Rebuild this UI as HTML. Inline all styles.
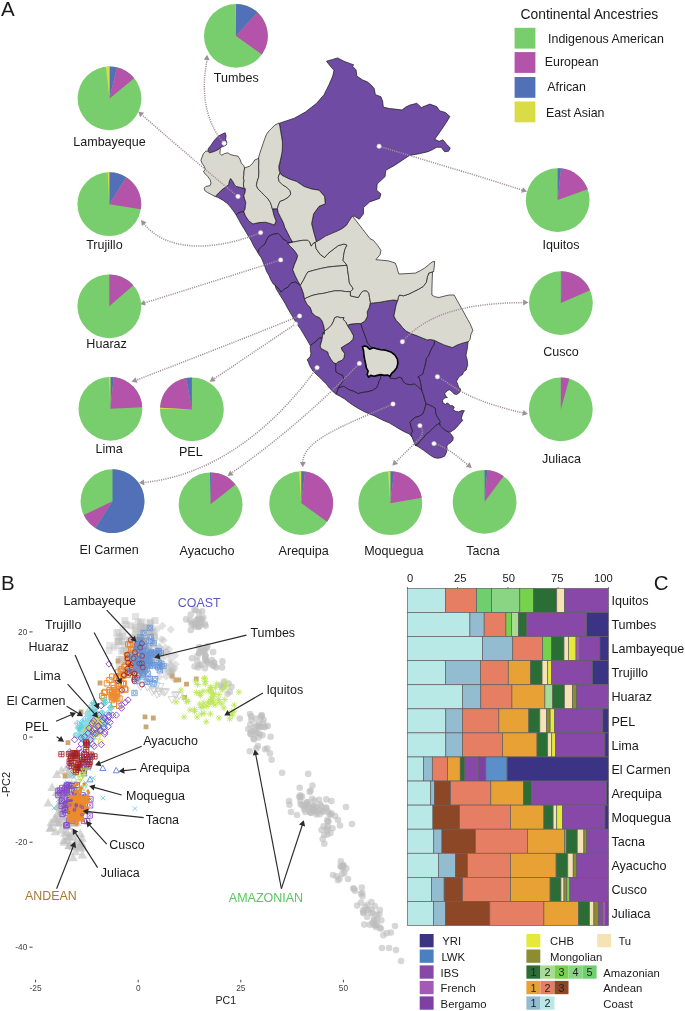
<!DOCTYPE html>
<html lang="en"><head><meta charset="utf-8"><title>Figure</title>
<style>html,body{margin:0;padding:0;background:#fff}body{width:685px;height:1011px;overflow:hidden;font-family:"Liberation Sans",Arial,sans-serif}svg{display:block}</style>
</head><body>
<svg width="685" height="1011" viewBox="0 0 685 1011" font-family="'Liberation Sans', Arial, sans-serif"><g id="panelA">
<g stroke="#1a1a1a" stroke-width="0.7" stroke-linejoin="round">
<polygon points="326.5,61.2 332.7,59.4 337.7,57.9 343.9,61.2 353.8,64.9 352.3,66.1 356.1,69.9 356.8,76.1 362.3,79.8 367.2,81.8 370.9,84.7 374.2,88.5 375.4,94.7 380.9,96.7 382.6,100.9 383.3,107.1 389.6,108.6 395.0,109.1 402.0,110.0 405.7,107.1 409.9,105.1 416.8,103.3 421.3,107.6 425.5,105.8 429.8,104.1 436.7,106.6 439.7,110.8 445.4,112.5 449.9,116.5 446.6,122.0 441.7,129.4 434.7,139.3 439.2,141.3 442.9,139.8 446.6,144.3 450.3,148.0 448.6,151.2 444.6,151.7 441.2,147.3 436.7,147.3 432.2,149.8 428.0,151.7 419.3,153.7 409.4,155.5 402.0,160.4 394.5,165.4 385.8,170.3 385.1,176.6 377.1,184.0 376.7,190.2 380.9,193.9 379.6,198.4 369.7,201.9 363.5,207.6 363.5,213.8 359.3,219.2 353.6,215.8 348.6,223.7 339.9,229.9 330.2,236.1 321.6,241.1 316.6,242.3 314.1,233.6 311.6,223.7 313.6,213.8 319.1,206.3 325.3,203.8 324.5,196.4 319.1,190.2 311.6,189.0 304.2,186.5 296.7,181.5 289.3,179.0 281.8,175.3 278.9,169.1 280.6,159.2 282.3,149.3 281.8,136.8 279.4,123.2 286.8,120.7 294.3,118.2 305.4,112.0 316.6,103.3 324.0,94.7 329.0,84.7 332.7,76.1 334.0,70.3 330.2,66.1" fill="#704ba3"/>
<polygon points="208.1,148.9 211.0,145.2 214.3,140.2 218.5,136.0 222.7,133.8 225.3,132.8 226.1,136.0 225.6,139.3 226.9,142.7 226.1,145.2 222.7,146.6 220.2,147.7 218.5,149.4 215.2,151.1 211.8,152.3 209.3,152.8 208.1,151.1" fill="#704ba3"/>
<polygon points="215.2,196.5 218.5,193.1 221.9,189.8 225.3,187.2 228.6,184.7 229.5,180.5 230.6,178.5 232.8,181.4 234.5,184.7 236.2,186.4 239.6,187.2 242.9,188.1 245.4,188.9 245.1,192.3 243.8,195.7 244.6,199.0 245.8,202.4 245.4,205.7 245.1,209.1 243.8,211.6 240.4,212.1 237.9,213.3 236.2,215.0 234.5,212.5 232.0,209.1 229.5,205.7 226.9,203.2 223.6,200.7 220.2,198.7 217.7,197.3" fill="#704ba3"/>
<polygon points="236.2,215.0 237.9,213.3 240.4,212.1 243.8,211.6 245.4,215.8 248.8,220.9 253.0,223.9 258.9,222.6 265.6,222.2 271.5,223.9 274.4,225.1 276.0,220.9 274.0,215.8 272.7,209.1 277.4,208.8 278.2,212.5 280.7,217.5 283.3,222.6 284.9,227.6 287.5,232.6 290.0,237.7 292.5,241.9 289.1,243.6 286.6,241.0 283.3,239.4 280.7,236.0 278.2,233.5 273.2,234.3 269.0,236.0 266.5,240.2 264.8,244.4 262.2,246.1 258.9,249.5 258.0,252.8 256.4,250.3 253.8,246.1 251.3,241.0 248.8,236.8 246.3,232.6 243.8,228.4 241.2,224.2 239.0,220.0 237.0,216.7" fill="#704ba3"/>
<polygon points="258.0,252.8 258.9,249.5 262.2,246.1 264.8,244.4 266.5,240.2 269.0,236.0 273.2,234.3 278.2,233.5 280.7,236.0 283.3,239.4 286.6,241.0 289.1,243.6 292.5,241.9 287.7,243.4 290.2,246.2 294.4,250.4 297.7,255.5 296.9,258.8 294.4,264.7 292.7,269.8 295.2,275.7 297.7,280.7 300.3,285.4 295.2,282.0 291.0,283.2 287.7,287.4 284.3,289.1 280.9,292.1 279.2,289.1 276.7,287.4 275.0,284.9 273.2,283.9 270.7,279.7 269.0,275.5 266.5,271.3 264.8,266.3 263.1,262.1 261.4,257.9 258.9,254.5" fill="#704ba3"/>
<polygon points="275.0,284.9 276.7,287.4 279.2,289.1 280.9,292.1 284.3,289.1 287.7,287.4 291.0,283.2 295.2,282.0 300.3,285.4 301.9,289.1 303.6,294.1 304.5,298.9 305.3,300.9 307.0,304.2 310.3,307.6 312.0,312.6 315.4,316.0 319.6,317.7 322.1,321.0 323.8,326.1 324.6,331.1 324.1,334.5 323.5,332.0 322.7,335.0 322.4,337.6 318.5,338.4 316.8,340.9 310.3,345.5 307.8,341.2 305.3,337.0 302.8,332.8 300.3,328.6 297.7,325.3 295.2,321.0 292.7,316.8 290.2,312.6 287.7,308.4 285.5,304.2 283.1,300.0 280.4,295.8 278.1,292.1 275.9,288.3" fill="#704ba3"/>
<polygon points="310.3,345.5 316.8,340.9 318.5,338.4 322.4,337.6 321.9,340.1 320.2,346.0 321.0,348.5 324.4,350.2 327.7,351.9 328.6,355.2 331.1,359.4 333.6,362.8 336.1,363.6 335.6,367.8 336.1,372.0 339.5,374.0 342.9,375.4 344.0,379.6 341.2,383.8 338.3,388.0 337.0,392.2 336.1,394.2 332.8,391.4 329.4,388.0 326.1,383.8 322.7,380.4 319.3,377.1 316.0,374.0 313.1,371.2 310.9,367.8 309.2,364.5 308.4,361.9 307.1,359.9 308.1,358.6 310.1,356.9 310.9,353.5 310.4,350.2 310.3,346.8" fill="#704ba3"/>
<polygon points="347.3,325.3 350.7,324.1 355.7,323.6 360.8,323.6 363.3,331.1 365.8,337.9 367.5,342.9 370.9,347.1 373.1,347.7 369.8,349.3 367.2,346.8 364.7,346.0 362.5,346.8 363.6,351.0 363.9,355.2 364.7,359.4 365.6,363.6 366.4,367.8 368.1,371.2 367.2,374.6 368.6,377.1 370.6,375.4 374.0,376.2 377.3,375.4 380.7,374.6 380.7,378.8 379.0,381.3 378.2,384.6 376.5,388.0 372.3,390.5 367.2,391.9 362.2,392.5 358.0,393.6 353.8,391.4 348.8,389.7 343.7,386.3 338.3,388.0 341.2,383.8 344.0,379.6 342.9,375.4 339.5,374.0 336.1,372.0 335.6,367.8 336.1,363.6 337.8,361.9 342.0,360.3 344.0,357.7 344.6,353.5 342.0,350.2 341.2,347.7 345.4,345.1 349.6,342.6 353.0,339.2 353.5,335.9 351.3,331.7 350.4,330.0 349.9,329.5" fill="#704ba3"/>
<polygon points="338.3,388.0 343.7,386.3 348.8,389.7 353.8,391.4 358.0,393.6 362.2,392.5 367.2,391.9 372.3,390.5 376.5,388.0 378.2,384.6 379.0,381.3 380.7,378.8 380.7,374.6 384.1,375.4 387.4,375.1 389.9,376.2 391.6,373.4 390.0,378.0 395.0,378.8 399.2,377.2 401.8,378.0 403.1,381.4 406.0,383.9 410.2,384.7 414.4,383.9 417.7,386.4 421.6,389.8 421.9,390.6 423.6,394.8 424.5,399.0 426.1,403.7 425.3,406.6 424.5,409.9 422.8,414.1 419.4,416.2 415.2,417.5 411.9,420.0 410.2,422.6 411.0,426.8 412.7,431.0 411.0,434.3 412.6,437.6 409.3,433.9 404.2,431.7 399.2,428.9 394.1,425.8 389.1,422.8 384.1,420.8 379.0,418.3 374.0,415.7 368.9,413.7 363.9,411.5 358.8,408.7 353.8,405.7 348.8,402.3 344.6,398.9 340.3,396.4 336.1,394.2 337.0,392.2" fill="#704ba3"/>
<polygon points="426.1,403.7 429.5,404.9 432.9,406.6 435.4,408.3 435.7,412.5 436.7,415.8 438.8,419.2 440.4,421.7 439.6,423.4 436.2,425.1 432.9,428.4 429.5,431.8 426.1,434.3 423.6,437.7 420.3,441.0 417.7,444.4 415.2,445.3 413.5,441.0 411.9,436.8 411.0,434.3 412.7,431.0 411.0,426.8 410.2,422.6 411.9,420.0 415.2,417.5 419.4,416.2 422.8,414.1 424.5,409.9 425.3,406.6" fill="#704ba3"/>
<polygon points="415.2,445.3 417.7,444.4 420.3,441.0 423.6,437.7 426.1,434.3 429.5,431.8 432.9,428.4 436.2,425.1 439.6,423.4 440.4,425.9 443.0,428.4 446.3,431.0 449.2,432.3 451.5,434.7 453.2,437.2 452.9,440.2 450.9,442.4 448.3,444.1 446.8,446.1 447.2,449.5 446.3,452.8 444.6,456.2 440.4,457.9 437.1,458.2 434.0,457.5 430.3,455.3 427.0,452.8 423.6,450.3 420.3,448.1 417.7,446.4" fill="#704ba3"/>
<polygon points="434.6,340.2 438.8,341.9 443.8,343.9 448.8,346.1 453.0,347.2 457.2,344.9 463.1,342.7 468.2,341.0 467.7,345.2 467.0,350.3 466.0,355.3 467.3,360.3 467.7,365.4 466.7,367.9 466.2,370.0 463.5,371.8 462.7,374.4 460.0,376.1 457.8,378.8 456.5,381.4 457.8,384.4 458.7,387.5 460.5,388.8 460.7,391.0 458.7,393.2 456.5,394.5 454.3,394.1 452.6,392.3 450.8,390.6 449.1,389.7 446.9,391.0 444.7,393.6 445.6,395.8 447.3,397.6 446.0,397.6 443.8,398.5 442.5,400.6 443.2,403.3 445.6,404.3 447.3,402.8 448.2,403.7 450.4,405.5 453.0,405.9 454.3,407.2 453.0,409.8 455.6,411.2 458.7,411.9 461.8,410.5 464.4,410.7 463.1,412.9 462.2,415.5 461.3,418.2 462.7,420.4 460.9,422.5 458.7,424.7 456.5,427.4 454.3,429.5 452.1,430.9 450.4,432.2 446.3,431.0 443.0,428.4 440.4,425.9 439.6,423.4 440.4,421.7 438.8,419.2 436.7,415.8 435.7,412.5 435.4,408.3 432.9,406.6 429.5,404.9 426.1,403.7 424.5,399.0 423.6,394.8 421.9,390.6 421.1,386.4 420.3,382.2 419.4,378.0 417.7,377.2 420.3,375.5 422.8,373.8 423.6,370.4 424.5,367.1 425.6,362.9 426.1,358.7 428.7,355.3 430.3,351.1 432.0,347.7 434.0,344.4" fill="#704ba3"/>
<polygon points="370.5,302.6 369.2,307.6 367.2,311.8 367.5,316.0 365.0,321.0 360.8,323.6 363.3,331.1 365.8,337.9 367.5,342.9 370.9,347.1 373.1,347.7 376.5,348.8 380.7,349.8 385.7,350.2 390.8,351.9 395.0,355.2 397.5,359.4 397.8,363.6 396.7,367.8 394.1,371.2 391.6,373.4 390.0,378.0 395.0,378.8 399.2,377.2 401.8,378.0 403.1,381.4 406.0,383.9 410.2,384.7 414.4,383.9 417.7,386.4 421.6,389.8 421.1,386.4 420.3,382.2 419.4,378.0 417.7,377.2 420.3,375.5 422.8,373.8 423.6,370.4 424.5,367.1 425.6,362.9 426.1,358.7 428.7,355.3 430.3,351.1 432.0,347.7 434.0,344.4 434.6,340.2 434.7,340.4 430.5,339.5 427.2,339.9 422.1,337.9 417.1,335.8 411.2,333.7 406.1,331.1 402.8,327.8 399.4,323.6 396.1,320.2 393.9,316.0 394.9,311.0 396.1,305.1 397.7,300.5 393.5,300.0 386.8,300.9 380.1,302.2 373.4,302.9 370.0,303.4" fill="#704ba3"/>
<polygon points="208.1,151.1 209.3,152.8 211.8,152.3 215.2,151.1 218.5,149.4 220.2,147.7 220.2,150.3 219.9,153.3 221.6,155.3 224.4,153.6 227.8,152.8 230.3,154.5 234.5,155.6 237.9,156.1 240.1,159.5 241.2,162.9 243.8,165.7 244.6,167.9 244.1,171.3 243.8,175.5 243.3,178.0 244.1,180.5 243.4,183.9 243.8,187.2 245.4,188.9 242.9,188.1 239.6,187.2 236.2,186.4 234.5,184.7 232.8,181.4 230.6,178.5 229.5,180.5 228.6,184.7 225.3,187.2 221.9,189.8 218.5,193.1 215.2,196.5 211.8,194.8 207.6,192.6 204.8,190.6 204.2,188.1 205.9,186.4 210.1,185.6 211.0,183.0 210.1,179.7 207.6,176.3 205.1,173.8 203.4,171.3 205.4,169.6 204.2,166.2 202.1,163.4 200.9,160.3 202.1,157.0 203.4,153.6 205.9,151.1" fill="#d9d9cf"/>
<polygon points="244.6,167.9 247.1,167.1 249.6,166.2 253.0,162.9 254.7,160.0 257.2,159.0 258.6,157.8 258.9,162.0 258.6,167.1 258.9,172.1 258.6,177.2 257.2,181.4 256.4,185.6 258.0,188.9 261.4,192.3 264.8,195.7 268.1,199.0 270.3,202.4 271.5,205.7 272.3,208.8 274.0,215.8 276.0,220.9 274.4,225.1 271.5,223.9 265.6,222.2 258.9,222.6 253.0,223.9 248.8,220.9 245.4,215.8 243.8,211.6 245.1,209.1 245.4,205.7 245.8,202.4 244.6,199.0 243.8,195.7 245.1,192.3 245.4,188.9 243.8,187.2 243.4,183.9 244.1,180.5 243.3,178.0 243.8,175.5 244.1,171.3" fill="#d9d9cf"/>
<polygon points="258.6,157.8 259.7,153.6 261.4,148.6 263.1,143.5 264.8,138.5 266.5,134.3 269.0,130.9 271.5,128.4 274.9,125.0 279.1,123.0 279.9,126.7 280.7,131.8 281.6,136.8 282.4,141.9 282.4,146.9 282.1,151.9 281.1,157.0 279.9,162.0 278.7,166.2 279.1,170.4 279.9,173.0 278.2,177.2 279.1,181.4 282.4,184.7 286.6,187.2 290.0,190.6 290.8,194.0 288.3,197.3 284.1,199.9 279.9,201.5 278.2,205.7 277.4,208.8 272.3,208.8 271.5,205.7 270.3,202.4 268.1,199.0 264.8,195.7 261.4,192.3 258.0,188.9 256.4,185.6 257.2,181.4 258.6,177.2 258.9,172.1 258.6,167.1 258.9,162.0" fill="#d9d9cf"/>
<polygon points="279.9,173.0 278.2,177.2 279.1,181.4 282.4,184.7 286.6,187.2 290.0,190.6 290.8,194.0 288.3,197.3 284.1,199.9 279.9,201.5 278.2,205.7 277.4,208.8 278.2,212.5 280.7,217.5 283.3,222.6 284.9,227.6 287.5,232.6 290.0,237.7 292.5,241.9 287.7,243.4 293.5,242.0 297.7,241.2 302.8,240.3 307.8,240.3 309.5,242.0 311.2,246.2 312.9,243.7 315.1,242.4 316.6,242.3 314.1,233.6 311.6,223.7 313.6,213.8 319.1,206.3 325.3,203.8 324.5,196.4 319.1,190.2 311.6,189.0 304.2,186.5 296.7,181.5 289.3,179.0 281.8,175.3" fill="#d9d9cf"/>
<polygon points="287.7,243.4 293.5,242.0 297.7,241.2 302.8,240.3 307.8,240.3 309.5,242.0 311.2,246.2 312.9,243.7 315.1,242.4 316.2,248.8 320.4,254.6 324.6,257.5 328.0,253.5 333.0,249.6 338.1,245.7 344.0,244.0 347.0,245.1 344.8,249.6 343.6,255.5 343.1,260.5 347.0,265.2 340.6,265.9 333.9,266.4 327.2,267.2 320.4,268.6 313.7,270.3 307.8,272.0 306.1,274.8 303.6,279.9 300.3,285.4 297.7,280.7 295.2,275.7 292.7,269.8 294.4,264.7 296.9,258.8 297.7,255.5 294.4,250.4 290.2,246.2" fill="#d9d9cf"/>
<polygon points="307.8,272.0 313.7,270.3 320.4,268.6 327.2,267.2 333.9,266.4 340.6,265.9 347.0,265.2 347.7,270.6 348.7,277.3 349.4,283.2 352.4,287.4 353.2,289.1 350.4,291.6 345.7,291.6 340.6,290.8 334.7,290.8 328.8,292.1 323.8,293.3 317.9,294.1 312.0,295.5 307.3,297.5 304.5,298.9 303.6,294.1 301.9,289.1 300.3,285.4 303.6,279.9 306.1,274.8" fill="#d9d9cf"/>
<polygon points="304.5,298.9 307.3,297.5 312.0,295.5 317.9,294.1 323.8,293.3 328.8,292.1 334.7,290.8 340.6,290.8 345.7,291.6 350.4,291.6 350.4,295.8 354.1,296.7 358.3,297.5 360.8,293.3 363.3,290.8 366.7,290.8 368.9,293.3 369.5,297.5 370.5,302.6 369.2,307.6 367.2,311.8 367.5,316.0 365.0,321.0 360.8,323.6 355.7,323.6 350.7,324.1 347.3,325.3 345.7,321.9 343.1,319.4 344.0,317.7 340.6,317.7 337.2,316.8 334.7,317.7 333.6,321.0 331.4,325.3 328.0,328.6 324.6,331.1 323.8,326.1 322.1,321.0 319.6,317.7 315.4,316.0 312.0,312.6 310.3,307.6 307.0,304.2 305.3,300.9" fill="#d9d9cf"/>
<polygon points="324.6,331.1 328.0,328.6 331.4,325.3 333.6,321.0 334.7,317.7 337.2,316.8 340.6,317.7 344.0,317.7 343.1,319.4 345.7,321.9 347.3,325.3 349.9,329.5 350.4,330.0 351.3,331.7 353.5,335.9 353.0,339.2 349.6,342.6 345.4,345.1 341.2,347.7 342.0,350.2 344.6,353.5 344.0,357.7 342.0,360.3 337.8,361.9 336.1,363.6 333.6,362.8 331.1,359.4 328.6,355.2 327.7,351.9 324.4,350.2 321.0,348.5 320.2,346.0 321.9,340.1 322.7,335.0 323.5,332.0 324.1,334.5" fill="#d9d9cf"/>
<polygon points="397.7,300.5 398.2,297.5 399.4,295.0 403.6,295.8 408.7,294.1 413.7,291.6 418.8,289.1 423.0,286.6 426.3,282.4 427.2,277.3 428.8,273.1 433.6,271.5 432.5,272.3 432.2,280.7 431.9,289.1 431.9,295.0 434.7,296.7 438.9,297.5 444.0,296.2 449.0,295.0 454.1,295.0 457.4,300.9 461.6,308.4 465.8,316.0 470.0,323.6 472.9,330.3 470.9,334.5 470.0,339.5 468.4,341.6 463.3,342.9 457.4,344.9 452.4,347.6 449.0,346.6 444.0,344.9 438.9,342.6 434.7,340.4 430.5,339.5 427.2,339.9 422.1,337.9 417.1,335.8 411.2,333.7 406.1,331.1 402.8,327.8 399.4,323.6 396.1,320.2 393.9,316.0 394.9,311.0 396.1,305.1" fill="#d9d9cf"/>
<polygon points="315.1,242.4 320.4,239.5 325.5,236.1 331.4,233.6 337.2,231.1 342.3,228.6 346.5,225.2 349.0,221.0 352.4,216.0 370.0,238.7 373.4,240.3 377.6,245.4 380.9,250.4 380.1,254.6 375.9,259.7 381.8,260.2 388.5,260.9 395.2,263.0 396.9,267.2 397.7,270.6 398.9,274.0 407.0,273.6 415.4,273.1 420.4,270.6 424.6,268.1 428.8,264.7 432.2,261.9 434.7,261.4 434.2,267.2 433.6,271.5 428.8,273.1 427.2,277.3 426.3,282.4 423.0,286.6 418.8,289.1 413.7,291.6 408.7,294.1 403.6,295.8 399.4,295.0 398.2,297.5 397.7,300.5 393.5,300.0 386.8,300.9 380.1,302.2 373.4,302.9 370.0,303.4 370.5,302.6 369.5,297.5 368.9,293.3 366.7,290.8 363.3,290.8 360.8,293.3 358.3,297.5 354.1,296.7 350.4,295.8 350.4,291.6 353.2,289.1 352.4,287.4 349.4,283.2 348.7,277.3 347.7,270.6 347.0,265.2 343.1,260.5 343.6,255.5 344.8,249.6 347.0,245.1 344.0,244.0 338.1,245.7 333.0,249.6 328.0,253.5 324.6,257.5 320.4,254.6 316.2,248.8" fill="#d9d9cf"/>
<polygon points="362.5,346.8 364.7,346.0 367.2,346.8 369.8,349.3 373.1,347.7 376.5,348.8 380.7,349.8 385.7,350.2 390.8,351.9 395.0,355.2 397.5,359.4 397.8,363.6 396.7,367.8 394.1,371.2 391.6,373.4 389.9,376.2 387.4,375.1 384.1,375.4 380.7,374.6 377.3,375.4 374.0,376.2 370.6,375.4 368.6,377.1 367.2,374.6 368.1,371.2 366.4,367.8 365.6,363.6 364.7,359.4 363.9,355.2 363.6,351.0" fill="#d9d9cf" stroke="#000" stroke-width="1.6"/>
</g>
<g fill="none" stroke="#a09199" stroke-width="1.5" stroke-dasharray="1.15 1.1">
<path d="M224.1,143.2 C210,128 199,100 207.1,60"/>
<path d="M238,196.5 Q205,170 141.5,114.5"/>
<path d="M260.6,232.6 C225,247.5 170,256.5 143.8,223.5"/>
<path d="M280.7,259.9 Q215,281 144.5,302.9"/>
<path d="M299.6,316 Q215,350 136,380.2"/>
<path d="M295.6,323.9 L213.5,379.2"/>
<path d="M317.1,367.6 C280,420 220,475 143.5,482.5"/>
<path d="M359.4,363.4 Q300,425 231.2,473.3"/>
<path d="M393,404 C345,425 303,440 302.8,462.5"/>
<path d="M419.9,425.6 Q426,432 418,440 L395.6,462.3"/>
<path d="M434,443.6 Q446,446 468,465.2"/>
<path d="M437.4,376.7 C452,384 462,399 523.5,413"/>
<path d="M402.4,341.7 C428,312 470,303 524,302.6"/>
<path d="M379.1,146.3 L480,176.7 L522.6,190.2"/>
</g>
<polygon points="0,0 -5.3,-3 -5.3,3" fill="#a09199" transform="translate(207.1,54.7) rotate(-86)"/>
<polygon points="0,0 -5.3,-3 -5.3,3" fill="#a09199" transform="translate(138.2,111.5) rotate(-138)"/>
<polygon points="0,0 -5.3,-3 -5.3,3" fill="#a09199" transform="translate(141,219.9) rotate(-128)"/>
<polygon points="0,0 -5.3,-3 -5.3,3" fill="#a09199" transform="translate(139.9,304.3) rotate(163)"/>
<polygon points="0,0 -5.3,-3 -5.3,3" fill="#a09199" transform="translate(131.5,381.8) rotate(160)"/>
<polygon points="0,0 -5.3,-3 -5.3,3" fill="#a09199" transform="translate(209.6,381.8) rotate(146)"/>
<polygon points="0,0 -5.3,-3 -5.3,3" fill="#a09199" transform="translate(138.9,482.8) rotate(176)"/>
<polygon points="0,0 -5.3,-3 -5.3,3" fill="#a09199" transform="translate(227.6,476) rotate(144)"/>
<polygon points="0,0 -5.3,-3 -5.3,3" fill="#a09199" transform="translate(302.8,467.3) rotate(90)"/>
<polygon points="0,0 -5.3,-3 -5.3,3" fill="#a09199" transform="translate(392.3,465.6) rotate(135)"/>
<polygon points="0,0 -5.3,-3 -5.3,3" fill="#a09199" transform="translate(471.8,468) rotate(40)"/>
<polygon points="0,0 -5.3,-3 -5.3,3" fill="#a09199" transform="translate(528,414) rotate(13)"/>
<polygon points="0,0 -5.3,-3 -5.3,3" fill="#a09199" transform="translate(528.5,302.6) rotate(0)"/>
<polygon points="0,0 -5.3,-3 -5.3,3" fill="#a09199" transform="translate(527.1,191.6) rotate(17.5)"/>
<circle cx="224.1" cy="143.2" r="2.2" fill="#fff" stroke="#c8bec4" stroke-width="0.5"/>
<circle cx="238" cy="196.5" r="2.2" fill="#fff" stroke="#c8bec4" stroke-width="0.5"/>
<circle cx="260.6" cy="232.6" r="2.2" fill="#fff" stroke="#c8bec4" stroke-width="0.5"/>
<circle cx="280.7" cy="259.9" r="2.2" fill="#fff" stroke="#c8bec4" stroke-width="0.5"/>
<circle cx="299.6" cy="316" r="2.2" fill="#fff" stroke="#c8bec4" stroke-width="0.5"/>
<circle cx="295.6" cy="323.9" r="2.2" fill="#fff" stroke="#c8bec4" stroke-width="0.5"/>
<circle cx="317.1" cy="367.6" r="2.2" fill="#fff" stroke="#c8bec4" stroke-width="0.5"/>
<circle cx="359.4" cy="363.4" r="2.2" fill="#fff" stroke="#c8bec4" stroke-width="0.5"/>
<circle cx="393" cy="404" r="2.2" fill="#fff" stroke="#c8bec4" stroke-width="0.5"/>
<circle cx="402.4" cy="341.7" r="2.2" fill="#fff" stroke="#c8bec4" stroke-width="0.5"/>
<circle cx="437.4" cy="376.7" r="2.2" fill="#fff" stroke="#c8bec4" stroke-width="0.5"/>
<circle cx="419.9" cy="425.6" r="2.2" fill="#fff" stroke="#c8bec4" stroke-width="0.5"/>
<circle cx="434" cy="443.6" r="2.2" fill="#fff" stroke="#c8bec4" stroke-width="0.5"/>
<circle cx="379.1" cy="146.3" r="2.2" fill="#fff" stroke="#c8bec4" stroke-width="0.5"/>
<circle cx="235.9" cy="35.9" r="31.9" fill="#78ce6c"/><path d="M235.9,35.9 L235.90,4.00 A31.9,31.9 0 0 1 257.41,12.34 Z" fill="#5170b8"/><path d="M235.9,35.9 L257.41,12.34 A31.9,31.9 0 0 1 261.90,54.38 Z" fill="#b353aa"/><path d="M235.9,35.9 L235.34,4.00 A31.9,31.9 0 0 1 235.90,4.00 Z" fill="#d9dc45"/>
<circle cx="109.5" cy="98.4" r="31.9" fill="#78ce6c"/><path d="M109.5,98.4 L109.50,66.50 A31.9,31.9 0 0 1 116.84,67.36 Z" fill="#5170b8"/><path d="M109.5,98.4 L116.84,67.36 A31.9,31.9 0 0 1 134.22,78.24 Z" fill="#b353aa"/><path d="M109.5,98.4 L105.89,66.71 A31.9,31.9 0 0 1 109.50,66.50 Z" fill="#d9dc45"/>
<circle cx="109.3" cy="204.2" r="31.9" fill="#78ce6c"/><path d="M109.3,204.2 L109.30,172.30 A31.9,31.9 0 0 1 126.20,177.15 Z" fill="#5170b8"/><path d="M109.3,204.2 L126.20,177.15 A31.9,31.9 0 0 1 140.81,209.19 Z" fill="#b353aa"/><path d="M109.3,204.2 L107.63,172.34 A31.9,31.9 0 0 1 109.30,172.30 Z" fill="#d9dc45"/>
<circle cx="109.3" cy="306.3" r="31.9" fill="#78ce6c"/><path d="M109.3,306.3 L109.30,274.40 A31.9,31.9 0 0 1 133.38,285.37 Z" fill="#b353aa"/>
<circle cx="110.4" cy="408.8" r="31.9" fill="#78ce6c"/><path d="M110.4,408.8 L110.40,376.90 A31.9,31.9 0 0 1 113.73,377.07 Z" fill="#5170b8"/><path d="M110.4,408.8 L113.73,377.07 A31.9,31.9 0 0 1 142.26,407.13 Z" fill="#b353aa"/><path d="M110.4,408.8 L109.01,376.93 A31.9,31.9 0 0 1 110.40,376.90 Z" fill="#d9dc45"/>
<circle cx="191.9" cy="409.4" r="31.9" fill="#78ce6c"/><path d="M191.9,409.4 L186.09,378.03 A31.9,31.9 0 0 1 191.90,377.50 Z" fill="#5170b8"/><path d="M191.9,409.4 L160.04,407.73 A31.9,31.9 0 0 1 186.09,378.03 Z" fill="#b353aa"/><path d="M191.9,409.4 L160.00,409.12 A31.9,31.9 0 0 1 160.04,407.73 Z" fill="#d9dc45"/>
<circle cx="112.5" cy="501.2" r="31.9" fill="#78ce6c"/><path d="M112.5,501.2 L112.50,469.30 A31.9,31.9 0 1 1 95.27,528.04 Z" fill="#5170b8"/><path d="M112.5,501.2 L95.27,528.04 A31.9,31.9 0 0 1 83.78,515.08 Z" fill="#b353aa"/>
<circle cx="210.6" cy="504.3" r="31.9" fill="#78ce6c"/><path d="M210.6,504.3 L210.04,472.40 A31.9,31.9 0 0 1 211.16,472.40 Z" fill="#5170b8"/><path d="M210.6,504.3 L211.16,472.40 A31.9,31.9 0 0 1 235.53,484.40 Z" fill="#b353aa"/>
<circle cx="301.2" cy="503.1" r="31.9" fill="#78ce6c"/><path d="M301.2,503.1 L301.20,471.20 A31.9,31.9 0 0 1 305.09,471.44 Z" fill="#5170b8"/><path d="M301.2,503.1 L305.09,471.44 A31.9,31.9 0 0 1 327.14,521.67 Z" fill="#b353aa"/><path d="M301.2,503.1 L298.97,471.28 A31.9,31.9 0 0 1 301.20,471.20 Z" fill="#d9dc45"/>
<circle cx="390.3" cy="503.2" r="31.9" fill="#78ce6c"/><path d="M390.3,503.2 L390.30,471.30 A31.9,31.9 0 0 1 394.19,471.54 Z" fill="#5170b8"/><path d="M390.3,503.2 L394.19,471.54 A31.9,31.9 0 0 1 421.72,497.66 Z" fill="#b353aa"/><path d="M390.3,503.2 L388.07,471.38 A31.9,31.9 0 0 1 390.30,471.30 Z" fill="#d9dc45"/>
<circle cx="484.6" cy="501.8" r="31.9" fill="#78ce6c"/><path d="M484.6,501.8 L484.60,469.90 A31.9,31.9 0 0 1 487.38,470.02 Z" fill="#5170b8"/><path d="M484.6,501.8 L487.38,470.02 A31.9,31.9 0 0 1 503.62,476.19 Z" fill="#b353aa"/>
<circle cx="560.8" cy="409.4" r="31.9" fill="#78ce6c"/><path d="M560.8,409.4 L560.80,377.50 A31.9,31.9 0 0 1 569.27,378.65 Z" fill="#b353aa"/>
<circle cx="560.9" cy="303.1" r="31.9" fill="#78ce6c"/><path d="M560.9,303.1 L560.90,271.20 A31.9,31.9 0 0 1 561.74,271.21 Z" fill="#5170b8"/><path d="M560.9,303.1 L561.74,271.21 A31.9,31.9 0 0 1 590.11,290.28 Z" fill="#b353aa"/>
<circle cx="557.7" cy="200.1" r="31.9" fill="#78ce6c"/><path d="M557.7,200.1 L557.70,168.20 A31.9,31.9 0 0 1 561.03,168.37 Z" fill="#5170b8"/><path d="M557.7,200.1 L561.03,168.37 A31.9,31.9 0 0 1 587.66,189.14 Z" fill="#b353aa"/>
<g font-size="12.55" text-anchor="middle" fill="#1a1a1a">
<text x="236.3" y="82.3">Tumbes</text>
<text x="109.5" y="145.7">Lambayeque</text>
<text x="104.4" y="248.8">Trujillo</text>
<text x="106.6" y="347.5">Huaraz</text>
<text x="109.1" y="453">Lima</text>
<text x="190.8" y="456">PEL</text>
<text x="109.2" y="553.5">El Carmen</text>
<text x="207" y="554.6">Ayacucho</text>
<text x="303.7" y="554.6">Arequipa</text>
<text x="393.8" y="554.6">Moquegua</text>
<text x="483" y="554.6">Tacna</text>
<text x="561.5" y="462.5">Juliaca</text>
<text x="561" y="355.5">Cusco</text>
<text x="561" y="248.8">Iquitos</text>
</g>
<text x="589.4" y="18.9" font-size="13.85" text-anchor="middle" fill="#1a1a1a">Continental Ancestries</text>
<rect x="514.6" y="27.8" width="20.8" height="20.8" fill="#78ce6c"/>
<text x="548.1" y="42.7" font-size="12.4" fill="#1a1a1a">Indigenous American</text>
<rect x="514.6" y="52.1" width="20.8" height="20.8" fill="#b353aa"/>
<text x="544.8" y="66.2" font-size="12.4" fill="#1a1a1a">European</text>
<rect x="514.6" y="77" width="20.8" height="20.8" fill="#5170b8"/>
<text x="547.3" y="90.7" font-size="12.4" fill="#1a1a1a">African</text>
<rect x="514.6" y="101.5" width="20.8" height="20.8" fill="#d9dc45"/>
<text x="545.9" y="116.7" font-size="12.4" fill="#1a1a1a">East Asian</text>
<text x="0.9" y="15.9" font-size="20.5" fill="#1a1a1a">A</text>
</g>
<g id="panelC">
<g stroke="#5f5f5f" stroke-width="0.7">
<rect x="407.40" y="588.40" width="37.99" height="24.08" fill="#b9e9e6"/>
<rect x="445.39" y="588.40" width="31.16" height="24.08" fill="#e67e64"/>
<rect x="476.54" y="588.40" width="15.07" height="24.08" fill="#6fcf6f"/>
<rect x="491.62" y="588.40" width="28.14" height="24.08" fill="#8ad583"/>
<rect x="519.76" y="588.40" width="13.87" height="24.08" fill="#76d14c"/>
<rect x="533.63" y="588.40" width="23.12" height="24.08" fill="#2a6e35"/>
<rect x="556.74" y="588.40" width="7.84" height="24.08" fill="#f5e3b5"/>
<rect x="564.58" y="588.40" width="43.82" height="24.08" fill="#8848a8"/>
<rect x="407.40" y="612.48" width="62.51" height="24.08" fill="#b9e9e6"/>
<rect x="469.91" y="612.48" width="14.27" height="24.08" fill="#93bcd0"/>
<rect x="484.18" y="612.48" width="21.71" height="24.08" fill="#e67e64"/>
<rect x="505.89" y="612.48" width="5.63" height="24.08" fill="#76d14c"/>
<rect x="511.52" y="612.48" width="6.83" height="24.08" fill="#a7dc95"/>
<rect x="518.35" y="612.48" width="8.24" height="24.08" fill="#2a6e35"/>
<rect x="526.59" y="612.48" width="60.10" height="24.08" fill="#8848a8"/>
<rect x="586.69" y="612.48" width="21.71" height="24.08" fill="#3b3484"/>
<rect x="407.40" y="636.56" width="75.17" height="24.08" fill="#b9e9e6"/>
<rect x="482.57" y="636.56" width="30.15" height="24.08" fill="#93bcd0"/>
<rect x="512.72" y="636.56" width="29.95" height="24.08" fill="#e67e64"/>
<rect x="542.67" y="636.56" width="8.84" height="24.08" fill="#76d14c"/>
<rect x="551.52" y="636.56" width="12.46" height="24.08" fill="#2a6e35"/>
<rect x="563.98" y="636.56" width="4.42" height="24.08" fill="#f5e3b5"/>
<rect x="568.40" y="636.56" width="7.64" height="24.08" fill="#e6e83a"/>
<rect x="576.04" y="636.56" width="3.82" height="24.08" fill="#a35ab5"/>
<rect x="579.86" y="636.56" width="20.10" height="24.08" fill="#8848a8"/>
<rect x="599.96" y="636.56" width="8.44" height="24.08" fill="#3b3484"/>
<rect x="407.40" y="660.64" width="37.99" height="24.08" fill="#b9e9e6"/>
<rect x="445.39" y="660.64" width="34.97" height="24.08" fill="#93bcd0"/>
<rect x="480.36" y="660.64" width="27.94" height="24.08" fill="#e67e64"/>
<rect x="508.30" y="660.64" width="22.11" height="24.08" fill="#e8a135"/>
<rect x="530.41" y="660.64" width="11.66" height="24.08" fill="#2a6e35"/>
<rect x="542.07" y="660.64" width="5.63" height="24.08" fill="#f5e3b5"/>
<rect x="547.70" y="660.64" width="3.82" height="24.08" fill="#e6e83a"/>
<rect x="551.52" y="660.64" width="40.80" height="24.08" fill="#8848a8"/>
<rect x="592.32" y="660.64" width="16.08" height="24.08" fill="#3b3484"/>
<rect x="407.40" y="684.72" width="55.07" height="24.08" fill="#b9e9e6"/>
<rect x="462.47" y="684.72" width="18.29" height="24.08" fill="#93bcd0"/>
<rect x="480.76" y="684.72" width="31.15" height="24.08" fill="#e67e64"/>
<rect x="511.92" y="684.72" width="32.96" height="24.08" fill="#e8a135"/>
<rect x="544.88" y="684.72" width="7.84" height="24.08" fill="#a7dc95"/>
<rect x="552.72" y="684.72" width="11.66" height="24.08" fill="#2a6e35"/>
<rect x="564.38" y="684.72" width="8.24" height="24.08" fill="#f5e3b5"/>
<rect x="572.62" y="684.72" width="4.02" height="24.08" fill="#8c8c30"/>
<rect x="576.64" y="684.72" width="31.76" height="24.08" fill="#8848a8"/>
<rect x="407.40" y="708.80" width="38.39" height="24.08" fill="#b9e9e6"/>
<rect x="445.79" y="708.80" width="16.68" height="24.08" fill="#93bcd0"/>
<rect x="462.47" y="708.80" width="36.38" height="24.08" fill="#e67e64"/>
<rect x="498.85" y="708.80" width="29.95" height="24.08" fill="#e8a135"/>
<rect x="528.80" y="708.80" width="11.05" height="24.08" fill="#2a6e35"/>
<rect x="539.86" y="708.80" width="6.83" height="24.08" fill="#f5e3b5"/>
<rect x="546.69" y="708.80" width="3.42" height="24.08" fill="#8c8c30"/>
<rect x="550.11" y="708.80" width="4.42" height="24.08" fill="#e6e83a"/>
<rect x="554.53" y="708.80" width="48.24" height="24.08" fill="#8848a8"/>
<rect x="602.77" y="708.80" width="5.63" height="24.08" fill="#3b3484"/>
<rect x="407.40" y="732.88" width="38.39" height="24.08" fill="#b9e9e6"/>
<rect x="445.79" y="732.88" width="16.68" height="24.08" fill="#93bcd0"/>
<rect x="462.47" y="732.88" width="40.20" height="24.08" fill="#e67e64"/>
<rect x="502.67" y="732.88" width="34.37" height="24.08" fill="#e8a135"/>
<rect x="537.04" y="732.88" width="10.65" height="24.08" fill="#2a6e35"/>
<rect x="547.70" y="732.88" width="4.02" height="24.08" fill="#f5e3b5"/>
<rect x="551.72" y="732.88" width="3.62" height="24.08" fill="#e6e83a"/>
<rect x="555.34" y="732.88" width="49.65" height="24.08" fill="#8848a8"/>
<rect x="604.98" y="732.88" width="3.42" height="24.08" fill="#3b3484"/>
<rect x="407.40" y="756.96" width="16.08" height="24.08" fill="#b9e9e6"/>
<rect x="423.48" y="756.96" width="8.84" height="24.08" fill="#93bcd0"/>
<rect x="432.32" y="756.96" width="15.28" height="24.08" fill="#e67e64"/>
<rect x="447.60" y="756.96" width="12.66" height="24.08" fill="#e8a135"/>
<rect x="460.26" y="756.96" width="4.62" height="24.08" fill="#2a6e35"/>
<rect x="464.89" y="756.96" width="13.67" height="24.08" fill="#8848a8"/>
<rect x="478.55" y="756.96" width="7.24" height="24.08" fill="#7f3fa5"/>
<rect x="485.79" y="756.96" width="21.31" height="24.08" fill="#5b8fc9"/>
<rect x="507.10" y="756.96" width="101.30" height="24.08" fill="#3b3484"/>
<rect x="407.40" y="781.04" width="23.32" height="24.08" fill="#b9e9e6"/>
<rect x="430.72" y="781.04" width="3.82" height="24.08" fill="#93bcd0"/>
<rect x="434.53" y="781.04" width="15.88" height="24.08" fill="#8b4726"/>
<rect x="450.41" y="781.04" width="40.40" height="24.08" fill="#e67e64"/>
<rect x="490.81" y="781.04" width="32.56" height="24.08" fill="#e8a135"/>
<rect x="523.38" y="781.04" width="8.04" height="24.08" fill="#2a6e35"/>
<rect x="531.42" y="781.04" width="74.97" height="24.08" fill="#8848a8"/>
<rect x="606.39" y="781.04" width="2.01" height="24.08" fill="#3b3484"/>
<rect x="407.40" y="805.12" width="25.53" height="24.08" fill="#b9e9e6"/>
<rect x="432.93" y="805.12" width="26.73" height="24.08" fill="#8b4726"/>
<rect x="459.66" y="805.12" width="50.85" height="24.08" fill="#e67e64"/>
<rect x="510.51" y="805.12" width="33.37" height="24.08" fill="#e8a135"/>
<rect x="543.88" y="805.12" width="9.25" height="24.08" fill="#2a6e35"/>
<rect x="553.12" y="805.12" width="3.62" height="24.08" fill="#f5e3b5"/>
<rect x="556.74" y="805.12" width="5.83" height="24.08" fill="#e6e83a"/>
<rect x="562.57" y="805.12" width="42.41" height="24.08" fill="#8848a8"/>
<rect x="604.98" y="805.12" width="3.42" height="24.08" fill="#3b3484"/>
<rect x="407.40" y="829.20" width="26.33" height="24.08" fill="#b9e9e6"/>
<rect x="433.73" y="829.20" width="8.24" height="24.08" fill="#93bcd0"/>
<rect x="441.97" y="829.20" width="33.37" height="24.08" fill="#8b4726"/>
<rect x="475.34" y="829.20" width="52.26" height="24.08" fill="#e67e64"/>
<rect x="527.60" y="829.20" width="36.78" height="24.08" fill="#e8a135"/>
<rect x="564.38" y="829.20" width="1.81" height="24.08" fill="#76d14c"/>
<rect x="566.19" y="829.20" width="11.06" height="24.08" fill="#2a6e35"/>
<rect x="577.25" y="829.20" width="6.63" height="24.08" fill="#f5e3b5"/>
<rect x="583.88" y="829.20" width="2.81" height="24.08" fill="#8c8c30"/>
<rect x="586.69" y="829.20" width="21.71" height="24.08" fill="#8848a8"/>
<rect x="407.40" y="853.28" width="31.15" height="24.08" fill="#b9e9e6"/>
<rect x="438.55" y="853.28" width="16.88" height="24.08" fill="#93bcd0"/>
<rect x="455.44" y="853.28" width="12.06" height="24.08" fill="#8b4726"/>
<rect x="467.50" y="853.28" width="43.01" height="24.08" fill="#e67e64"/>
<rect x="510.51" y="853.28" width="45.63" height="24.08" fill="#e8a135"/>
<rect x="556.14" y="853.28" width="11.66" height="24.08" fill="#2a6e35"/>
<rect x="567.80" y="853.28" width="5.43" height="24.08" fill="#f5e3b5"/>
<rect x="573.22" y="853.28" width="3.42" height="24.08" fill="#8c8c30"/>
<rect x="576.64" y="853.28" width="31.76" height="24.08" fill="#8848a8"/>
<rect x="407.40" y="877.36" width="24.12" height="24.08" fill="#b9e9e6"/>
<rect x="431.52" y="877.36" width="12.66" height="24.08" fill="#93bcd0"/>
<rect x="444.18" y="877.36" width="18.49" height="24.08" fill="#8b4726"/>
<rect x="462.67" y="877.36" width="47.84" height="24.08" fill="#e67e64"/>
<rect x="510.51" y="877.36" width="39.60" height="24.08" fill="#e8a135"/>
<rect x="550.11" y="877.36" width="10.85" height="24.08" fill="#2a6e35"/>
<rect x="560.96" y="877.36" width="3.02" height="24.08" fill="#f5e3b5"/>
<rect x="563.98" y="877.36" width="2.81" height="24.08" fill="#8c8c30"/>
<rect x="566.79" y="877.36" width="3.01" height="24.08" fill="#76d14c"/>
<rect x="569.81" y="877.36" width="38.59" height="24.08" fill="#8848a8"/>
<rect x="407.40" y="901.44" width="26.13" height="24.08" fill="#b9e9e6"/>
<rect x="433.53" y="901.44" width="11.86" height="24.08" fill="#93bcd0"/>
<rect x="445.39" y="901.44" width="44.42" height="24.08" fill="#8b4726"/>
<rect x="489.81" y="901.44" width="54.07" height="24.08" fill="#e67e64"/>
<rect x="543.88" y="901.44" width="34.57" height="24.08" fill="#e8a135"/>
<rect x="578.45" y="901.44" width="11.05" height="24.08" fill="#2a6e35"/>
<rect x="589.51" y="901.44" width="4.42" height="24.08" fill="#f5e3b5"/>
<rect x="593.93" y="901.44" width="4.42" height="24.08" fill="#8c8c30"/>
<rect x="598.35" y="901.44" width="4.42" height="24.08" fill="#8848a8"/>
<rect x="602.77" y="901.44" width="2.81" height="24.08" fill="#a35ab5"/>
<rect x="605.59" y="901.44" width="2.81" height="24.08" fill="#7f3fa5"/>
</g>
<g font-size="12.6" fill="#1a1a1a">
<text x="611.4" y="605.1">Iquitos</text>
<text x="611.4" y="629.2">Tumbes</text>
<text x="611.4" y="653.3">Lambayeque</text>
<text x="611.4" y="677.3">Trujillo</text>
<text x="611.4" y="701.4">Huaraz</text>
<text x="611.4" y="725.5">PEL</text>
<text x="611.4" y="749.6">Lima</text>
<text x="611.4" y="773.7">El Carmen</text>
<text x="611.4" y="797.7">Arequipa</text>
<text x="611.4" y="821.8">Moquegua</text>
<text x="611.4" y="845.9">Tacna</text>
<text x="611.4" y="870.0">Ayacucho</text>
<text x="611.4" y="894.1">Cusco</text>
<text x="611.4" y="918.1">Juliaca</text>
</g>
<g font-size="11.2" fill="#1a1a1a" text-anchor="middle">
<text x="410.2" y="582.2">0</text>
<line x1="407.4" y1="587" x2="407.4" y2="588.4" stroke="#444" stroke-width="0.7"/>
<text x="460.3" y="582.2">25</text>
<line x1="457.6" y1="587" x2="457.6" y2="588.4" stroke="#444" stroke-width="0.7"/>
<text x="508.8" y="582.2">50</text>
<line x1="507.9" y1="587" x2="507.9" y2="588.4" stroke="#444" stroke-width="0.7"/>
<text x="557.2" y="582.2">75</text>
<line x1="558.1" y1="587" x2="558.1" y2="588.4" stroke="#444" stroke-width="0.7"/>
<text x="603.3" y="582.2">100</text>
<line x1="608.4" y1="587" x2="608.4" y2="588.4" stroke="#444" stroke-width="0.7"/>
</g>
<text x="653.8" y="590" font-size="20.5" fill="#1a1a1a">C</text>
<rect x="419.7" y="934.0" width="13.9" height="13.3" fill="#3b3484"/>
<text x="442.2" y="945.4" font-size="11.3" fill="#1a1a1a">YRI</text>
<rect x="419.7" y="949.5" width="13.9" height="13.3" fill="#4a7fc1"/>
<text x="441.4" y="960.9" font-size="11.3" fill="#1a1a1a">LWK</text>
<rect x="419.7" y="965.4" width="13.9" height="13.3" fill="#8848a8"/>
<text x="440.6" y="976.8" font-size="11.3" fill="#1a1a1a">IBS</text>
<rect x="419.7" y="980.9" width="13.9" height="13.3" fill="#a35ab5"/>
<text x="440.6" y="992.3" font-size="11.3" fill="#1a1a1a">French</text>
<rect x="419.7" y="996.4" width="13.9" height="13.3" fill="#7f3fa5"/>
<text x="440.6" y="1007.8" font-size="11.3" fill="#1a1a1a">Bergamo</text>
<rect x="526.4" y="934.0" width="13.9" height="13.3" fill="#e6e83a"/>
<text x="550.1" y="945.4" font-size="11.3" fill="#1a1a1a">CHB</text>
<rect x="526.4" y="949.5" width="13.9" height="13.3" fill="#8c8c30"/>
<text x="550.1" y="960.9" font-size="11.3" fill="#1a1a1a">Mongolian</text>
<rect x="597.2" y="934.0" width="13.9" height="13.3" fill="#f5e3b5"/>
<text x="618.4" y="945.4" font-size="11.3" fill="#1a1a1a">Tu</text>
<rect x="526.4" y="965.4" width="14.0" height="13.3" fill="#2a6e35"/>
<rect x="540.4" y="965.4" width="14.100000000000023" height="13.3" fill="#a7dc95"/>
<rect x="554.5" y="965.4" width="14.0" height="13.3" fill="#76d14c"/>
<rect x="568.5" y="965.4" width="14.0" height="13.3" fill="#8ad583"/>
<rect x="582.5" y="965.4" width="14.100000000000023" height="13.3" fill="#6fcf6f"/>
<rect x="526.4" y="980.9" width="14.0" height="13.3" fill="#e8a135"/>
<rect x="540.4" y="980.9" width="14.100000000000023" height="13.3" fill="#e67e64"/>
<rect x="554.5" y="980.9" width="14.0" height="13.3" fill="#8b4726"/>
<rect x="526.4" y="996.4" width="14.0" height="13.3" fill="#93bcd0"/>
<rect x="540.4" y="996.4" width="14.100000000000023" height="13.3" fill="#b9e9e6"/>
<g font-size="10.8" fill="#222" text-anchor="middle">
<text x="533.4" y="976.2">1</text>
<text x="547.5" y="976.2">2</text>
<text x="561.5" y="976.2">3</text>
<text x="575.5" y="976.2">4</text>
<text x="589.5" y="976.2">5</text>
<text x="533.4" y="991.7">1</text>
<text x="547.5" y="991.7">2</text>
<text x="561.5" y="991.7">3</text>
<text x="533.4" y="1007.2">1</text>
<text x="547.5" y="1007.2">2</text>
</g>
<text x="603.3" y="976.8" font-size="11.3" fill="#1a1a1a">Amazonian</text>
<text x="603.3" y="992.3" font-size="11.3" fill="#1a1a1a">Andean</text>
<text x="603.3" y="1007.8" font-size="11.3" fill="#1a1a1a">Coast</text>
</g>
<g id="panelB">
<rect x="130.9" y="652.7" width="7.0" height="7.0" fill="#b9b9b9" fill-opacity="0.47"/>
<rect x="132.9" y="640.5" width="7.0" height="7.0" fill="#b9b9b9" fill-opacity="0.47"/>
<rect x="125.7" y="641.0" width="7.0" height="7.0" fill="#b9b9b9" fill-opacity="0.47"/>
<rect x="144.6" y="653.3" width="7.0" height="7.0" fill="#b9b9b9" fill-opacity="0.47"/>
<rect x="144.2" y="650.6" width="7.0" height="7.0" fill="#b9b9b9" fill-opacity="0.47"/>
<rect x="138.0" y="648.8" width="7.0" height="7.0" fill="#b9b9b9" fill-opacity="0.47"/>
<rect x="116.2" y="655.9" width="7.0" height="7.0" fill="#b9b9b9" fill-opacity="0.47"/>
<rect x="138.5" y="653.6" width="7.0" height="7.0" fill="#b9b9b9" fill-opacity="0.47"/>
<rect x="121.4" y="617.2" width="7.0" height="7.0" fill="#b9b9b9" fill-opacity="0.47"/>
<rect x="126.7" y="637.3" width="7.0" height="7.0" fill="#b9b9b9" fill-opacity="0.47"/>
<rect x="137.6" y="645.2" width="7.0" height="7.0" fill="#b9b9b9" fill-opacity="0.47"/>
<rect x="141.0" y="636.7" width="7.0" height="7.0" fill="#b9b9b9" fill-opacity="0.47"/>
<rect x="136.7" y="651.8" width="7.0" height="7.0" fill="#b9b9b9" fill-opacity="0.47"/>
<rect x="124.4" y="670.1" width="7.0" height="7.0" fill="#b9b9b9" fill-opacity="0.47"/>
<rect x="137.5" y="664.1" width="7.0" height="7.0" fill="#b9b9b9" fill-opacity="0.47"/>
<rect x="129.9" y="633.7" width="7.0" height="7.0" fill="#b9b9b9" fill-opacity="0.47"/>
<rect x="131.3" y="643.4" width="7.0" height="7.0" fill="#b9b9b9" fill-opacity="0.47"/>
<rect x="140.2" y="650.1" width="7.0" height="7.0" fill="#b9b9b9" fill-opacity="0.47"/>
<rect x="132.1" y="630.7" width="7.0" height="7.0" fill="#b9b9b9" fill-opacity="0.47"/>
<rect x="126.8" y="662.9" width="7.0" height="7.0" fill="#b9b9b9" fill-opacity="0.47"/>
<rect x="126.0" y="648.0" width="7.0" height="7.0" fill="#b9b9b9" fill-opacity="0.47"/>
<rect x="141.8" y="624.0" width="7.0" height="7.0" fill="#b9b9b9" fill-opacity="0.47"/>
<rect x="132.3" y="665.0" width="7.0" height="7.0" fill="#b9b9b9" fill-opacity="0.47"/>
<rect x="115.2" y="637.9" width="7.0" height="7.0" fill="#b9b9b9" fill-opacity="0.47"/>
<rect x="135.2" y="633.2" width="7.0" height="7.0" fill="#b9b9b9" fill-opacity="0.47"/>
<rect x="139.6" y="645.3" width="7.0" height="7.0" fill="#b9b9b9" fill-opacity="0.47"/>
<rect x="118.3" y="655.8" width="7.0" height="7.0" fill="#b9b9b9" fill-opacity="0.47"/>
<rect x="139.2" y="660.5" width="7.0" height="7.0" fill="#b9b9b9" fill-opacity="0.47"/>
<rect x="148.0" y="652.9" width="7.0" height="7.0" fill="#b9b9b9" fill-opacity="0.47"/>
<rect x="138.4" y="626.4" width="7.0" height="7.0" fill="#b9b9b9" fill-opacity="0.47"/>
<rect x="141.9" y="637.3" width="7.0" height="7.0" fill="#b9b9b9" fill-opacity="0.47"/>
<rect x="132.7" y="626.1" width="7.0" height="7.0" fill="#b9b9b9" fill-opacity="0.47"/>
<rect x="126.0" y="636.3" width="7.0" height="7.0" fill="#b9b9b9" fill-opacity="0.47"/>
<rect x="151.5" y="617.1" width="7.0" height="7.0" fill="#b9b9b9" fill-opacity="0.47"/>
<rect x="119.6" y="647.0" width="7.0" height="7.0" fill="#b9b9b9" fill-opacity="0.47"/>
<rect x="147.6" y="656.1" width="7.0" height="7.0" fill="#b9b9b9" fill-opacity="0.47"/>
<rect x="139.6" y="635.1" width="7.0" height="7.0" fill="#b9b9b9" fill-opacity="0.47"/>
<rect x="121.4" y="658.5" width="7.0" height="7.0" fill="#b9b9b9" fill-opacity="0.47"/>
<rect x="145.1" y="649.4" width="7.0" height="7.0" fill="#b9b9b9" fill-opacity="0.47"/>
<rect x="136.0" y="652.3" width="7.0" height="7.0" fill="#b9b9b9" fill-opacity="0.47"/>
<rect x="149.0" y="656.9" width="7.0" height="7.0" fill="#b9b9b9" fill-opacity="0.47"/>
<rect x="138.5" y="654.4" width="7.0" height="7.0" fill="#b9b9b9" fill-opacity="0.47"/>
<rect x="116.3" y="662.4" width="7.0" height="7.0" fill="#b9b9b9" fill-opacity="0.47"/>
<rect x="142.9" y="654.7" width="7.0" height="7.0" fill="#b9b9b9" fill-opacity="0.47"/>
<rect x="116.3" y="633.3" width="7.0" height="7.0" fill="#b9b9b9" fill-opacity="0.47"/>
<rect x="146.6" y="619.8" width="7.0" height="7.0" fill="#b9b9b9" fill-opacity="0.47"/>
<rect x="130.5" y="660.4" width="7.0" height="7.0" fill="#b9b9b9" fill-opacity="0.47"/>
<rect x="118.2" y="667.6" width="7.0" height="7.0" fill="#b9b9b9" fill-opacity="0.47"/>
<rect x="140.3" y="644.0" width="7.0" height="7.0" fill="#b9b9b9" fill-opacity="0.47"/>
<rect x="136.4" y="655.6" width="7.0" height="7.0" fill="#b9b9b9" fill-opacity="0.47"/>
<rect x="133.3" y="662.7" width="7.0" height="7.0" fill="#b9b9b9" fill-opacity="0.47"/>
<rect x="128.8" y="638.4" width="7.0" height="7.0" fill="#b9b9b9" fill-opacity="0.47"/>
<rect x="144.8" y="647.3" width="7.0" height="7.0" fill="#b9b9b9" fill-opacity="0.47"/>
<rect x="123.8" y="658.3" width="7.0" height="7.0" fill="#b9b9b9" fill-opacity="0.47"/>
<rect x="149.9" y="640.9" width="7.0" height="7.0" fill="#b9b9b9" fill-opacity="0.47"/>
<rect x="121.1" y="641.6" width="7.0" height="7.0" fill="#b9b9b9" fill-opacity="0.47"/>
<rect x="133.6" y="640.9" width="7.0" height="7.0" fill="#b9b9b9" fill-opacity="0.47"/>
<rect x="150.6" y="632.2" width="7.0" height="7.0" fill="#b9b9b9" fill-opacity="0.47"/>
<rect x="149.6" y="628.4" width="7.0" height="7.0" fill="#b9b9b9" fill-opacity="0.47"/>
<rect x="125.4" y="653.8" width="7.0" height="7.0" fill="#b9b9b9" fill-opacity="0.47"/>
<rect x="143.9" y="659.8" width="7.0" height="7.0" fill="#b9b9b9" fill-opacity="0.47"/>
<rect x="137.6" y="648.1" width="7.0" height="7.0" fill="#b9b9b9" fill-opacity="0.47"/>
<rect x="134.8" y="654.3" width="7.0" height="7.0" fill="#b9b9b9" fill-opacity="0.47"/>
<rect x="132.2" y="649.4" width="7.0" height="7.0" fill="#b9b9b9" fill-opacity="0.47"/>
<rect x="140.2" y="646.3" width="7.0" height="7.0" fill="#b9b9b9" fill-opacity="0.47"/>
<rect x="140.9" y="655.0" width="7.0" height="7.0" fill="#b9b9b9" fill-opacity="0.47"/>
<rect x="153.7" y="653.1" width="7.0" height="7.0" fill="#b9b9b9" fill-opacity="0.47"/>
<rect x="131.0" y="639.4" width="7.0" height="7.0" fill="#b9b9b9" fill-opacity="0.47"/>
<rect x="132.4" y="659.2" width="7.0" height="7.0" fill="#b9b9b9" fill-opacity="0.47"/>
<rect x="130.4" y="650.8" width="7.0" height="7.0" fill="#b9b9b9" fill-opacity="0.47"/>
<rect x="122.9" y="647.6" width="7.0" height="7.0" fill="#b9b9b9" fill-opacity="0.47"/>
<rect x="137.9" y="649.6" width="7.0" height="7.0" fill="#b9b9b9" fill-opacity="0.47"/>
<rect x="128.9" y="654.6" width="7.0" height="7.0" fill="#b9b9b9" fill-opacity="0.47"/>
<rect x="138.4" y="638.1" width="7.0" height="7.0" fill="#b9b9b9" fill-opacity="0.47"/>
<rect x="129.2" y="643.3" width="7.0" height="7.0" fill="#b9b9b9" fill-opacity="0.47"/>
<rect x="132.4" y="644.3" width="7.0" height="7.0" fill="#b9b9b9" fill-opacity="0.47"/>
<rect x="146.9" y="629.5" width="7.0" height="7.0" fill="#b9b9b9" fill-opacity="0.47"/>
<rect x="131.8" y="659.6" width="7.0" height="7.0" fill="#b9b9b9" fill-opacity="0.47"/>
<rect x="139.9" y="668.8" width="7.0" height="7.0" fill="#b9b9b9" fill-opacity="0.47"/>
<rect x="118.4" y="637.9" width="7.0" height="7.0" fill="#b9b9b9" fill-opacity="0.47"/>
<rect x="129.8" y="654.3" width="7.0" height="7.0" fill="#b9b9b9" fill-opacity="0.47"/>
<rect x="148.3" y="625.5" width="7.0" height="7.0" fill="#b9b9b9" fill-opacity="0.47"/>
<rect x="144.4" y="624.3" width="7.0" height="7.0" fill="#b9b9b9" fill-opacity="0.47"/>
<rect x="133.7" y="663.5" width="7.0" height="7.0" fill="#b9b9b9" fill-opacity="0.47"/>
<rect x="132.6" y="648.1" width="7.0" height="7.0" fill="#b9b9b9" fill-opacity="0.47"/>
<rect x="142.1" y="648.7" width="7.0" height="7.0" fill="#b9b9b9" fill-opacity="0.47"/>
<rect x="130.4" y="668.2" width="7.0" height="7.0" fill="#b9b9b9" fill-opacity="0.47"/>
<rect x="145.5" y="642.6" width="7.0" height="7.0" fill="#b9b9b9" fill-opacity="0.47"/>
<rect x="144.1" y="642.8" width="7.0" height="7.0" fill="#b9b9b9" fill-opacity="0.47"/>
<rect x="134.3" y="656.2" width="7.0" height="7.0" fill="#b9b9b9" fill-opacity="0.47"/>
<rect x="135.4" y="655.3" width="7.0" height="7.0" fill="#b9b9b9" fill-opacity="0.47"/>
<rect x="122.5" y="621.0" width="7.0" height="7.0" fill="#b9b9b9" fill-opacity="0.47"/>
<rect x="142.6" y="632.0" width="7.0" height="7.0" fill="#b9b9b9" fill-opacity="0.47"/>
<rect x="127.4" y="622.2" width="7.0" height="7.0" fill="#b9b9b9" fill-opacity="0.47"/>
<rect x="145.5" y="658.4" width="7.0" height="7.0" fill="#b9b9b9" fill-opacity="0.47"/>
<rect x="151.0" y="633.6" width="7.0" height="7.0" fill="#b9b9b9" fill-opacity="0.47"/>
<rect x="136.9" y="628.6" width="7.0" height="7.0" fill="#b9b9b9" fill-opacity="0.47"/>
<rect x="138.8" y="670.2" width="7.0" height="7.0" fill="#b9b9b9" fill-opacity="0.47"/>
<rect x="122.4" y="667.4" width="7.0" height="7.0" fill="#b9b9b9" fill-opacity="0.47"/>
<rect x="144.7" y="644.2" width="7.0" height="7.0" fill="#b9b9b9" fill-opacity="0.47"/>
<rect x="105.6" y="647.2" width="7.0" height="7.0" fill="#b9b9b9" fill-opacity="0.35"/>
<rect x="113.1" y="629.1" width="7.0" height="7.0" fill="#b9b9b9" fill-opacity="0.35"/>
<rect x="115.1" y="638.2" width="7.0" height="7.0" fill="#b9b9b9" fill-opacity="0.35"/>
<rect x="119.5" y="625.3" width="7.0" height="7.0" fill="#b9b9b9" fill-opacity="0.35"/>
<rect x="118.0" y="647.9" width="7.0" height="7.0" fill="#b9b9b9" fill-opacity="0.35"/>
<rect x="119.3" y="632.9" width="7.0" height="7.0" fill="#b9b9b9" fill-opacity="0.35"/>
<rect x="110.5" y="643.7" width="7.0" height="7.0" fill="#b9b9b9" fill-opacity="0.35"/>
<rect x="114.0" y="635.6" width="7.0" height="7.0" fill="#b9b9b9" fill-opacity="0.35"/>
<rect x="119.2" y="632.1" width="7.0" height="7.0" fill="#b9b9b9" fill-opacity="0.35"/>
<rect x="106.1" y="641.9" width="7.0" height="7.0" fill="#b9b9b9" fill-opacity="0.35"/>
<rect x="114.8" y="629.0" width="7.0" height="7.0" fill="#b9b9b9" fill-opacity="0.35"/>
<rect x="113.5" y="642.0" width="7.0" height="7.0" fill="#b9b9b9" fill-opacity="0.35"/>
<rect x="139.8" y="625.1" width="7.0" height="7.0" fill="#b9b9b9" fill-opacity="0.4"/>
<rect x="139.3" y="623.7" width="7.0" height="7.0" fill="#b9b9b9" fill-opacity="0.4"/>
<rect x="145.5" y="626.5" width="7.0" height="7.0" fill="#b9b9b9" fill-opacity="0.4"/>
<rect x="136.8" y="622.9" width="7.0" height="7.0" fill="#b9b9b9" fill-opacity="0.4"/>
<rect x="132.0" y="613.1" width="7.0" height="7.0" fill="#b9b9b9" fill-opacity="0.4"/>
<rect x="131.6" y="623.8" width="7.0" height="7.0" fill="#b9b9b9" fill-opacity="0.4"/>
<rect x="134.6" y="618.4" width="7.0" height="7.0" fill="#b9b9b9" fill-opacity="0.4"/>
<rect x="138.7" y="618.4" width="7.0" height="7.0" fill="#b9b9b9" fill-opacity="0.4"/>
<rect x="137.1" y="619.7" width="7.0" height="7.0" fill="#b9b9b9" fill-opacity="0.4"/>
<rect x="146.7" y="618.7" width="7.0" height="7.0" fill="#b9b9b9" fill-opacity="0.4"/>
<path d="M171.4,670.2l4.1,4.1l-4.1,4.1l-4.1,-4.1z" fill="#b9b9b9" fill-opacity="0.42"/>
<path d="M161.5,635.2l4.1,4.1l-4.1,4.1l-4.1,-4.1z" fill="#b9b9b9" fill-opacity="0.42"/>
<path d="M166.2,672.3l4.1,4.1l-4.1,4.1l-4.1,-4.1z" fill="#b9b9b9" fill-opacity="0.42"/>
<path d="M156.2,646.9l4.1,4.1l-4.1,4.1l-4.1,-4.1z" fill="#b9b9b9" fill-opacity="0.42"/>
<path d="M173.2,666.5l4.1,4.1l-4.1,4.1l-4.1,-4.1z" fill="#b9b9b9" fill-opacity="0.42"/>
<path d="M168.3,667.6l4.1,4.1l-4.1,4.1l-4.1,-4.1z" fill="#b9b9b9" fill-opacity="0.42"/>
<path d="M163.5,636.2l4.1,4.1l-4.1,4.1l-4.1,-4.1z" fill="#b9b9b9" fill-opacity="0.42"/>
<path d="M156.5,646.2l4.1,4.1l-4.1,4.1l-4.1,-4.1z" fill="#b9b9b9" fill-opacity="0.42"/>
<path d="M169.0,645.2l4.1,4.1l-4.1,4.1l-4.1,-4.1z" fill="#b9b9b9" fill-opacity="0.42"/>
<path d="M159.4,643.5l4.1,4.1l-4.1,4.1l-4.1,-4.1z" fill="#b9b9b9" fill-opacity="0.42"/>
<path d="M158.1,654.4l4.1,4.1l-4.1,4.1l-4.1,-4.1z" fill="#b9b9b9" fill-opacity="0.42"/>
<path d="M161.2,661.7l4.1,4.1l-4.1,4.1l-4.1,-4.1z" fill="#b9b9b9" fill-opacity="0.42"/>
<path d="M157.4,624.9l4.1,4.1l-4.1,4.1l-4.1,-4.1z" fill="#b9b9b9" fill-opacity="0.42"/>
<path d="M168.8,649.9l4.1,4.1l-4.1,4.1l-4.1,-4.1z" fill="#b9b9b9" fill-opacity="0.42"/>
<path d="M166.2,647.4l4.1,4.1l-4.1,4.1l-4.1,-4.1z" fill="#b9b9b9" fill-opacity="0.42"/>
<path d="M171.9,666.0l4.1,4.1l-4.1,4.1l-4.1,-4.1z" fill="#b9b9b9" fill-opacity="0.42"/>
<path d="M170.2,659.5l4.1,4.1l-4.1,4.1l-4.1,-4.1z" fill="#b9b9b9" fill-opacity="0.42"/>
<path d="M174.4,664.1l4.1,4.1l-4.1,4.1l-4.1,-4.1z" fill="#b9b9b9" fill-opacity="0.42"/>
<path d="M162.4,621.7l4.1,4.1l-4.1,4.1l-4.1,-4.1z" fill="#b9b9b9" fill-opacity="0.42"/>
<path d="M174.1,674.8l4.1,4.1l-4.1,4.1l-4.1,-4.1z" fill="#b9b9b9" fill-opacity="0.42"/>
<path d="M163.2,647.8l4.1,4.1l-4.1,4.1l-4.1,-4.1z" fill="#b9b9b9" fill-opacity="0.42"/>
<path d="M170.7,625.5l4.1,4.1l-4.1,4.1l-4.1,-4.1z" fill="#b9b9b9" fill-opacity="0.42"/>
<path d="M163.3,666.6l4.1,4.1l-4.1,4.1l-4.1,-4.1z" fill="#b9b9b9" fill-opacity="0.42"/>
<path d="M175.0,651.4l4.1,4.1l-4.1,4.1l-4.1,-4.1z" fill="#b9b9b9" fill-opacity="0.42"/>
<path d="M171.3,668.6l4.1,4.1l-4.1,4.1l-4.1,-4.1z" fill="#b9b9b9" fill-opacity="0.42"/>
<path d="M161.3,654.3l4.1,4.1l-4.1,4.1l-4.1,-4.1z" fill="#b9b9b9" fill-opacity="0.42"/>
<path d="M169.7,667.7l4.1,4.1l-4.1,4.1l-4.1,-4.1z" fill="#b9b9b9" fill-opacity="0.42"/>
<path d="M165.3,651.9l4.1,4.1l-4.1,4.1l-4.1,-4.1z" fill="#b9b9b9" fill-opacity="0.42"/>
<path d="M160.0,650.1l4.1,4.1l-4.1,4.1l-4.1,-4.1z" fill="#b9b9b9" fill-opacity="0.42"/>
<path d="M170.7,655.7l4.1,4.1l-4.1,4.1l-4.1,-4.1z" fill="#b9b9b9" fill-opacity="0.42"/>
<path d="M159.5,642.4l4.1,4.1l-4.1,4.1l-4.1,-4.1z" fill="#b9b9b9" fill-opacity="0.42"/>
<path d="M170.4,661.9l4.1,4.1l-4.1,4.1l-4.1,-4.1z" fill="#b9b9b9" fill-opacity="0.42"/>
<path d="M175.5,660.2l4.1,4.1l-4.1,4.1l-4.1,-4.1z" fill="#b9b9b9" fill-opacity="0.42"/>
<path d="M167.1,663.2l4.1,4.1l-4.1,4.1l-4.1,-4.1z" fill="#b9b9b9" fill-opacity="0.42"/>
<path d="M159.3,672.9l4.1,4.1l-4.1,4.1l-4.1,-4.1z" fill="#b9b9b9" fill-opacity="0.42"/>
<path d="M165.6,643.6l4.1,4.1l-4.1,4.1l-4.1,-4.1z" fill="#b9b9b9" fill-opacity="0.42"/>
<path d="M171.9,703.4l3.8,-6.8h-7.5zM147.4,691.0l3.8,-6.8h-7.5zM162.6,695.2l3.8,-6.8h-7.5zM156.4,689.4l3.8,-6.8h-7.5zM179.1,699.5l3.8,-6.8h-7.5zM149.3,687.6l3.8,-6.8h-7.5zM175.3,699.3l3.8,-6.8h-7.5zM176.4,698.4l3.8,-6.8h-7.5zM152.2,695.6l3.8,-6.8h-7.5zM140.6,690.6l3.8,-6.8h-7.5zM159.5,696.9l3.8,-6.8h-7.5zM153.5,693.7l3.8,-6.8h-7.5zM164.1,696.2l3.8,-6.8h-7.5zM165.7,695.4l3.8,-6.8h-7.5zM157.1,698.3l3.8,-6.8h-7.5zM160.4,690.2l3.8,-6.8h-7.5zM154.4,694.3l3.8,-6.8h-7.5zM159.0,695.1l3.8,-6.8h-7.5z" fill="none" stroke="#cdcdcd" stroke-width="0.8"/>
<circle cx="196.5" cy="620.2" r="3.3" fill="#bcbcbc" fill-opacity="0.6"/>
<circle cx="195.8" cy="610.2" r="3.3" fill="#bcbcbc" fill-opacity="0.6"/>
<circle cx="198.8" cy="626.4" r="3.3" fill="#bcbcbc" fill-opacity="0.6"/>
<circle cx="198.9" cy="617.7" r="3.3" fill="#bcbcbc" fill-opacity="0.6"/>
<circle cx="199.0" cy="612.2" r="3.3" fill="#bcbcbc" fill-opacity="0.6"/>
<circle cx="186.1" cy="619.4" r="3.3" fill="#bcbcbc" fill-opacity="0.6"/>
<circle cx="191.4" cy="624.2" r="3.3" fill="#bcbcbc" fill-opacity="0.6"/>
<circle cx="190.8" cy="630.0" r="3.3" fill="#bcbcbc" fill-opacity="0.6"/>
<circle cx="194.4" cy="609.4" r="3.3" fill="#bcbcbc" fill-opacity="0.6"/>
<circle cx="192.3" cy="622.6" r="3.3" fill="#bcbcbc" fill-opacity="0.6"/>
<circle cx="199.2" cy="620.2" r="3.3" fill="#bcbcbc" fill-opacity="0.6"/>
<circle cx="204.7" cy="623.9" r="3.3" fill="#bcbcbc" fill-opacity="0.6"/>
<circle cx="196.4" cy="623.2" r="3.3" fill="#bcbcbc" fill-opacity="0.6"/>
<circle cx="205.6" cy="625.8" r="3.3" fill="#bcbcbc" fill-opacity="0.6"/>
<circle cx="202.1" cy="611.4" r="3.3" fill="#bcbcbc" fill-opacity="0.6"/>
<circle cx="195.7" cy="624.1" r="3.3" fill="#bcbcbc" fill-opacity="0.6"/>
<circle cx="194.9" cy="626.5" r="3.3" fill="#bcbcbc" fill-opacity="0.6"/>
<circle cx="199.8" cy="625.4" r="3.3" fill="#bcbcbc" fill-opacity="0.6"/>
<circle cx="203.3" cy="617.5" r="3.3" fill="#bcbcbc" fill-opacity="0.6"/>
<circle cx="194.6" cy="625.1" r="3.3" fill="#bcbcbc" fill-opacity="0.6"/>
<circle cx="201.9" cy="619.0" r="3.3" fill="#bcbcbc" fill-opacity="0.6"/>
<circle cx="190.1" cy="620.3" r="3.3" fill="#bcbcbc" fill-opacity="0.6"/>
<circle cx="198.5" cy="626.9" r="3.3" fill="#bcbcbc" fill-opacity="0.6"/>
<circle cx="200.8" cy="619.2" r="3.3" fill="#bcbcbc" fill-opacity="0.6"/>
<circle cx="201.2" cy="622.8" r="3.3" fill="#bcbcbc" fill-opacity="0.6"/>
<circle cx="197.6" cy="619.4" r="3.3" fill="#bcbcbc" fill-opacity="0.6"/>
<circle cx="195.2" cy="623.8" r="3.3" fill="#bcbcbc" fill-opacity="0.6"/>
<circle cx="190.7" cy="614.6" r="3.3" fill="#bcbcbc" fill-opacity="0.6"/>
<circle cx="203.8" cy="650.3" r="3.3" fill="#bcbcbc" fill-opacity="0.6"/>
<circle cx="199.1" cy="647.1" r="3.3" fill="#bcbcbc" fill-opacity="0.6"/>
<circle cx="204.8" cy="668.3" r="3.3" fill="#bcbcbc" fill-opacity="0.6"/>
<circle cx="211.8" cy="660.1" r="3.3" fill="#bcbcbc" fill-opacity="0.6"/>
<circle cx="202.2" cy="651.3" r="3.3" fill="#bcbcbc" fill-opacity="0.6"/>
<circle cx="222.4" cy="661.4" r="3.3" fill="#bcbcbc" fill-opacity="0.6"/>
<circle cx="213.1" cy="652.1" r="3.3" fill="#bcbcbc" fill-opacity="0.6"/>
<circle cx="201.4" cy="647.9" r="3.3" fill="#bcbcbc" fill-opacity="0.6"/>
<circle cx="216.2" cy="667.5" r="3.3" fill="#bcbcbc" fill-opacity="0.6"/>
<circle cx="194.5" cy="666.5" r="3.3" fill="#bcbcbc" fill-opacity="0.6"/>
<circle cx="207.3" cy="646.3" r="3.3" fill="#bcbcbc" fill-opacity="0.6"/>
<circle cx="192.0" cy="658.2" r="3.3" fill="#bcbcbc" fill-opacity="0.6"/>
<circle cx="199.5" cy="652.4" r="3.3" fill="#bcbcbc" fill-opacity="0.6"/>
<circle cx="208.9" cy="663.9" r="3.3" fill="#bcbcbc" fill-opacity="0.6"/>
<circle cx="214.5" cy="666.0" r="3.3" fill="#bcbcbc" fill-opacity="0.6"/>
<circle cx="222.0" cy="667.4" r="3.3" fill="#bcbcbc" fill-opacity="0.6"/>
<circle cx="197.3" cy="661.3" r="3.3" fill="#bcbcbc" fill-opacity="0.6"/>
<circle cx="197.4" cy="656.1" r="3.3" fill="#bcbcbc" fill-opacity="0.6"/>
<circle cx="207.4" cy="662.3" r="3.3" fill="#bcbcbc" fill-opacity="0.6"/>
<circle cx="206.8" cy="648.1" r="3.3" fill="#bcbcbc" fill-opacity="0.6"/>
<circle cx="199.2" cy="665.0" r="3.3" fill="#bcbcbc" fill-opacity="0.6"/>
<circle cx="205.7" cy="660.0" r="3.3" fill="#bcbcbc" fill-opacity="0.6"/>
<circle cx="205.3" cy="656.1" r="3.3" fill="#bcbcbc" fill-opacity="0.6"/>
<circle cx="214.0" cy="663.0" r="3.3" fill="#bcbcbc" fill-opacity="0.6"/>
<circle cx="205.4" cy="656.9" r="3.3" fill="#bcbcbc" fill-opacity="0.6"/>
<circle cx="201.2" cy="664.8" r="3.3" fill="#bcbcbc" fill-opacity="0.6"/>
<circle cx="198.0" cy="667.5" r="3.3" fill="#bcbcbc" fill-opacity="0.6"/>
<circle cx="205.0" cy="650.6" r="3.3" fill="#bcbcbc" fill-opacity="0.6"/>
<circle cx="205.3" cy="660.1" r="3.3" fill="#bcbcbc" fill-opacity="0.6"/>
<circle cx="213.0" cy="665.7" r="3.3" fill="#bcbcbc" fill-opacity="0.6"/>
<circle cx="205.3" cy="655.3" r="3.3" fill="#bcbcbc" fill-opacity="0.6"/>
<circle cx="206.8" cy="661.8" r="3.3" fill="#bcbcbc" fill-opacity="0.6"/>
<circle cx="214.0" cy="662.5" r="3.3" fill="#bcbcbc" fill-opacity="0.6"/>
<circle cx="199.0" cy="653.0" r="3.3" fill="#bcbcbc" fill-opacity="0.6"/>
<circle cx="224.1" cy="681.6" r="3.3" fill="#bcbcbc" fill-opacity="0.6"/>
<circle cx="220.4" cy="685.3" r="3.3" fill="#bcbcbc" fill-opacity="0.6"/>
<circle cx="223.5" cy="686.6" r="3.3" fill="#bcbcbc" fill-opacity="0.6"/>
<circle cx="228.6" cy="683.5" r="3.3" fill="#bcbcbc" fill-opacity="0.6"/>
<circle cx="231.5" cy="686.7" r="3.3" fill="#bcbcbc" fill-opacity="0.6"/>
<circle cx="222.2" cy="687.5" r="3.3" fill="#bcbcbc" fill-opacity="0.6"/>
<circle cx="227.6" cy="693.7" r="3.3" fill="#bcbcbc" fill-opacity="0.6"/>
<circle cx="229.8" cy="691.7" r="3.3" fill="#bcbcbc" fill-opacity="0.6"/>
<circle cx="259.1" cy="727.2" r="3.3" fill="#bcbcbc" fill-opacity="0.6"/>
<circle cx="255.9" cy="718.6" r="3.3" fill="#bcbcbc" fill-opacity="0.6"/>
<circle cx="260.8" cy="717.4" r="3.3" fill="#bcbcbc" fill-opacity="0.6"/>
<circle cx="265.0" cy="749.3" r="3.3" fill="#bcbcbc" fill-opacity="0.6"/>
<circle cx="254.5" cy="730.8" r="3.3" fill="#bcbcbc" fill-opacity="0.6"/>
<circle cx="264.3" cy="727.3" r="3.3" fill="#bcbcbc" fill-opacity="0.6"/>
<circle cx="251.2" cy="734.5" r="3.3" fill="#bcbcbc" fill-opacity="0.6"/>
<circle cx="262.5" cy="735.2" r="3.3" fill="#bcbcbc" fill-opacity="0.6"/>
<circle cx="256.5" cy="748.4" r="3.3" fill="#bcbcbc" fill-opacity="0.6"/>
<circle cx="267.8" cy="725.9" r="3.3" fill="#bcbcbc" fill-opacity="0.6"/>
<circle cx="256.4" cy="725.3" r="3.3" fill="#bcbcbc" fill-opacity="0.6"/>
<circle cx="263.6" cy="719.7" r="3.3" fill="#bcbcbc" fill-opacity="0.6"/>
<circle cx="259.1" cy="723.8" r="3.3" fill="#bcbcbc" fill-opacity="0.6"/>
<circle cx="253.6" cy="738.5" r="3.3" fill="#bcbcbc" fill-opacity="0.6"/>
<circle cx="265.4" cy="726.5" r="3.3" fill="#bcbcbc" fill-opacity="0.6"/>
<circle cx="254.0" cy="739.4" r="3.3" fill="#bcbcbc" fill-opacity="0.6"/>
<circle cx="256.7" cy="733.0" r="3.3" fill="#bcbcbc" fill-opacity="0.6"/>
<circle cx="270.6" cy="736.7" r="3.3" fill="#bcbcbc" fill-opacity="0.6"/>
<circle cx="258.7" cy="737.4" r="3.3" fill="#bcbcbc" fill-opacity="0.6"/>
<circle cx="251.3" cy="731.2" r="3.3" fill="#bcbcbc" fill-opacity="0.6"/>
<circle cx="249.8" cy="751.3" r="3.3" fill="#bcbcbc" fill-opacity="0.6"/>
<circle cx="261.5" cy="715.1" r="3.3" fill="#bcbcbc" fill-opacity="0.6"/>
<circle cx="239.8" cy="718.6" r="3.3" fill="#bcbcbc" fill-opacity="0.6"/>
<circle cx="262.7" cy="722.7" r="3.3" fill="#bcbcbc" fill-opacity="0.6"/>
<circle cx="254.5" cy="727.2" r="3.3" fill="#bcbcbc" fill-opacity="0.6"/>
<circle cx="251.4" cy="720.1" r="3.3" fill="#bcbcbc" fill-opacity="0.6"/>
<circle cx="251.3" cy="716.4" r="3.3" fill="#bcbcbc" fill-opacity="0.6"/>
<circle cx="256.6" cy="733.1" r="3.3" fill="#bcbcbc" fill-opacity="0.6"/>
<circle cx="258.5" cy="726.6" r="3.3" fill="#bcbcbc" fill-opacity="0.6"/>
<circle cx="250.2" cy="733.8" r="3.3" fill="#bcbcbc" fill-opacity="0.6"/>
<circle cx="257.9" cy="746.0" r="3.3" fill="#bcbcbc" fill-opacity="0.6"/>
<circle cx="261.0" cy="726.9" r="3.3" fill="#bcbcbc" fill-opacity="0.6"/>
<circle cx="250.3" cy="724.6" r="3.3" fill="#bcbcbc" fill-opacity="0.6"/>
<circle cx="248.2" cy="729.1" r="3.3" fill="#bcbcbc" fill-opacity="0.6"/>
<circle cx="259.8" cy="734.1" r="3.3" fill="#bcbcbc" fill-opacity="0.6"/>
<circle cx="267.2" cy="748.3" r="3.3" fill="#bcbcbc" fill-opacity="0.6"/>
<circle cx="269.9" cy="753.4" r="3.3" fill="#bcbcbc" fill-opacity="0.6"/>
<circle cx="271.6" cy="759.7" r="3.3" fill="#bcbcbc" fill-opacity="0.6"/>
<circle cx="282.1" cy="772.7" r="3.3" fill="#bcbcbc" fill-opacity="0.6"/>
<circle cx="308.2" cy="773.9" r="3.3" fill="#bcbcbc" fill-opacity="0.6"/>
<circle cx="250.0" cy="714.0" r="3.3" fill="#bcbcbc" fill-opacity="0.6"/>
<circle cx="262.0" cy="716.0" r="3.3" fill="#bcbcbc" fill-opacity="0.6"/>
<circle cx="307.0" cy="802.2" r="3.3" fill="#bcbcbc" fill-opacity="0.6"/>
<circle cx="308.0" cy="804.6" r="3.3" fill="#bcbcbc" fill-opacity="0.6"/>
<circle cx="313.5" cy="810.9" r="3.3" fill="#bcbcbc" fill-opacity="0.6"/>
<circle cx="309.9" cy="807.9" r="3.3" fill="#bcbcbc" fill-opacity="0.6"/>
<circle cx="310.8" cy="812.7" r="3.3" fill="#bcbcbc" fill-opacity="0.6"/>
<circle cx="299.7" cy="787.8" r="3.3" fill="#bcbcbc" fill-opacity="0.6"/>
<circle cx="319.0" cy="799.8" r="3.3" fill="#bcbcbc" fill-opacity="0.6"/>
<circle cx="300.7" cy="804.2" r="3.3" fill="#bcbcbc" fill-opacity="0.6"/>
<circle cx="304.5" cy="806.9" r="3.3" fill="#bcbcbc" fill-opacity="0.6"/>
<circle cx="319.8" cy="814.3" r="3.3" fill="#bcbcbc" fill-opacity="0.6"/>
<circle cx="319.5" cy="809.8" r="3.3" fill="#bcbcbc" fill-opacity="0.6"/>
<circle cx="300.3" cy="797.1" r="3.3" fill="#bcbcbc" fill-opacity="0.6"/>
<circle cx="321.0" cy="806.4" r="3.3" fill="#bcbcbc" fill-opacity="0.6"/>
<circle cx="309.4" cy="811.5" r="3.3" fill="#bcbcbc" fill-opacity="0.6"/>
<circle cx="302.2" cy="805.4" r="3.3" fill="#bcbcbc" fill-opacity="0.6"/>
<circle cx="335.0" cy="816.0" r="3.3" fill="#bcbcbc" fill-opacity="0.6"/>
<circle cx="316.2" cy="807.0" r="3.3" fill="#bcbcbc" fill-opacity="0.6"/>
<circle cx="327.6" cy="819.8" r="3.3" fill="#bcbcbc" fill-opacity="0.6"/>
<circle cx="326.2" cy="808.4" r="3.3" fill="#bcbcbc" fill-opacity="0.6"/>
<circle cx="313.9" cy="806.8" r="3.3" fill="#bcbcbc" fill-opacity="0.6"/>
<circle cx="289.5" cy="804.8" r="3.3" fill="#bcbcbc" fill-opacity="0.6"/>
<circle cx="331.4" cy="801.0" r="3.3" fill="#bcbcbc" fill-opacity="0.6"/>
<circle cx="322.0" cy="811.2" r="3.3" fill="#bcbcbc" fill-opacity="0.6"/>
<circle cx="316.6" cy="812.6" r="3.3" fill="#bcbcbc" fill-opacity="0.6"/>
<circle cx="300.3" cy="795.2" r="3.3" fill="#bcbcbc" fill-opacity="0.6"/>
<circle cx="331.5" cy="813.3" r="3.3" fill="#bcbcbc" fill-opacity="0.6"/>
<circle cx="310.6" cy="790.5" r="3.3" fill="#bcbcbc" fill-opacity="0.6"/>
<circle cx="300.4" cy="800.9" r="3.3" fill="#bcbcbc" fill-opacity="0.6"/>
<circle cx="328.5" cy="821.6" r="3.3" fill="#bcbcbc" fill-opacity="0.6"/>
<circle cx="312.2" cy="798.7" r="3.3" fill="#bcbcbc" fill-opacity="0.6"/>
<circle cx="316.5" cy="814.5" r="3.3" fill="#bcbcbc" fill-opacity="0.6"/>
<circle cx="309.7" cy="791.9" r="3.3" fill="#bcbcbc" fill-opacity="0.6"/>
<circle cx="315.7" cy="810.7" r="3.3" fill="#bcbcbc" fill-opacity="0.6"/>
<circle cx="302.1" cy="796.6" r="3.3" fill="#bcbcbc" fill-opacity="0.6"/>
<circle cx="306.4" cy="806.5" r="3.3" fill="#bcbcbc" fill-opacity="0.6"/>
<circle cx="313.3" cy="805.6" r="3.3" fill="#bcbcbc" fill-opacity="0.6"/>
<circle cx="305.4" cy="811.9" r="3.3" fill="#bcbcbc" fill-opacity="0.6"/>
<circle cx="329.5" cy="814.0" r="3.3" fill="#bcbcbc" fill-opacity="0.6"/>
<circle cx="326.0" cy="807.5" r="3.3" fill="#bcbcbc" fill-opacity="0.6"/>
<circle cx="311.1" cy="812.7" r="3.3" fill="#bcbcbc" fill-opacity="0.6"/>
<circle cx="330.7" cy="814.8" r="3.3" fill="#bcbcbc" fill-opacity="0.6"/>
<circle cx="312.3" cy="807.9" r="3.3" fill="#bcbcbc" fill-opacity="0.6"/>
<circle cx="299.2" cy="796.8" r="3.3" fill="#bcbcbc" fill-opacity="0.6"/>
<circle cx="305.5" cy="804.9" r="3.3" fill="#bcbcbc" fill-opacity="0.6"/>
<circle cx="312.5" cy="785.5" r="3.3" fill="#bcbcbc" fill-opacity="0.6"/>
<circle cx="313.1" cy="809.1" r="3.3" fill="#bcbcbc" fill-opacity="0.6"/>
<circle cx="304.3" cy="809.4" r="3.3" fill="#bcbcbc" fill-opacity="0.6"/>
<circle cx="314.3" cy="800.9" r="3.3" fill="#bcbcbc" fill-opacity="0.6"/>
<circle cx="326.3" cy="799.4" r="3.3" fill="#bcbcbc" fill-opacity="0.6"/>
<circle cx="307.4" cy="802.2" r="3.3" fill="#bcbcbc" fill-opacity="0.6"/>
<circle cx="323.1" cy="811.7" r="3.3" fill="#bcbcbc" fill-opacity="0.6"/>
<circle cx="320.2" cy="804.6" r="3.3" fill="#bcbcbc" fill-opacity="0.6"/>
<circle cx="289.0" cy="801.0" r="3.3" fill="#bcbcbc" fill-opacity="0.6"/>
<circle cx="291.0" cy="812.0" r="3.3" fill="#bcbcbc" fill-opacity="0.6"/>
<circle cx="346.0" cy="807.0" r="3.3" fill="#bcbcbc" fill-opacity="0.6"/>
<circle cx="352.0" cy="824.0" r="3.3" fill="#bcbcbc" fill-opacity="0.6"/>
<circle cx="338.0" cy="820.0" r="3.3" fill="#bcbcbc" fill-opacity="0.6"/>
<circle cx="297.0" cy="815.0" r="3.3" fill="#bcbcbc" fill-opacity="0.6"/>
<circle cx="322.7" cy="839.0" r="3.3" fill="#bcbcbc" fill-opacity="0.6"/>
<circle cx="323.6" cy="826.2" r="3.3" fill="#bcbcbc" fill-opacity="0.6"/>
<circle cx="324.3" cy="834.7" r="3.3" fill="#bcbcbc" fill-opacity="0.6"/>
<circle cx="327.9" cy="811.6" r="3.3" fill="#bcbcbc" fill-opacity="0.6"/>
<circle cx="327.4" cy="834.6" r="3.3" fill="#bcbcbc" fill-opacity="0.6"/>
<circle cx="327.2" cy="830.2" r="3.3" fill="#bcbcbc" fill-opacity="0.6"/>
<circle cx="330.5" cy="833.0" r="3.3" fill="#bcbcbc" fill-opacity="0.6"/>
<circle cx="340.0" cy="825.5" r="3.3" fill="#bcbcbc" fill-opacity="0.6"/>
<circle cx="332.5" cy="828.2" r="3.3" fill="#bcbcbc" fill-opacity="0.6"/>
<circle cx="324.3" cy="843.8" r="3.3" fill="#bcbcbc" fill-opacity="0.6"/>
<circle cx="327.9" cy="826.4" r="3.3" fill="#bcbcbc" fill-opacity="0.6"/>
<circle cx="327.3" cy="821.4" r="3.3" fill="#bcbcbc" fill-opacity="0.6"/>
<circle cx="321.5" cy="830.0" r="3.3" fill="#bcbcbc" fill-opacity="0.6"/>
<circle cx="327.0" cy="828.5" r="3.3" fill="#bcbcbc" fill-opacity="0.6"/>
<circle cx="342.3" cy="873.9" r="3.3" fill="#bcbcbc" fill-opacity="0.6"/>
<circle cx="342.8" cy="866.4" r="3.3" fill="#bcbcbc" fill-opacity="0.6"/>
<circle cx="343.5" cy="866.0" r="3.3" fill="#bcbcbc" fill-opacity="0.6"/>
<circle cx="339.4" cy="878.7" r="3.3" fill="#bcbcbc" fill-opacity="0.6"/>
<circle cx="340.8" cy="861.4" r="3.3" fill="#bcbcbc" fill-opacity="0.6"/>
<circle cx="346.3" cy="868.4" r="3.3" fill="#bcbcbc" fill-opacity="0.6"/>
<circle cx="338.0" cy="880.2" r="3.3" fill="#bcbcbc" fill-opacity="0.6"/>
<circle cx="344.4" cy="872.9" r="3.3" fill="#bcbcbc" fill-opacity="0.6"/>
<circle cx="341.5" cy="866.8" r="3.3" fill="#bcbcbc" fill-opacity="0.6"/>
<circle cx="336.6" cy="876.3" r="3.3" fill="#bcbcbc" fill-opacity="0.6"/>
<circle cx="340.5" cy="866.2" r="3.3" fill="#bcbcbc" fill-opacity="0.6"/>
<circle cx="342.7" cy="867.9" r="3.3" fill="#bcbcbc" fill-opacity="0.6"/>
<circle cx="343.0" cy="864.7" r="3.3" fill="#bcbcbc" fill-opacity="0.6"/>
<circle cx="348.0" cy="879.0" r="3.3" fill="#bcbcbc" fill-opacity="0.6"/>
<circle cx="354.0" cy="889.0" r="3.3" fill="#bcbcbc" fill-opacity="0.6"/>
<circle cx="333.0" cy="875.0" r="3.3" fill="#bcbcbc" fill-opacity="0.6"/>
<circle cx="353.3" cy="888.2" r="3.3" fill="#bcbcbc" fill-opacity="0.6"/>
<circle cx="374.4" cy="924.9" r="3.3" fill="#bcbcbc" fill-opacity="0.6"/>
<circle cx="374.8" cy="906.1" r="3.3" fill="#bcbcbc" fill-opacity="0.6"/>
<circle cx="383.3" cy="935.3" r="3.3" fill="#bcbcbc" fill-opacity="0.6"/>
<circle cx="375.4" cy="925.3" r="3.3" fill="#bcbcbc" fill-opacity="0.6"/>
<circle cx="379.8" cy="910.0" r="3.3" fill="#bcbcbc" fill-opacity="0.6"/>
<circle cx="371.4" cy="902.1" r="3.3" fill="#bcbcbc" fill-opacity="0.6"/>
<circle cx="371.4" cy="913.3" r="3.3" fill="#bcbcbc" fill-opacity="0.6"/>
<circle cx="380.8" cy="928.8" r="3.3" fill="#bcbcbc" fill-opacity="0.6"/>
<circle cx="372.2" cy="923.1" r="3.3" fill="#bcbcbc" fill-opacity="0.6"/>
<circle cx="369.8" cy="924.7" r="3.3" fill="#bcbcbc" fill-opacity="0.6"/>
<circle cx="371.6" cy="909.6" r="3.3" fill="#bcbcbc" fill-opacity="0.6"/>
<circle cx="361.0" cy="893.8" r="3.3" fill="#bcbcbc" fill-opacity="0.6"/>
<circle cx="362.2" cy="893.1" r="3.3" fill="#bcbcbc" fill-opacity="0.6"/>
<circle cx="363.0" cy="910.3" r="3.3" fill="#bcbcbc" fill-opacity="0.6"/>
<circle cx="376.0" cy="927.1" r="3.3" fill="#bcbcbc" fill-opacity="0.6"/>
<circle cx="368.2" cy="909.7" r="3.3" fill="#bcbcbc" fill-opacity="0.6"/>
<circle cx="386.7" cy="933.1" r="3.3" fill="#bcbcbc" fill-opacity="0.6"/>
<circle cx="374.0" cy="919.6" r="3.3" fill="#bcbcbc" fill-opacity="0.6"/>
<circle cx="379.4" cy="914.3" r="3.3" fill="#bcbcbc" fill-opacity="0.6"/>
<circle cx="374.2" cy="920.4" r="3.3" fill="#bcbcbc" fill-opacity="0.6"/>
<circle cx="381.3" cy="920.3" r="3.3" fill="#bcbcbc" fill-opacity="0.6"/>
<circle cx="361.0" cy="902.6" r="3.3" fill="#bcbcbc" fill-opacity="0.6"/>
<circle cx="380.0" cy="927.7" r="3.3" fill="#bcbcbc" fill-opacity="0.6"/>
<circle cx="357.1" cy="905.6" r="3.3" fill="#bcbcbc" fill-opacity="0.6"/>
<circle cx="355.0" cy="890.7" r="3.3" fill="#bcbcbc" fill-opacity="0.6"/>
<circle cx="366.1" cy="910.4" r="3.3" fill="#bcbcbc" fill-opacity="0.6"/>
<circle cx="367.5" cy="904.7" r="3.3" fill="#bcbcbc" fill-opacity="0.6"/>
<circle cx="363.3" cy="912.9" r="3.3" fill="#bcbcbc" fill-opacity="0.6"/>
<circle cx="365.3" cy="906.8" r="3.3" fill="#bcbcbc" fill-opacity="0.6"/>
<circle cx="377.2" cy="924.4" r="3.3" fill="#bcbcbc" fill-opacity="0.6"/>
<circle cx="390.9" cy="932.6" r="3.3" fill="#bcbcbc" fill-opacity="0.6"/>
<circle cx="363.6" cy="912.3" r="3.3" fill="#bcbcbc" fill-opacity="0.6"/>
<circle cx="367.1" cy="916.9" r="3.3" fill="#bcbcbc" fill-opacity="0.6"/>
<circle cx="362.5" cy="896.2" r="3.3" fill="#bcbcbc" fill-opacity="0.6"/>
<circle cx="373.1" cy="913.2" r="3.3" fill="#bcbcbc" fill-opacity="0.6"/>
<circle cx="364.2" cy="924.6" r="3.3" fill="#bcbcbc" fill-opacity="0.6"/>
<circle cx="361.8" cy="887.6" r="3.3" fill="#bcbcbc" fill-opacity="0.6"/>
<circle cx="376.8" cy="915.0" r="3.3" fill="#bcbcbc" fill-opacity="0.6"/>
<circle cx="377.0" cy="919.0" r="3.3" fill="#bcbcbc" fill-opacity="0.6"/>
<circle cx="382.0" cy="948.0" r="3.3" fill="#bcbcbc" fill-opacity="0.6"/>
<circle cx="389.0" cy="948.0" r="3.3" fill="#bcbcbc" fill-opacity="0.6"/>
<circle cx="396.0" cy="950.0" r="3.3" fill="#bcbcbc" fill-opacity="0.6"/>
<circle cx="401.0" cy="961.0" r="3.3" fill="#bcbcbc" fill-opacity="0.6"/>
<circle cx="395.0" cy="926.0" r="3.3" fill="#bcbcbc" fill-opacity="0.6"/>
<path d="M79.0,799.1l4.8,8.6h-9.5z" fill="#bcbcbc" fill-opacity="0.6"/>
<path d="M75.4,795.3l4.8,8.6h-9.5z" fill="#bcbcbc" fill-opacity="0.6"/>
<path d="M74.6,787.6l4.8,8.6h-9.5z" fill="#bcbcbc" fill-opacity="0.6"/>
<path d="M63.7,835.3l4.8,8.6h-9.5z" fill="#bcbcbc" fill-opacity="0.6"/>
<path d="M71.2,799.8l4.8,8.6h-9.5z" fill="#bcbcbc" fill-opacity="0.6"/>
<path d="M57.8,786.8l4.8,8.6h-9.5z" fill="#bcbcbc" fill-opacity="0.6"/>
<path d="M67.5,820.5l4.8,8.6h-9.5z" fill="#bcbcbc" fill-opacity="0.6"/>
<path d="M70.1,812.7l4.8,8.6h-9.5z" fill="#bcbcbc" fill-opacity="0.6"/>
<path d="M64.8,828.1l4.8,8.6h-9.5z" fill="#bcbcbc" fill-opacity="0.6"/>
<path d="M64.2,791.9l4.8,8.6h-9.5z" fill="#bcbcbc" fill-opacity="0.6"/>
<path d="M74.9,804.3l4.8,8.6h-9.5z" fill="#bcbcbc" fill-opacity="0.6"/>
<path d="M65.3,791.4l4.8,8.6h-9.5z" fill="#bcbcbc" fill-opacity="0.6"/>
<path d="M63.9,814.2l4.8,8.6h-9.5z" fill="#bcbcbc" fill-opacity="0.6"/>
<path d="M71.8,779.8l4.8,8.6h-9.5z" fill="#bcbcbc" fill-opacity="0.6"/>
<path d="M70.6,806.2l4.8,8.6h-9.5z" fill="#bcbcbc" fill-opacity="0.6"/>
<path d="M57.0,816.6l4.8,8.6h-9.5z" fill="#bcbcbc" fill-opacity="0.6"/>
<path d="M64.9,796.0l4.8,8.6h-9.5z" fill="#bcbcbc" fill-opacity="0.6"/>
<path d="M72.4,828.1l4.8,8.6h-9.5z" fill="#bcbcbc" fill-opacity="0.6"/>
<path d="M60.2,810.4l4.8,8.6h-9.5z" fill="#bcbcbc" fill-opacity="0.6"/>
<path d="M61.0,824.9l4.8,8.6h-9.5z" fill="#bcbcbc" fill-opacity="0.6"/>
<path d="M60.1,817.5l4.8,8.6h-9.5z" fill="#bcbcbc" fill-opacity="0.6"/>
<path d="M62.4,811.8l4.8,8.6h-9.5z" fill="#bcbcbc" fill-opacity="0.6"/>
<path d="M67.1,789.8l4.8,8.6h-9.5z" fill="#bcbcbc" fill-opacity="0.6"/>
<path d="M86.2,805.4l4.8,8.6h-9.5z" fill="#bcbcbc" fill-opacity="0.6"/>
<path d="M51.1,817.7l4.8,8.6h-9.5z" fill="#bcbcbc" fill-opacity="0.6"/>
<path d="M50.0,823.3l4.8,8.6h-9.5z" fill="#bcbcbc" fill-opacity="0.6"/>
<path d="M61.6,804.9l4.8,8.6h-9.5z" fill="#bcbcbc" fill-opacity="0.6"/>
<path d="M78.2,805.6l4.8,8.6h-9.5z" fill="#bcbcbc" fill-opacity="0.6"/>
<path d="M56.8,769.5l4.8,8.6h-9.5z" fill="#bcbcbc" fill-opacity="0.6"/>
<path d="M76.6,817.3l4.8,8.6h-9.5z" fill="#bcbcbc" fill-opacity="0.6"/>
<path d="M58.5,818.3l4.8,8.6h-9.5z" fill="#bcbcbc" fill-opacity="0.6"/>
<path d="M70.6,815.1l4.8,8.6h-9.5z" fill="#bcbcbc" fill-opacity="0.6"/>
<path d="M74.1,817.0l4.8,8.6h-9.5z" fill="#bcbcbc" fill-opacity="0.6"/>
<path d="M67.9,812.0l4.8,8.6h-9.5z" fill="#bcbcbc" fill-opacity="0.6"/>
<path d="M64.0,803.0l4.8,8.6h-9.5z" fill="#bcbcbc" fill-opacity="0.6"/>
<path d="M75.5,794.7l4.8,8.6h-9.5z" fill="#bcbcbc" fill-opacity="0.6"/>
<path d="M78.3,788.3l4.8,8.6h-9.5z" fill="#bcbcbc" fill-opacity="0.6"/>
<path d="M70.1,792.7l4.8,8.6h-9.5z" fill="#bcbcbc" fill-opacity="0.6"/>
<path d="M69.3,789.5l4.8,8.6h-9.5z" fill="#bcbcbc" fill-opacity="0.6"/>
<path d="M51.2,822.3l4.8,8.6h-9.5z" fill="#bcbcbc" fill-opacity="0.6"/>
<path d="M70.5,792.1l4.8,8.6h-9.5z" fill="#bcbcbc" fill-opacity="0.6"/>
<path d="M67.5,821.4l4.8,8.6h-9.5z" fill="#bcbcbc" fill-opacity="0.6"/>
<path d="M58.4,799.8l4.8,8.6h-9.5z" fill="#bcbcbc" fill-opacity="0.6"/>
<path d="M71.1,812.8l4.8,8.6h-9.5z" fill="#bcbcbc" fill-opacity="0.6"/>
<path d="M66.8,762.4l4.8,8.6h-9.5z" fill="#bcbcbc" fill-opacity="0.6"/>
<path d="M77.7,809.5l4.8,8.6h-9.5z" fill="#bcbcbc" fill-opacity="0.6"/>
<path d="M67.5,797.3l4.8,8.6h-9.5z" fill="#bcbcbc" fill-opacity="0.6"/>
<path d="M69.9,794.6l4.8,8.6h-9.5z" fill="#bcbcbc" fill-opacity="0.6"/>
<path d="M58.8,787.9l4.8,8.6h-9.5z" fill="#bcbcbc" fill-opacity="0.6"/>
<path d="M62.5,790.6l4.8,8.6h-9.5z" fill="#bcbcbc" fill-opacity="0.6"/>
<path d="M55.8,813.9l4.8,8.6h-9.5z" fill="#bcbcbc" fill-opacity="0.6"/>
<path d="M54.4,814.2l4.8,8.6h-9.5z" fill="#bcbcbc" fill-opacity="0.6"/>
<path d="M57.4,808.6l4.8,8.6h-9.5z" fill="#bcbcbc" fill-opacity="0.6"/>
<path d="M79.1,807.3l4.8,8.6h-9.5z" fill="#bcbcbc" fill-opacity="0.6"/>
<path d="M60.4,803.0l4.8,8.6h-9.5z" fill="#bcbcbc" fill-opacity="0.6"/>
<path d="M70.6,769.8l4.8,8.6h-9.5z" fill="#bcbcbc" fill-opacity="0.6"/>
<path d="M61.3,805.2l4.8,8.6h-9.5z" fill="#bcbcbc" fill-opacity="0.6"/>
<path d="M62.7,803.8l4.8,8.6h-9.5z" fill="#bcbcbc" fill-opacity="0.6"/>
<path d="M72.6,817.5l4.8,8.6h-9.5z" fill="#bcbcbc" fill-opacity="0.6"/>
<path d="M74.4,814.3l4.8,8.6h-9.5z" fill="#bcbcbc" fill-opacity="0.6"/>
<path d="M64.4,802.0l4.8,8.6h-9.5z" fill="#bcbcbc" fill-opacity="0.6"/>
<path d="M65.0,796.4l4.8,8.6h-9.5z" fill="#bcbcbc" fill-opacity="0.6"/>
<path d="M67.7,769.7l4.8,8.6h-9.5z" fill="#bcbcbc" fill-opacity="0.6"/>
<path d="M64.0,801.9l4.8,8.6h-9.5z" fill="#bcbcbc" fill-opacity="0.6"/>
<path d="M58.3,801.5l4.8,8.6h-9.5z" fill="#bcbcbc" fill-opacity="0.6"/>
<path d="M71.8,799.7l4.8,8.6h-9.5z" fill="#bcbcbc" fill-opacity="0.6"/>
<path d="M67.6,767.8l4.8,8.6h-9.5z" fill="#bcbcbc" fill-opacity="0.6"/>
<path d="M72.1,797.1l4.8,8.6h-9.5z" fill="#bcbcbc" fill-opacity="0.6"/>
<path d="M74.2,810.1l4.8,8.6h-9.5z" fill="#bcbcbc" fill-opacity="0.6"/>
<path d="M68.0,791.4l4.8,8.6h-9.5z" fill="#bcbcbc" fill-opacity="0.6"/>
<path d="M73.4,793.7l4.8,8.6h-9.5z" fill="#bcbcbc" fill-opacity="0.6"/>
<path d="M69.7,793.0l4.8,8.6h-9.5z" fill="#bcbcbc" fill-opacity="0.6"/>
<path d="M67.8,817.0l4.8,8.6h-9.5z" fill="#bcbcbc" fill-opacity="0.6"/>
<path d="M59.2,801.4l4.8,8.6h-9.5z" fill="#bcbcbc" fill-opacity="0.6"/>
<path d="M72.3,805.7l4.8,8.6h-9.5z" fill="#bcbcbc" fill-opacity="0.6"/>
<path d="M75.5,841.1l4.8,8.6h-9.5z" fill="#bcbcbc" fill-opacity="0.6"/>
<path d="M61.4,765.6l4.8,8.6h-9.5z" fill="#bcbcbc" fill-opacity="0.6"/>
<path d="M72.7,832.1l4.8,8.6h-9.5z" fill="#bcbcbc" fill-opacity="0.6"/>
<path d="M74.2,818.5l4.8,8.6h-9.5z" fill="#bcbcbc" fill-opacity="0.6"/>
<path d="M62.4,788.6l4.8,8.6h-9.5z" fill="#bcbcbc" fill-opacity="0.6"/>
<path d="M76.2,785.8l4.8,8.6h-9.5z" fill="#bcbcbc" fill-opacity="0.6"/>
<path d="M52.0,782.5l4.8,8.6h-9.5z" fill="#bcbcbc" fill-opacity="0.6"/>
<path d="M61.8,788.3l4.8,8.6h-9.5z" fill="#bcbcbc" fill-opacity="0.6"/>
<path d="M70.1,788.5l4.8,8.6h-9.5z" fill="#bcbcbc" fill-opacity="0.6"/>
<path d="M78.9,801.9l4.8,8.6h-9.5z" fill="#bcbcbc" fill-opacity="0.6"/>
<path d="M55.5,826.7l4.8,8.6h-9.5z" fill="#bcbcbc" fill-opacity="0.6"/>
<path d="M61.5,806.4l4.8,8.6h-9.5z" fill="#bcbcbc" fill-opacity="0.6"/>
<path d="M67.3,796.6l4.8,8.6h-9.5z" fill="#bcbcbc" fill-opacity="0.6"/>
<path d="M70.8,789.6l4.8,8.6h-9.5z" fill="#bcbcbc" fill-opacity="0.6"/>
<path d="M56.6,787.4l4.8,8.6h-9.5z" fill="#bcbcbc" fill-opacity="0.6"/>
<path d="M66.7,803.6l4.8,8.6h-9.5z" fill="#bcbcbc" fill-opacity="0.6"/>
<path d="M71.8,805.2l4.8,8.6h-9.5z" fill="#bcbcbc" fill-opacity="0.6"/>
<path d="M60.8,788.6l4.8,8.6h-9.5z" fill="#bcbcbc" fill-opacity="0.6"/>
<path d="M48.2,798.0l4.8,8.6h-9.5z" fill="#bcbcbc" fill-opacity="0.6"/>
<path d="M70.7,812.9l4.8,8.6h-9.5z" fill="#bcbcbc" fill-opacity="0.6"/>
<path d="M66.1,799.2l4.8,8.6h-9.5z" fill="#bcbcbc" fill-opacity="0.6"/>
<path d="M75.4,803.4l4.8,8.6h-9.5z" fill="#bcbcbc" fill-opacity="0.6"/>
<path d="M72.9,814.0l4.8,8.6h-9.5z" fill="#bcbcbc" fill-opacity="0.6"/>
<path d="M67.2,827.4l4.8,8.6h-9.5z" fill="#bcbcbc" fill-opacity="0.6"/>
<path d="M62.3,795.4l4.8,8.6h-9.5z" fill="#bcbcbc" fill-opacity="0.6"/>
<path d="M68.2,832.0l4.8,8.6h-9.5z" fill="#bcbcbc" fill-opacity="0.6"/>
<path d="M82.3,849.9l4.8,8.6h-9.5z" fill="#bcbcbc" fill-opacity="0.6"/>
<path d="M73.1,841.5l4.8,8.6h-9.5z" fill="#bcbcbc" fill-opacity="0.6"/>
<path d="M80.1,843.2l4.8,8.6h-9.5z" fill="#bcbcbc" fill-opacity="0.6"/>
<path d="M80.2,828.7l4.8,8.6h-9.5z" fill="#bcbcbc" fill-opacity="0.6"/>
<path d="M69.2,840.7l4.8,8.6h-9.5z" fill="#bcbcbc" fill-opacity="0.6"/>
<path d="M81.6,838.3l4.8,8.6h-9.5z" fill="#bcbcbc" fill-opacity="0.6"/>
<path d="M67.8,835.1l4.8,8.6h-9.5z" fill="#bcbcbc" fill-opacity="0.6"/>
<path d="M69.0,831.5l4.8,8.6h-9.5z" fill="#bcbcbc" fill-opacity="0.6"/>
<path d="M82.0,833.2l4.8,8.6h-9.5z" fill="#bcbcbc" fill-opacity="0.6"/>
<path d="M73.1,852.7l4.8,8.6h-9.5z" fill="#bcbcbc" fill-opacity="0.6"/>
<path d="M80.1,839.9l4.8,8.6h-9.5z" fill="#bcbcbc" fill-opacity="0.6"/>
<path d="M69.3,840.4l4.8,8.6h-9.5z" fill="#bcbcbc" fill-opacity="0.6"/>
<path d="M82.7,841.9l4.8,8.6h-9.5z" fill="#bcbcbc" fill-opacity="0.6"/>
<path d="M80.6,838.2l4.8,8.6h-9.5z" fill="#bcbcbc" fill-opacity="0.6"/>
<path d="M76.1,836.1l4.8,8.6h-9.5z" fill="#bcbcbc" fill-opacity="0.6"/>
<path d="M75.6,846.6l4.8,8.6h-9.5z" fill="#bcbcbc" fill-opacity="0.6"/>
<path d="M64.4,837.1l4.8,8.6h-9.5z" fill="#bcbcbc" fill-opacity="0.6"/>
<path d="M90.2,709.3h4.8v4.8h-4.8zM65.6,740.2h4.8v4.8h-4.8zM142.6,714.4h4.8v4.8h-4.8zM150.9,715.6h4.8v4.8h-4.8zM143.6,724.5h4.8v4.8h-4.8zM176.4,677.5h4.8v4.8h-4.8zM184.1,681.7h4.8v4.8h-4.8zM193.9,676.4h4.8v4.8h-4.8zM182.3,695.0h4.8v4.8h-4.8zM115.6,658.6h4.8v4.8h-4.8zM97.6,680.6h4.8v4.8h-4.8zM78.6,709.6h4.8v4.8h-4.8zM62.6,773.6h4.8v4.8h-4.8zM127.6,660.6h4.8v4.8h-4.8zM136.6,636.6h4.8v4.8h-4.8zM173.6,677.6h4.8v4.8h-4.8zM169.6,673.6h4.8v4.8h-4.8z" fill="#c9a877"/>
<path d="M210.2,693.8h6.5M213.4,690.6v6.5M211.1,691.5l4.7,4.7M211.1,696.1l4.7,-4.7M200.0,706.2h6.5M203.2,703.0v6.5M200.9,703.9l4.7,4.7M200.9,708.6l4.7,-4.7M230.8,711.1h6.5M234.1,707.8v6.5M231.7,708.7l4.7,4.7M231.7,713.4l4.7,-4.7M213.4,684.0h6.5M216.7,680.7v6.5M214.4,681.6l4.7,4.7M214.4,686.3l4.7,-4.7M231.0,705.2h6.5M234.3,702.0v6.5M231.9,702.9l4.7,4.7M231.9,707.5l4.7,-4.7M207.7,687.4h6.5M211.0,684.2v6.5M208.7,685.1l4.7,4.7M208.7,689.8l4.7,-4.7M207.4,687.6h6.5M210.6,684.3v6.5M208.3,685.2l4.7,4.7M208.3,689.9l4.7,-4.7M205.7,704.0h6.5M208.9,700.7v6.5M206.6,701.6l4.7,4.7M206.6,706.3l4.7,-4.7M205.6,702.0h6.5M208.8,698.7v6.5M206.5,699.6l4.7,4.7M206.5,704.3l4.7,-4.7M191.4,711.3h6.5M194.6,708.0v6.5M192.3,709.0l4.7,4.7M192.3,713.6l4.7,-4.7M201.1,678.5h6.5M204.3,675.2v6.5M202.0,676.2l4.7,4.7M202.0,680.8l4.7,-4.7M204.9,690.6h6.5M208.2,687.4v6.5M205.9,688.3l4.7,4.7M205.9,693.0l4.7,-4.7M193.2,692.5h6.5M196.4,689.3v6.5M194.1,690.2l4.7,4.7M194.1,694.9l4.7,-4.7M212.2,687.7h6.5M215.4,684.4v6.5M213.1,685.3l4.7,4.7M213.1,690.0l4.7,-4.7M200.8,713.3h6.5M204.1,710.0v6.5M201.7,710.9l4.7,4.7M201.7,715.6l4.7,-4.7M215.1,699.4h6.5M218.3,696.1v6.5M216.0,697.0l4.7,4.7M216.0,701.7l4.7,-4.7M207.7,698.1h6.5M210.9,694.9v6.5M208.6,695.8l4.7,4.7M208.6,700.5l4.7,-4.7M203.5,706.4h6.5M206.8,703.1v6.5M204.4,704.0l4.7,4.7M204.4,708.7l4.7,-4.7M207.4,689.8h6.5M210.7,686.6v6.5M208.3,687.5l4.7,4.7M208.3,692.1l4.7,-4.7M215.7,694.6h6.5M218.9,691.3v6.5M216.6,692.2l4.7,4.7M216.6,696.9l4.7,-4.7M203.0,721.8h6.5M206.2,718.5v6.5M203.9,719.4l4.7,4.7M203.9,724.1l4.7,-4.7M194.4,684.5h6.5M197.6,681.3v6.5M195.3,682.2l4.7,4.7M195.3,686.9l4.7,-4.7M180.1,697.5h6.5M183.4,694.2v6.5M181.1,695.1l4.7,4.7M181.1,699.8l4.7,-4.7M201.4,678.0h6.5M204.7,674.8v6.5M202.3,675.7l4.7,4.7M202.3,680.4l4.7,-4.7M184.8,701.2h6.5M188.1,697.9v6.5M185.7,698.8l4.7,4.7M185.7,703.5l4.7,-4.7M196.3,693.1h6.5M199.6,689.8v6.5M197.2,690.7l4.7,4.7M197.2,695.4l4.7,-4.7M207.2,713.9h6.5M210.4,710.6v6.5M208.1,711.5l4.7,4.7M208.1,716.2l4.7,-4.7M229.1,715.1h6.5M232.4,711.8v6.5M230.0,712.7l4.7,4.7M230.0,717.4l4.7,-4.7M207.2,701.3h6.5M210.5,698.0v6.5M208.2,699.0l4.7,4.7M208.2,703.6l4.7,-4.7M226.4,718.7h6.5M229.7,715.5v6.5M227.3,716.4l4.7,4.7M227.3,721.1l4.7,-4.7M200.7,702.8h6.5M203.9,699.6v6.5M201.6,700.5l4.7,4.7M201.6,705.2l4.7,-4.7M209.4,700.3h6.5M212.7,697.1v6.5M210.3,698.0l4.7,4.7M210.3,702.7l4.7,-4.7M202.0,684.0h6.5M205.3,680.7v6.5M203.0,681.6l4.7,4.7M203.0,686.3l4.7,-4.7M202.1,681.6h6.5M205.3,678.4v6.5M203.0,679.3l4.7,4.7M203.0,684.0l4.7,-4.7M220.7,707.9h6.5M224.0,704.7v6.5M221.6,705.6l4.7,4.7M221.6,710.3l4.7,-4.7M186.8,710.0h6.5M190.0,706.7v6.5M187.7,707.6l4.7,4.7M187.7,712.3l4.7,-4.7M221.7,681.9h6.5M224.9,678.7v6.5M222.6,679.6l4.7,4.7M222.6,684.2l4.7,-4.7M228.3,712.5h6.5M231.5,709.2v6.5M229.2,710.1l4.7,4.7M229.2,714.8l4.7,-4.7M235.7,692.1h6.5M238.9,688.9v6.5M236.6,689.8l4.7,4.7M236.6,694.5l4.7,-4.7M211.8,704.8h6.5M215.1,701.6v6.5M212.7,702.5l4.7,4.7M212.7,707.2l4.7,-4.7M208.0,701.3h6.5M211.3,698.1v6.5M209.0,699.0l4.7,4.7M209.0,703.7l4.7,-4.7M222.9,686.6h6.5M226.2,683.4v6.5M223.8,684.3l4.7,4.7M223.8,688.9l4.7,-4.7M192.4,681.2h6.5M195.6,677.9v6.5M193.3,678.9l4.7,4.7M193.3,683.5l4.7,-4.7M199.7,691.2h6.5M203.0,688.0v6.5M200.6,688.9l4.7,4.7M200.6,693.6l4.7,-4.7M210.0,702.8h6.5M213.3,699.5v6.5M210.9,700.4l4.7,4.7M210.9,705.1l4.7,-4.7M207.6,692.1h6.5M210.9,688.9v6.5M208.6,689.8l4.7,4.7M208.6,694.5l4.7,-4.7M197.8,707.5h6.5M201.1,704.3v6.5M198.7,705.2l4.7,4.7M198.7,709.9l4.7,-4.7M215.6,702.2h6.5M218.9,698.9v6.5M216.5,699.8l4.7,4.7M216.5,704.5l4.7,-4.7M198.1,714.0h6.5M201.4,710.8v6.5M199.0,711.7l4.7,4.7M199.0,716.4l4.7,-4.7M196.5,704.0h6.5M199.7,700.7v6.5M197.4,701.7l4.7,4.7M197.4,706.3l4.7,-4.7M221.6,699.5h6.5M224.8,696.3v6.5M222.5,697.2l4.7,4.7M222.5,701.9l4.7,-4.7M219.1,689.9h6.5M222.3,686.6v6.5M220.0,687.5l4.7,4.7M220.0,692.2l4.7,-4.7M218.7,703.9h6.5M221.9,700.6v6.5M219.6,701.6l4.7,4.7M219.6,706.2l4.7,-4.7M183.3,701.4h6.5M186.6,698.2v6.5M184.2,699.1l4.7,4.7M184.2,703.8l4.7,-4.7M191.2,709.7h6.5M194.4,706.4v6.5M192.1,707.3l4.7,4.7M192.1,712.0l4.7,-4.7M197.1,695.4h6.5M200.4,692.2v6.5M198.1,693.1l4.7,4.7M198.1,697.7l4.7,-4.7M210.2,696.4h6.5M213.5,693.1v6.5M211.1,694.0l4.7,4.7M211.1,698.7l4.7,-4.7M210.4,694.0h6.5M213.6,690.8v6.5M211.3,691.7l4.7,4.7M211.3,696.4l4.7,-4.7M172.8,702.0h6.5M176.0,698.8v6.5M173.7,699.7l4.7,4.7M173.7,704.3l4.7,-4.7M180.8,717.0h6.5M184.0,713.8v6.5M181.7,714.7l4.7,4.7M181.7,719.3l4.7,-4.7M193.8,717.0h6.5M197.0,713.8v6.5M194.7,714.7l4.7,4.7M194.7,719.3l4.7,-4.7M215.8,718.0h6.5M219.0,714.8v6.5M216.7,715.7l4.7,4.7M216.7,720.3l4.7,-4.7M177.8,690.0h6.5M181.0,686.8v6.5M178.7,687.7l4.7,4.7M178.7,692.3l4.7,-4.7" fill="none" fill-opacity="1" stroke="#bfe65c" stroke-width="0.85"/>
<path d="M116.7,686.1h5.2v5.2h-5.2zM118.9,687.6h5.2v5.2h-5.2zM104.2,680.8h5.2v5.2h-5.2zM110.8,695.1h5.2v5.2h-5.2zM101.1,695.5h5.2v5.2h-5.2zM109.6,690.1h5.2v5.2h-5.2zM116.7,673.5h5.2v5.2h-5.2zM114.7,695.2h5.2v5.2h-5.2zM117.0,695.9h5.2v5.2h-5.2zM118.1,668.2h5.2v5.2h-5.2zM113.3,676.8h5.2v5.2h-5.2zM106.8,687.6h5.2v5.2h-5.2zM116.2,682.8h5.2v5.2h-5.2zM114.9,683.5h5.2v5.2h-5.2zM111.0,691.6h5.2v5.2h-5.2zM121.2,680.7h5.2v5.2h-5.2zM99.5,693.4h5.2v5.2h-5.2zM108.9,694.5h5.2v5.2h-5.2zM106.8,677.4h5.2v5.2h-5.2zM120.1,671.6h5.2v5.2h-5.2zM107.6,689.6h5.2v5.2h-5.2zM111.4,701.3h5.2v5.2h-5.2zM115.5,669.8h5.2v5.2h-5.2zM111.7,694.1h5.2v5.2h-5.2zM120.3,673.3h5.2v5.2h-5.2zM113.6,693.4h5.2v5.2h-5.2zM118.3,681.4h5.2v5.2h-5.2zM111.3,692.2h5.2v5.2h-5.2zM119.0,666.6h5.2v5.2h-5.2zM112.8,689.5h5.2v5.2h-5.2zM109.4,692.4h5.2v5.2h-5.2zM110.9,682.2h5.2v5.2h-5.2zM109.3,688.7h5.2v5.2h-5.2zM122.4,686.1h5.2v5.2h-5.2zM116.5,703.2h5.2v5.2h-5.2zM114.6,691.6h5.2v5.2h-5.2zM122.9,687.2h5.2v5.2h-5.2zM117.7,674.7h5.2v5.2h-5.2zM109.6,697.6h5.2v5.2h-5.2zM114.1,689.5h5.2v5.2h-5.2zM111.6,685.4h5.2v5.2h-5.2zM101.7,690.2h5.2v5.2h-5.2zM116.4,673.5h5.2v5.2h-5.2zM113.5,675.2h5.2v5.2h-5.2zM112.8,696.0h5.2v5.2h-5.2zM102.5,689.3h5.2v5.2h-5.2zM120.4,681.5h5.2v5.2h-5.2zM109.5,674.0h5.2v5.2h-5.2zM123.0,663.1h5.2v5.2h-5.2zM127.5,642.2h5.2v5.2h-5.2zM128.5,646.9h5.2v5.2h-5.2zM130.0,650.2h5.2v5.2h-5.2zM124.7,652.5h5.2v5.2h-5.2zM121.8,671.6h5.2v5.2h-5.2zM127.0,666.2h5.2v5.2h-5.2zM128.8,646.8h5.2v5.2h-5.2zM124.7,655.2h5.2v5.2h-5.2zM121.7,664.4h5.2v5.2h-5.2zM124.3,653.7h5.2v5.2h-5.2zM125.5,641.6h5.2v5.2h-5.2zM125.1,672.5h5.2v5.2h-5.2zM127.4,651.8h5.2v5.2h-5.2zM130.4,646.4h5.2v5.2h-5.2zM128.4,661.4h5.2v5.2h-5.2z" fill="none" fill-opacity="1" stroke="#ec8a2f" stroke-width="1.0"/>
<path d="M136.8,663.8a2.5,2.5 0 1,0 5.0,0a2.5,2.5 0 1,0 -5.0,0zM134.7,677.9a2.5,2.5 0 1,0 5.0,0a2.5,2.5 0 1,0 -5.0,0zM136.8,655.0a2.5,2.5 0 1,0 5.0,0a2.5,2.5 0 1,0 -5.0,0zM135.7,669.5a2.5,2.5 0 1,0 5.0,0a2.5,2.5 0 1,0 -5.0,0zM124.8,654.8a2.5,2.5 0 1,0 5.0,0a2.5,2.5 0 1,0 -5.0,0zM125.2,658.4a2.5,2.5 0 1,0 5.0,0a2.5,2.5 0 1,0 -5.0,0zM134.8,647.3a2.5,2.5 0 1,0 5.0,0a2.5,2.5 0 1,0 -5.0,0zM121.4,675.1a2.5,2.5 0 1,0 5.0,0a2.5,2.5 0 1,0 -5.0,0zM132.3,677.7a2.5,2.5 0 1,0 5.0,0a2.5,2.5 0 1,0 -5.0,0zM124.9,672.4a2.5,2.5 0 1,0 5.0,0a2.5,2.5 0 1,0 -5.0,0zM139.6,684.5a2.5,2.5 0 1,0 5.0,0a2.5,2.5 0 1,0 -5.0,0zM130.4,663.2a2.5,2.5 0 1,0 5.0,0a2.5,2.5 0 1,0 -5.0,0zM130.2,671.9a2.5,2.5 0 1,0 5.0,0a2.5,2.5 0 1,0 -5.0,0zM136.1,661.3a2.5,2.5 0 1,0 5.0,0a2.5,2.5 0 1,0 -5.0,0zM124.9,668.6a2.5,2.5 0 1,0 5.0,0a2.5,2.5 0 1,0 -5.0,0zM129.0,667.4a2.5,2.5 0 1,0 5.0,0a2.5,2.5 0 1,0 -5.0,0zM131.7,679.5a2.5,2.5 0 1,0 5.0,0a2.5,2.5 0 1,0 -5.0,0zM136.9,654.9a2.5,2.5 0 1,0 5.0,0a2.5,2.5 0 1,0 -5.0,0zM132.0,681.2a2.5,2.5 0 1,0 5.0,0a2.5,2.5 0 1,0 -5.0,0zM128.8,665.1a2.5,2.5 0 1,0 5.0,0a2.5,2.5 0 1,0 -5.0,0zM136.1,675.3a2.5,2.5 0 1,0 5.0,0a2.5,2.5 0 1,0 -5.0,0zM134.7,644.3a2.5,2.5 0 1,0 5.0,0a2.5,2.5 0 1,0 -5.0,0zM125.7,662.7a2.5,2.5 0 1,0 5.0,0a2.5,2.5 0 1,0 -5.0,0zM126.9,673.4a2.5,2.5 0 1,0 5.0,0a2.5,2.5 0 1,0 -5.0,0z" fill="none" fill-opacity="1" stroke="#a31f1f" stroke-width="0.9"/>
<path d="M150.8,640.4h5.4v5.4h-5.4zM152.0,643.1a1.5,1.5 0 1,0 3.0,0a1.5,1.5 0 1,0 -3.0,0z" fill="#6b9be0" fill-opacity="0.13" stroke="#6593d8" stroke-width="0.8"/>
<path d="M137.3,660.9h5.4v5.4h-5.4zM138.5,663.6a1.5,1.5 0 1,0 3.0,0a1.5,1.5 0 1,0 -3.0,0z" fill="#6b9be0" fill-opacity="0.13" stroke="#6593d8" stroke-width="0.8"/>
<path d="M140.0,657.3h5.4v5.4h-5.4zM141.2,660.0a1.5,1.5 0 1,0 3.0,0a1.5,1.5 0 1,0 -3.0,0z" fill="#6b9be0" fill-opacity="0.13" stroke="#6593d8" stroke-width="0.8"/>
<path d="M147.9,650.2h5.4v5.4h-5.4zM149.1,652.9a1.5,1.5 0 1,0 3.0,0a1.5,1.5 0 1,0 -3.0,0z" fill="#6b9be0" fill-opacity="0.13" stroke="#6593d8" stroke-width="0.8"/>
<path d="M147.8,652.2h5.4v5.4h-5.4zM149.0,654.9a1.5,1.5 0 1,0 3.0,0a1.5,1.5 0 1,0 -3.0,0z" fill="#6b9be0" fill-opacity="0.13" stroke="#6593d8" stroke-width="0.8"/>
<path d="M139.2,665.2h5.4v5.4h-5.4zM140.4,667.9a1.5,1.5 0 1,0 3.0,0a1.5,1.5 0 1,0 -3.0,0z" fill="#6b9be0" fill-opacity="0.13" stroke="#6593d8" stroke-width="0.8"/>
<path d="M139.2,662.4h5.4v5.4h-5.4zM140.4,665.1a1.5,1.5 0 1,0 3.0,0a1.5,1.5 0 1,0 -3.0,0z" fill="#6b9be0" fill-opacity="0.13" stroke="#6593d8" stroke-width="0.8"/>
<path d="M156.2,660.3h5.4v5.4h-5.4zM157.4,663.0a1.5,1.5 0 1,0 3.0,0a1.5,1.5 0 1,0 -3.0,0z" fill="#6b9be0" fill-opacity="0.13" stroke="#6593d8" stroke-width="0.8"/>
<path d="M142.2,667.7h5.4v5.4h-5.4zM143.4,670.4a1.5,1.5 0 1,0 3.0,0a1.5,1.5 0 1,0 -3.0,0z" fill="#6b9be0" fill-opacity="0.13" stroke="#6593d8" stroke-width="0.8"/>
<path d="M140.3,671.6h5.4v5.4h-5.4zM141.5,674.3a1.5,1.5 0 1,0 3.0,0a1.5,1.5 0 1,0 -3.0,0z" fill="#6b9be0" fill-opacity="0.13" stroke="#6593d8" stroke-width="0.8"/>
<path d="M133.4,665.9h5.4v5.4h-5.4zM134.6,668.6a1.5,1.5 0 1,0 3.0,0a1.5,1.5 0 1,0 -3.0,0z" fill="#6b9be0" fill-opacity="0.13" stroke="#6593d8" stroke-width="0.8"/>
<path d="M140.3,649.9h5.4v5.4h-5.4zM141.5,652.6a1.5,1.5 0 1,0 3.0,0a1.5,1.5 0 1,0 -3.0,0z" fill="#6b9be0" fill-opacity="0.13" stroke="#6593d8" stroke-width="0.8"/>
<path d="M158.1,650.3h5.4v5.4h-5.4zM159.3,653.0a1.5,1.5 0 1,0 3.0,0a1.5,1.5 0 1,0 -3.0,0z" fill="#6b9be0" fill-opacity="0.13" stroke="#6593d8" stroke-width="0.8"/>
<path d="M157.1,667.6h5.4v5.4h-5.4zM158.3,670.3a1.5,1.5 0 1,0 3.0,0a1.5,1.5 0 1,0 -3.0,0z" fill="#6b9be0" fill-opacity="0.13" stroke="#6593d8" stroke-width="0.8"/>
<path d="M155.7,648.7h5.4v5.4h-5.4zM156.9,651.4a1.5,1.5 0 1,0 3.0,0a1.5,1.5 0 1,0 -3.0,0z" fill="#6b9be0" fill-opacity="0.13" stroke="#6593d8" stroke-width="0.8"/>
<path d="M152.3,676.5h5.4v5.4h-5.4zM153.5,679.2a1.5,1.5 0 1,0 3.0,0a1.5,1.5 0 1,0 -3.0,0z" fill="#6b9be0" fill-opacity="0.13" stroke="#6593d8" stroke-width="0.8"/>
<path d="M143.0,657.8h5.4v5.4h-5.4zM144.2,660.5a1.5,1.5 0 1,0 3.0,0a1.5,1.5 0 1,0 -3.0,0z" fill="#6b9be0" fill-opacity="0.13" stroke="#6593d8" stroke-width="0.8"/>
<path d="M140.9,651.9h5.4v5.4h-5.4zM142.1,654.6a1.5,1.5 0 1,0 3.0,0a1.5,1.5 0 1,0 -3.0,0z" fill="#6b9be0" fill-opacity="0.13" stroke="#6593d8" stroke-width="0.8"/>
<path d="M147.1,663.3h5.4v5.4h-5.4zM148.3,666.0a1.5,1.5 0 1,0 3.0,0a1.5,1.5 0 1,0 -3.0,0z" fill="#6b9be0" fill-opacity="0.13" stroke="#6593d8" stroke-width="0.8"/>
<path d="M144.1,679.1h5.4v5.4h-5.4zM145.3,681.8a1.5,1.5 0 1,0 3.0,0a1.5,1.5 0 1,0 -3.0,0z" fill="#6b9be0" fill-opacity="0.13" stroke="#6593d8" stroke-width="0.8"/>
<path d="M141.0,664.6h5.4v5.4h-5.4zM142.2,667.3a1.5,1.5 0 1,0 3.0,0a1.5,1.5 0 1,0 -3.0,0z" fill="#6b9be0" fill-opacity="0.13" stroke="#6593d8" stroke-width="0.8"/>
<path d="M155.8,648.4h5.4v5.4h-5.4zM157.0,651.1a1.5,1.5 0 1,0 3.0,0a1.5,1.5 0 1,0 -3.0,0z" fill="#6b9be0" fill-opacity="0.13" stroke="#6593d8" stroke-width="0.8"/>
<path d="M150.8,680.8h5.4v5.4h-5.4zM152.0,683.5a1.5,1.5 0 1,0 3.0,0a1.5,1.5 0 1,0 -3.0,0z" fill="#6b9be0" fill-opacity="0.13" stroke="#6593d8" stroke-width="0.8"/>
<path d="M133.9,646.1h5.4v5.4h-5.4zM135.1,648.8a1.5,1.5 0 1,0 3.0,0a1.5,1.5 0 1,0 -3.0,0z" fill="#6b9be0" fill-opacity="0.13" stroke="#6593d8" stroke-width="0.8"/>
<path d="M136.8,637.7h5.4v5.4h-5.4zM138.0,640.4a1.5,1.5 0 1,0 3.0,0a1.5,1.5 0 1,0 -3.0,0z" fill="#6b9be0" fill-opacity="0.13" stroke="#6593d8" stroke-width="0.8"/>
<path d="M148.4,638.2h5.4v5.4h-5.4zM149.6,640.9a1.5,1.5 0 1,0 3.0,0a1.5,1.5 0 1,0 -3.0,0z" fill="#6b9be0" fill-opacity="0.13" stroke="#6593d8" stroke-width="0.8"/>
<path d="M146.8,676.2h5.4v5.4h-5.4zM148.0,678.9a1.5,1.5 0 1,0 3.0,0a1.5,1.5 0 1,0 -3.0,0z" fill="#6b9be0" fill-opacity="0.13" stroke="#6593d8" stroke-width="0.8"/>
<path d="M131.4,655.0h5.4v5.4h-5.4zM132.6,657.7a1.5,1.5 0 1,0 3.0,0a1.5,1.5 0 1,0 -3.0,0z" fill="#6b9be0" fill-opacity="0.13" stroke="#6593d8" stroke-width="0.8"/>
<path d="M128.4,667.5h5.4v5.4h-5.4zM129.6,670.2a1.5,1.5 0 1,0 3.0,0a1.5,1.5 0 1,0 -3.0,0z" fill="#6b9be0" fill-opacity="0.13" stroke="#6593d8" stroke-width="0.8"/>
<path d="M138.2,655.9h5.4v5.4h-5.4zM139.4,658.6a1.5,1.5 0 1,0 3.0,0a1.5,1.5 0 1,0 -3.0,0z" fill="#6b9be0" fill-opacity="0.13" stroke="#6593d8" stroke-width="0.8"/>
<path d="M143.9,665.6h5.4v5.4h-5.4zM145.1,668.3a1.5,1.5 0 1,0 3.0,0a1.5,1.5 0 1,0 -3.0,0z" fill="#6b9be0" fill-opacity="0.13" stroke="#6593d8" stroke-width="0.8"/>
<path d="M141.1,659.3h5.4v5.4h-5.4zM142.3,662.0a1.5,1.5 0 1,0 3.0,0a1.5,1.5 0 1,0 -3.0,0z" fill="#6b9be0" fill-opacity="0.13" stroke="#6593d8" stroke-width="0.8"/>
<path d="M139.5,660.4h5.4v5.4h-5.4zM140.7,663.1a1.5,1.5 0 1,0 3.0,0a1.5,1.5 0 1,0 -3.0,0z" fill="#6b9be0" fill-opacity="0.13" stroke="#6593d8" stroke-width="0.8"/>
<path d="M134.6,659.6h5.4v5.4h-5.4zM135.8,662.3a1.5,1.5 0 1,0 3.0,0a1.5,1.5 0 1,0 -3.0,0z" fill="#6b9be0" fill-opacity="0.13" stroke="#6593d8" stroke-width="0.8"/>
<path d="M129.0,652.9h5.4v5.4h-5.4zM130.2,655.6a1.5,1.5 0 1,0 3.0,0a1.5,1.5 0 1,0 -3.0,0z" fill="#6b9be0" fill-opacity="0.13" stroke="#6593d8" stroke-width="0.8"/>
<path d="M158.7,661.0h5.4v5.4h-5.4zM159.9,663.7a1.5,1.5 0 1,0 3.0,0a1.5,1.5 0 1,0 -3.0,0z" fill="#6b9be0" fill-opacity="0.13" stroke="#6593d8" stroke-width="0.8"/>
<path d="M133.8,661.7h5.4v5.4h-5.4zM135.0,664.4a1.5,1.5 0 1,0 3.0,0a1.5,1.5 0 1,0 -3.0,0z" fill="#6b9be0" fill-opacity="0.13" stroke="#6593d8" stroke-width="0.8"/>
<path d="M137.2,639.9h5.4v5.4h-5.4zM138.4,642.6a1.5,1.5 0 1,0 3.0,0a1.5,1.5 0 1,0 -3.0,0z" fill="#6b9be0" fill-opacity="0.13" stroke="#6593d8" stroke-width="0.8"/>
<path d="M137.6,667.5h5.4v5.4h-5.4zM138.8,670.2a1.5,1.5 0 1,0 3.0,0a1.5,1.5 0 1,0 -3.0,0z" fill="#6b9be0" fill-opacity="0.13" stroke="#6593d8" stroke-width="0.8"/>
<path d="M146.8,658.3h5.4v5.4h-5.4zM148.0,661.0a1.5,1.5 0 1,0 3.0,0a1.5,1.5 0 1,0 -3.0,0z" fill="#6b9be0" fill-opacity="0.13" stroke="#6593d8" stroke-width="0.8"/>
<path d="M137.2,646.5h5.4v5.4h-5.4zM138.4,649.2a1.5,1.5 0 1,0 3.0,0a1.5,1.5 0 1,0 -3.0,0z" fill="#6b9be0" fill-opacity="0.13" stroke="#6593d8" stroke-width="0.8"/>
<path d="M154.2,662.7h5.4v5.4h-5.4zM155.4,665.4a1.5,1.5 0 1,0 3.0,0a1.5,1.5 0 1,0 -3.0,0z" fill="#6b9be0" fill-opacity="0.13" stroke="#6593d8" stroke-width="0.8"/>
<path d="M137.7,634.7h5.4v5.4h-5.4zM138.9,637.4a1.5,1.5 0 1,0 3.0,0a1.5,1.5 0 1,0 -3.0,0z" fill="#6b9be0" fill-opacity="0.13" stroke="#6593d8" stroke-width="0.8"/>
<path d="M134.9,657.9h5.4v5.4h-5.4zM136.1,660.6a1.5,1.5 0 1,0 3.0,0a1.5,1.5 0 1,0 -3.0,0z" fill="#6b9be0" fill-opacity="0.13" stroke="#6593d8" stroke-width="0.8"/>
<path d="M145.5,657.6h5.4v5.4h-5.4zM146.7,660.3a1.5,1.5 0 1,0 3.0,0a1.5,1.5 0 1,0 -3.0,0z" fill="#6b9be0" fill-opacity="0.13" stroke="#6593d8" stroke-width="0.8"/>
<path d="M142.5,643.4h5.4v5.4h-5.4zM143.7,646.1a1.5,1.5 0 1,0 3.0,0a1.5,1.5 0 1,0 -3.0,0z" fill="#6b9be0" fill-opacity="0.13" stroke="#6593d8" stroke-width="0.8"/>
<path d="M134.6,678.3h5.4v5.4h-5.4zM135.8,681.0a1.5,1.5 0 1,0 3.0,0a1.5,1.5 0 1,0 -3.0,0z" fill="#6b9be0" fill-opacity="0.13" stroke="#6593d8" stroke-width="0.8"/>
<path d="M137.4,668.7h5.4v5.4h-5.4zM138.6,671.4a1.5,1.5 0 1,0 3.0,0a1.5,1.5 0 1,0 -3.0,0z" fill="#6b9be0" fill-opacity="0.13" stroke="#6593d8" stroke-width="0.8"/>
<path d="M130.8,655.5h5.4v5.4h-5.4zM132.0,658.2a1.5,1.5 0 1,0 3.0,0a1.5,1.5 0 1,0 -3.0,0z" fill="#6b9be0" fill-opacity="0.13" stroke="#6593d8" stroke-width="0.8"/>
<path d="M145.2,671.3h5.4v5.4h-5.4zM146.4,674.0a1.5,1.5 0 1,0 3.0,0a1.5,1.5 0 1,0 -3.0,0z" fill="#6b9be0" fill-opacity="0.13" stroke="#6593d8" stroke-width="0.8"/>
<path d="M134.7,665.7h5.4v5.4h-5.4zM135.9,668.4a1.5,1.5 0 1,0 3.0,0a1.5,1.5 0 1,0 -3.0,0z" fill="#6b9be0" fill-opacity="0.13" stroke="#6593d8" stroke-width="0.8"/>
<path d="M147.3,651.0h5.4v5.4h-5.4zM148.5,653.7a1.5,1.5 0 1,0 3.0,0a1.5,1.5 0 1,0 -3.0,0z" fill="#6b9be0" fill-opacity="0.13" stroke="#6593d8" stroke-width="0.8"/>
<path d="M148.1,649.2h5.4v5.4h-5.4zM149.3,651.9a1.5,1.5 0 1,0 3.0,0a1.5,1.5 0 1,0 -3.0,0z" fill="#6b9be0" fill-opacity="0.13" stroke="#6593d8" stroke-width="0.8"/>
<path d="M137.6,658.8h5.4v5.4h-5.4zM138.8,661.5a1.5,1.5 0 1,0 3.0,0a1.5,1.5 0 1,0 -3.0,0z" fill="#6b9be0" fill-opacity="0.13" stroke="#6593d8" stroke-width="0.8"/>
<path d="M136.9,642.1h5.4v5.4h-5.4zM138.1,644.8a1.5,1.5 0 1,0 3.0,0a1.5,1.5 0 1,0 -3.0,0z" fill="#6b9be0" fill-opacity="0.13" stroke="#6593d8" stroke-width="0.8"/>
<path d="M140.0,667.9h5.4v5.4h-5.4zM141.2,670.6a1.5,1.5 0 1,0 3.0,0a1.5,1.5 0 1,0 -3.0,0z" fill="#6b9be0" fill-opacity="0.13" stroke="#6593d8" stroke-width="0.8"/>
<path d="M139.9,673.7h5.4v5.4h-5.4zM141.1,676.4a1.5,1.5 0 1,0 3.0,0a1.5,1.5 0 1,0 -3.0,0z" fill="#6b9be0" fill-opacity="0.13" stroke="#6593d8" stroke-width="0.8"/>
<path d="M135.6,643.8h5.4v5.4h-5.4zM136.8,646.5a1.5,1.5 0 1,0 3.0,0a1.5,1.5 0 1,0 -3.0,0z" fill="#6b9be0" fill-opacity="0.13" stroke="#6593d8" stroke-width="0.8"/>
<path d="M155.6,664.5h5.4v5.4h-5.4zM156.8,667.2a1.5,1.5 0 1,0 3.0,0a1.5,1.5 0 1,0 -3.0,0z" fill="#6b9be0" fill-opacity="0.13" stroke="#6593d8" stroke-width="0.8"/>
<path d="M151.7,650.2h5.4v5.4h-5.4zM152.9,652.9a1.5,1.5 0 1,0 3.0,0a1.5,1.5 0 1,0 -3.0,0z" fill="#6b9be0" fill-opacity="0.13" stroke="#6593d8" stroke-width="0.8"/>
<path d="M149.9,662.6h5.4v5.4h-5.4zM151.1,665.3a1.5,1.5 0 1,0 3.0,0a1.5,1.5 0 1,0 -3.0,0z" fill="#6b9be0" fill-opacity="0.13" stroke="#6593d8" stroke-width="0.8"/>
<path d="M148.8,659.9h5.4v5.4h-5.4zM150.0,662.6a1.5,1.5 0 1,0 3.0,0a1.5,1.5 0 1,0 -3.0,0z" fill="#6b9be0" fill-opacity="0.13" stroke="#6593d8" stroke-width="0.8"/>
<path d="M153.6,652.3h5.4v5.4h-5.4zM154.8,655.0a1.5,1.5 0 1,0 3.0,0a1.5,1.5 0 1,0 -3.0,0z" fill="#6b9be0" fill-opacity="0.13" stroke="#6593d8" stroke-width="0.8"/>
<path d="M137.2,641.9h5.4v5.4h-5.4zM138.4,644.6a1.5,1.5 0 1,0 3.0,0a1.5,1.5 0 1,0 -3.0,0z" fill="#6b9be0" fill-opacity="0.13" stroke="#6593d8" stroke-width="0.8"/>
<path d="M153.3,651.3h5.4v5.4h-5.4zM154.5,654.0a1.5,1.5 0 1,0 3.0,0a1.5,1.5 0 1,0 -3.0,0z" fill="#6b9be0" fill-opacity="0.13" stroke="#6593d8" stroke-width="0.8"/>
<path d="M136.2,648.1h5.4v5.4h-5.4zM137.4,650.8a1.5,1.5 0 1,0 3.0,0a1.5,1.5 0 1,0 -3.0,0z" fill="#6b9be0" fill-opacity="0.13" stroke="#6593d8" stroke-width="0.8"/>
<path d="M141.1,644.5h5.4v5.4h-5.4zM142.3,647.2a1.5,1.5 0 1,0 3.0,0a1.5,1.5 0 1,0 -3.0,0z" fill="#6b9be0" fill-opacity="0.13" stroke="#6593d8" stroke-width="0.8"/>
<path d="M141.9,652.0h5.4v5.4h-5.4zM143.1,654.7a1.5,1.5 0 1,0 3.0,0a1.5,1.5 0 1,0 -3.0,0z" fill="#6b9be0" fill-opacity="0.13" stroke="#6593d8" stroke-width="0.8"/>
<path d="M140.1,648.1h5.4v5.4h-5.4zM141.3,650.8a1.5,1.5 0 1,0 3.0,0a1.5,1.5 0 1,0 -3.0,0z" fill="#6b9be0" fill-opacity="0.13" stroke="#6593d8" stroke-width="0.8"/>
<path d="M144.4,654.0h5.4v5.4h-5.4zM145.6,656.7a1.5,1.5 0 1,0 3.0,0a1.5,1.5 0 1,0 -3.0,0z" fill="#6b9be0" fill-opacity="0.13" stroke="#6593d8" stroke-width="0.8"/>
<path d="M144.5,662.2h5.4v5.4h-5.4zM145.7,664.9a1.5,1.5 0 1,0 3.0,0a1.5,1.5 0 1,0 -3.0,0z" fill="#6b9be0" fill-opacity="0.13" stroke="#6593d8" stroke-width="0.8"/>
<path d="M147.8,634.3h5.4v5.4h-5.4zM149.0,637.0a1.5,1.5 0 1,0 3.0,0a1.5,1.5 0 1,0 -3.0,0z" fill="#6b9be0" fill-opacity="0.13" stroke="#6593d8" stroke-width="0.8"/>
<path d="M140.8,630.3h5.4v5.4h-5.4zM142.0,633.0a1.5,1.5 0 1,0 3.0,0a1.5,1.5 0 1,0 -3.0,0z" fill="#6b9be0" fill-opacity="0.13" stroke="#6593d8" stroke-width="0.8"/>
<path d="M141.3,638.3h5.4v5.4h-5.4zM142.5,641.0a1.5,1.5 0 1,0 3.0,0a1.5,1.5 0 1,0 -3.0,0z" fill="#6b9be0" fill-opacity="0.13" stroke="#6593d8" stroke-width="0.8"/>
<path d="M160.8,663.3h5.4v5.4h-5.4zM162.0,666.0a1.5,1.5 0 1,0 3.0,0a1.5,1.5 0 1,0 -3.0,0z" fill="#6b9be0" fill-opacity="0.13" stroke="#6593d8" stroke-width="0.8"/>
<path d="M131.8,690.3h5.4v5.4h-5.4zM133.0,693.0a1.5,1.5 0 1,0 3.0,0a1.5,1.5 0 1,0 -3.0,0z" fill="#6b9be0" fill-opacity="0.13" stroke="#6593d8" stroke-width="0.8"/>
<path d="M147.3,625.3h5.4v5.4h-5.4zM148.5,628.0a1.5,1.5 0 1,0 3.0,0a1.5,1.5 0 1,0 -3.0,0z" fill="#6b9be0" fill-opacity="0.13" stroke="#6593d8" stroke-width="0.8"/>
<path d="M132.3,652.3a2.5,2.5 0 1,0 5.0,0a2.5,2.5 0 1,0 -5.0,0zM139.4,643.3a2.5,2.5 0 1,0 5.0,0a2.5,2.5 0 1,0 -5.0,0zM131.1,658.3a2.5,2.5 0 1,0 5.0,0a2.5,2.5 0 1,0 -5.0,0zM132.2,673.8a2.5,2.5 0 1,0 5.0,0a2.5,2.5 0 1,0 -5.0,0zM131.7,673.4a2.5,2.5 0 1,0 5.0,0a2.5,2.5 0 1,0 -5.0,0zM128.3,639.9a2.5,2.5 0 1,0 5.0,0a2.5,2.5 0 1,0 -5.0,0zM140.3,667.5a2.5,2.5 0 1,0 5.0,0a2.5,2.5 0 1,0 -5.0,0zM136.9,663.6a2.5,2.5 0 1,0 5.0,0a2.5,2.5 0 1,0 -5.0,0zM137.7,647.6a2.5,2.5 0 1,0 5.0,0a2.5,2.5 0 1,0 -5.0,0zM139.6,655.9a2.5,2.5 0 1,0 5.0,0a2.5,2.5 0 1,0 -5.0,0zM139.4,663.3a2.5,2.5 0 1,0 5.0,0a2.5,2.5 0 1,0 -5.0,0z" fill="none" fill-opacity="1" stroke="#a31f1f" stroke-width="0.65"/>
<path d="M93.5,699.3l3.2,3.2l-3.2,3.2l-3.2,-3.2zM99.3,721.7l3.2,3.2l-3.2,3.2l-3.2,-3.2zM89.3,719.5l3.2,3.2l-3.2,3.2l-3.2,-3.2zM95.1,712.1l3.2,3.2l-3.2,3.2l-3.2,-3.2zM92.4,720.5l3.2,3.2l-3.2,3.2l-3.2,-3.2zM99.7,724.9l3.2,3.2l-3.2,3.2l-3.2,-3.2zM88.2,742.7l3.2,3.2l-3.2,3.2l-3.2,-3.2zM93.0,735.1l3.2,3.2l-3.2,3.2l-3.2,-3.2zM92.6,720.5l3.2,3.2l-3.2,3.2l-3.2,-3.2zM97.9,711.4l3.2,3.2l-3.2,3.2l-3.2,-3.2zM97.5,712.5l3.2,3.2l-3.2,3.2l-3.2,-3.2zM96.6,729.9l3.2,3.2l-3.2,3.2l-3.2,-3.2zM105.4,699.2l3.2,3.2l-3.2,3.2l-3.2,-3.2zM95.9,714.7l3.2,3.2l-3.2,3.2l-3.2,-3.2zM96.5,704.1l3.2,3.2l-3.2,3.2l-3.2,-3.2zM94.0,717.3l3.2,3.2l-3.2,3.2l-3.2,-3.2zM98.7,725.5l3.2,3.2l-3.2,3.2l-3.2,-3.2zM96.6,715.9l3.2,3.2l-3.2,3.2l-3.2,-3.2zM78.9,730.4l3.2,3.2l-3.2,3.2l-3.2,-3.2zM84.7,738.5l3.2,3.2l-3.2,3.2l-3.2,-3.2zM91.1,717.7l3.2,3.2l-3.2,3.2l-3.2,-3.2zM81.6,724.4l3.2,3.2l-3.2,3.2l-3.2,-3.2zM82.2,718.8l3.2,3.2l-3.2,3.2l-3.2,-3.2zM87.5,736.0l3.2,3.2l-3.2,3.2l-3.2,-3.2zM80.4,725.4l3.2,3.2l-3.2,3.2l-3.2,-3.2zM95.4,709.0l3.2,3.2l-3.2,3.2l-3.2,-3.2zM78.1,724.5l3.2,3.2l-3.2,3.2l-3.2,-3.2zM105.2,719.4l3.2,3.2l-3.2,3.2l-3.2,-3.2zM92.0,712.7l3.2,3.2l-3.2,3.2l-3.2,-3.2zM104.0,700.0l3.2,3.2l-3.2,3.2l-3.2,-3.2zM80.9,727.3l3.2,3.2l-3.2,3.2l-3.2,-3.2zM103.7,723.3l3.2,3.2l-3.2,3.2l-3.2,-3.2zM93.6,711.4l3.2,3.2l-3.2,3.2l-3.2,-3.2zM77.3,720.1l3.2,3.2l-3.2,3.2l-3.2,-3.2zM79.9,724.6l3.2,3.2l-3.2,3.2l-3.2,-3.2zM94.6,700.5l3.2,3.2l-3.2,3.2l-3.2,-3.2zM100.1,712.7l3.2,3.2l-3.2,3.2l-3.2,-3.2zM96.6,721.8l3.2,3.2l-3.2,3.2l-3.2,-3.2zM82.8,720.1l3.2,3.2l-3.2,3.2l-3.2,-3.2zM111.4,704.1l3.2,3.2l-3.2,3.2l-3.2,-3.2zM97.8,730.3l3.2,3.2l-3.2,3.2l-3.2,-3.2zM110.6,704.3l3.2,3.2l-3.2,3.2l-3.2,-3.2zM92.3,712.8l3.2,3.2l-3.2,3.2l-3.2,-3.2zM109.0,709.2l3.2,3.2l-3.2,3.2l-3.2,-3.2zM104.2,696.5l3.2,3.2l-3.2,3.2l-3.2,-3.2zM89.3,721.1l3.2,3.2l-3.2,3.2l-3.2,-3.2zM89.6,706.9l3.2,3.2l-3.2,3.2l-3.2,-3.2zM83.4,735.5l3.2,3.2l-3.2,3.2l-3.2,-3.2zM98.4,718.4l3.2,3.2l-3.2,3.2l-3.2,-3.2zM94.6,705.6l3.2,3.2l-3.2,3.2l-3.2,-3.2zM88.8,717.6l3.2,3.2l-3.2,3.2l-3.2,-3.2zM80.2,734.1l3.2,3.2l-3.2,3.2l-3.2,-3.2zM102.4,709.8l3.2,3.2l-3.2,3.2l-3.2,-3.2zM93.0,733.4l3.2,3.2l-3.2,3.2l-3.2,-3.2zM98.9,712.4l3.2,3.2l-3.2,3.2l-3.2,-3.2zM92.0,702.2l3.2,3.2l-3.2,3.2l-3.2,-3.2zM103.3,714.7l3.2,3.2l-3.2,3.2l-3.2,-3.2zM85.4,715.6l3.2,3.2l-3.2,3.2l-3.2,-3.2zM89.6,725.3l3.2,3.2l-3.2,3.2l-3.2,-3.2zM85.4,734.4l3.2,3.2l-3.2,3.2l-3.2,-3.2zM81.7,724.7l3.2,3.2l-3.2,3.2l-3.2,-3.2zM83.2,721.5l3.2,3.2l-3.2,3.2l-3.2,-3.2zM92.0,721.7l3.2,3.2l-3.2,3.2l-3.2,-3.2zM97.6,722.2l3.2,3.2l-3.2,3.2l-3.2,-3.2zM91.6,731.1l3.2,3.2l-3.2,3.2l-3.2,-3.2zM97.9,714.0l3.2,3.2l-3.2,3.2l-3.2,-3.2zM93.5,711.0l3.2,3.2l-3.2,3.2l-3.2,-3.2zM92.2,717.8l3.2,3.2l-3.2,3.2l-3.2,-3.2zM103.1,713.6l3.2,3.2l-3.2,3.2l-3.2,-3.2zM92.1,713.1l3.2,3.2l-3.2,3.2l-3.2,-3.2zM101.7,709.8l3.2,3.2l-3.2,3.2l-3.2,-3.2zM104.8,719.6l3.2,3.2l-3.2,3.2l-3.2,-3.2zM90.9,721.3l3.2,3.2l-3.2,3.2l-3.2,-3.2zM89.3,725.1l3.2,3.2l-3.2,3.2l-3.2,-3.2zM93.1,721.3l3.2,3.2l-3.2,3.2l-3.2,-3.2zM91.0,702.5h5.0M93.5,700.0v5.0M96.8,725.0h5.0M99.3,722.5v5.0M86.8,722.8h5.0M89.3,720.3v5.0M92.6,715.3h5.0M95.1,712.8v5.0M89.9,723.7h5.0M92.4,721.2v5.0M97.2,728.2h5.0M99.7,725.7v5.0M85.7,745.9h5.0M88.2,743.4v5.0M90.5,738.4h5.0M93.0,735.9v5.0M90.1,723.8h5.0M92.6,721.3v5.0M95.4,714.6h5.0M97.9,712.1v5.0M95.0,715.8h5.0M97.5,713.3v5.0M94.1,733.2h5.0M96.6,730.7v5.0M102.9,702.4h5.0M105.4,699.9v5.0M93.4,717.9h5.0M95.9,715.4v5.0M94.0,707.3h5.0M96.5,704.8v5.0M91.5,720.5h5.0M94.0,718.0v5.0M96.2,728.7h5.0M98.7,726.2v5.0M94.1,719.2h5.0M96.6,716.7v5.0M76.4,733.7h5.0M78.9,731.2v5.0M82.2,741.8h5.0M84.7,739.3v5.0M88.6,721.0h5.0M91.1,718.5v5.0M79.1,727.7h5.0M81.6,725.2v5.0M79.7,722.0h5.0M82.2,719.5v5.0M85.0,739.3h5.0M87.5,736.8v5.0M77.9,728.6h5.0M80.4,726.1v5.0M92.9,712.2h5.0M95.4,709.7v5.0M75.6,727.8h5.0M78.1,725.3v5.0M102.7,722.7h5.0M105.2,720.2v5.0M89.5,716.0h5.0M92.0,713.5v5.0M101.5,703.2h5.0M104.0,700.7v5.0M78.4,730.5h5.0M80.9,728.0v5.0M101.2,726.6h5.0M103.7,724.1v5.0M91.1,714.6h5.0M93.6,712.1v5.0M74.8,723.3h5.0M77.3,720.8v5.0M77.4,727.8h5.0M79.9,725.3v5.0M92.1,703.7h5.0M94.6,701.2v5.0M97.6,716.0h5.0M100.1,713.5v5.0M94.1,725.0h5.0M96.6,722.5v5.0M80.3,723.4h5.0M82.8,720.9v5.0M108.9,707.3h5.0M111.4,704.8v5.0M95.3,733.5h5.0M97.8,731.0v5.0M108.1,707.5h5.0M110.6,705.0v5.0M89.8,716.0h5.0M92.3,713.5v5.0M106.5,712.5h5.0M109.0,710.0v5.0M101.7,699.7h5.0M104.2,697.2v5.0M86.8,724.3h5.0M89.3,721.8v5.0M87.1,710.1h5.0M89.6,707.6v5.0M80.9,738.7h5.0M83.4,736.2v5.0M95.9,721.7h5.0M98.4,719.2v5.0M92.1,708.8h5.0M94.6,706.3v5.0M86.3,720.9h5.0M88.8,718.4v5.0M77.7,737.4h5.0M80.2,734.9v5.0M99.9,713.1h5.0M102.4,710.6v5.0M90.5,736.7h5.0M93.0,734.2v5.0M96.4,715.7h5.0M98.9,713.2v5.0M89.5,705.4h5.0M92.0,702.9v5.0M100.8,718.0h5.0M103.3,715.5v5.0M82.9,718.8h5.0M85.4,716.3v5.0M87.1,728.6h5.0M89.6,726.1v5.0M82.9,737.6h5.0M85.4,735.1v5.0M79.2,728.0h5.0M81.7,725.5v5.0M80.7,724.7h5.0M83.2,722.2v5.0M89.5,724.9h5.0M92.0,722.4v5.0M95.1,725.5h5.0M97.6,723.0v5.0M89.1,734.4h5.0M91.6,731.9v5.0M95.4,717.2h5.0M97.9,714.7v5.0M91.0,714.2h5.0M93.5,711.7v5.0M89.7,721.0h5.0M92.2,718.5v5.0M100.6,716.9h5.0M103.1,714.4v5.0M89.6,716.3h5.0M92.1,713.8v5.0M99.2,713.1h5.0M101.7,710.6v5.0M102.3,722.8h5.0M104.8,720.3v5.0M88.4,724.6h5.0M90.9,722.1v5.0M86.8,728.3h5.0M89.3,725.8v5.0M90.6,724.6h5.0M93.1,722.1v5.0" fill="none" fill-opacity="1" stroke="#5fcfd9" stroke-width="0.8"/>
<path d="M84.8,713.7a2.6,2.6 0 1,0 5.2,0a2.6,2.6 0 1,0 -5.2,0zM89.6,723.5a2.6,2.6 0 1,0 5.2,0a2.6,2.6 0 1,0 -5.2,0zM87.8,717.6a2.6,2.6 0 1,0 5.2,0a2.6,2.6 0 1,0 -5.2,0zM84.0,741.3a2.6,2.6 0 1,0 5.2,0a2.6,2.6 0 1,0 -5.2,0zM79.9,732.8a2.6,2.6 0 1,0 5.2,0a2.6,2.6 0 1,0 -5.2,0zM92.8,706.0a2.6,2.6 0 1,0 5.2,0a2.6,2.6 0 1,0 -5.2,0zM90.7,716.5a2.6,2.6 0 1,0 5.2,0a2.6,2.6 0 1,0 -5.2,0zM84.4,723.7a2.6,2.6 0 1,0 5.2,0a2.6,2.6 0 1,0 -5.2,0zM86.0,726.1a2.6,2.6 0 1,0 5.2,0a2.6,2.6 0 1,0 -5.2,0zM82.0,730.4a2.6,2.6 0 1,0 5.2,0a2.6,2.6 0 1,0 -5.2,0zM100.7,720.3a2.6,2.6 0 1,0 5.2,0a2.6,2.6 0 1,0 -5.2,0zM89.5,722.6a2.6,2.6 0 1,0 5.2,0a2.6,2.6 0 1,0 -5.2,0zM97.3,714.3a2.6,2.6 0 1,0 5.2,0a2.6,2.6 0 1,0 -5.2,0zM88.1,726.8a2.6,2.6 0 1,0 5.2,0a2.6,2.6 0 1,0 -5.2,0zM90.4,717.7a2.6,2.6 0 1,0 5.2,0a2.6,2.6 0 1,0 -5.2,0zM87.6,713.6a2.6,2.6 0 1,0 5.2,0a2.6,2.6 0 1,0 -5.2,0zM86.8,729.8a2.6,2.6 0 1,0 5.2,0a2.6,2.6 0 1,0 -5.2,0zM84.4,727.5a2.6,2.6 0 1,0 5.2,0a2.6,2.6 0 1,0 -5.2,0zM84.9,722.8a2.6,2.6 0 1,0 5.2,0a2.6,2.6 0 1,0 -5.2,0zM84.4,728.0a2.6,2.6 0 1,0 5.2,0a2.6,2.6 0 1,0 -5.2,0zM88.0,722.8a2.6,2.6 0 1,0 5.2,0a2.6,2.6 0 1,0 -5.2,0zM90.6,719.1a2.6,2.6 0 1,0 5.2,0a2.6,2.6 0 1,0 -5.2,0zM101.1,717.1a2.6,2.6 0 1,0 5.2,0a2.6,2.6 0 1,0 -5.2,0zM85.1,731.8a2.6,2.6 0 1,0 5.2,0a2.6,2.6 0 1,0 -5.2,0zM86.5,738.5a2.6,2.6 0 1,0 5.2,0a2.6,2.6 0 1,0 -5.2,0zM96.8,717.9a2.6,2.6 0 1,0 5.2,0a2.6,2.6 0 1,0 -5.2,0zM82.8,723.4a2.6,2.6 0 1,0 5.2,0a2.6,2.6 0 1,0 -5.2,0zM95.0,718.3a2.6,2.6 0 1,0 5.2,0a2.6,2.6 0 1,0 -5.2,0zM88.3,720.1a2.6,2.6 0 1,0 5.2,0a2.6,2.6 0 1,0 -5.2,0zM85.7,726.5a2.6,2.6 0 1,0 5.2,0a2.6,2.6 0 1,0 -5.2,0zM93.4,714.5a2.6,2.6 0 1,0 5.2,0a2.6,2.6 0 1,0 -5.2,0zM82.7,738.7a2.6,2.6 0 1,0 5.2,0a2.6,2.6 0 1,0 -5.2,0zM81.2,730.9a2.6,2.6 0 1,0 5.2,0a2.6,2.6 0 1,0 -5.2,0zM85.2,729.9a2.6,2.6 0 1,0 5.2,0a2.6,2.6 0 1,0 -5.2,0zM93.4,720.0a2.6,2.6 0 1,0 5.2,0a2.6,2.6 0 1,0 -5.2,0zM83.7,732.7a2.6,2.6 0 1,0 5.2,0a2.6,2.6 0 1,0 -5.2,0zM73.1,735.2a2.6,2.6 0 1,0 5.2,0a2.6,2.6 0 1,0 -5.2,0zM84.4,742.7a2.6,2.6 0 1,0 5.2,0a2.6,2.6 0 1,0 -5.2,0zM90.2,734.8a2.6,2.6 0 1,0 5.2,0a2.6,2.6 0 1,0 -5.2,0zM89.6,718.8a2.6,2.6 0 1,0 5.2,0a2.6,2.6 0 1,0 -5.2,0z" fill="#9fe3e6" fill-opacity="1" stroke="#7fd8e0" stroke-width="0.8"/>
<path d="M84.2,729.0a2.5,2.5 0 1,0 5.0,0a2.5,2.5 0 1,0 -5.0,0zM91.2,734.0a2.5,2.5 0 1,0 5.0,0a2.5,2.5 0 1,0 -5.0,0zM97.6,732.3a2.5,2.5 0 1,0 5.0,0a2.5,2.5 0 1,0 -5.0,0zM94.0,726.1a2.5,2.5 0 1,0 5.0,0a2.5,2.5 0 1,0 -5.0,0zM90.4,720.6a2.5,2.5 0 1,0 5.0,0a2.5,2.5 0 1,0 -5.0,0zM93.1,727.8a2.5,2.5 0 1,0 5.0,0a2.5,2.5 0 1,0 -5.0,0zM94.4,720.3a2.5,2.5 0 1,0 5.0,0a2.5,2.5 0 1,0 -5.0,0zM91.9,728.4a2.5,2.5 0 1,0 5.0,0a2.5,2.5 0 1,0 -5.0,0zM96.9,718.4a2.5,2.5 0 1,0 5.0,0a2.5,2.5 0 1,0 -5.0,0zM95.3,736.8a2.5,2.5 0 1,0 5.0,0a2.5,2.5 0 1,0 -5.0,0zM96.9,724.7a2.5,2.5 0 1,0 5.0,0a2.5,2.5 0 1,0 -5.0,0zM87.1,725.9a2.5,2.5 0 1,0 5.0,0a2.5,2.5 0 1,0 -5.0,0zM98.1,742.0a2.5,2.5 0 1,0 5.0,0a2.5,2.5 0 1,0 -5.0,0zM90.1,722.2a2.5,2.5 0 1,0 5.0,0a2.5,2.5 0 1,0 -5.0,0zM75.0,770.8a2.5,2.5 0 1,0 5.0,0a2.5,2.5 0 1,0 -5.0,0zM69.9,767.1a2.5,2.5 0 1,0 5.0,0a2.5,2.5 0 1,0 -5.0,0zM73.1,772.7a2.5,2.5 0 1,0 5.0,0a2.5,2.5 0 1,0 -5.0,0zM68.7,765.9a2.5,2.5 0 1,0 5.0,0a2.5,2.5 0 1,0 -5.0,0zM75.5,765.1a2.5,2.5 0 1,0 5.0,0a2.5,2.5 0 1,0 -5.0,0zM73.9,771.4a2.5,2.5 0 1,0 5.0,0a2.5,2.5 0 1,0 -5.0,0zM73.1,765.9a2.5,2.5 0 1,0 5.0,0a2.5,2.5 0 1,0 -5.0,0zM73.3,768.7a2.5,2.5 0 1,0 5.0,0a2.5,2.5 0 1,0 -5.0,0z" fill="none" fill-opacity="1" stroke="#e6d22a" stroke-width="0.9"/>
<path d="M109.1,713.5l3.2,3.2l-3.2,3.2l-3.2,-3.2zM121.5,704.9l3.2,3.2l-3.2,3.2l-3.2,-3.2zM98.0,723.2l3.2,3.2l-3.2,3.2l-3.2,-3.2zM110.1,719.1l3.2,3.2l-3.2,3.2l-3.2,-3.2zM107.5,718.0l3.2,3.2l-3.2,3.2l-3.2,-3.2zM85.5,750.5l3.2,3.2l-3.2,3.2l-3.2,-3.2zM92.5,728.3l3.2,3.2l-3.2,3.2l-3.2,-3.2zM84.4,733.6l3.2,3.2l-3.2,3.2l-3.2,-3.2zM105.0,728.9l3.2,3.2l-3.2,3.2l-3.2,-3.2zM89.0,724.9l3.2,3.2l-3.2,3.2l-3.2,-3.2zM94.2,743.1l3.2,3.2l-3.2,3.2l-3.2,-3.2zM121.6,701.7l3.2,3.2l-3.2,3.2l-3.2,-3.2zM81.2,740.7l3.2,3.2l-3.2,3.2l-3.2,-3.2zM81.2,734.6l3.2,3.2l-3.2,3.2l-3.2,-3.2zM101.3,741.4l3.2,3.2l-3.2,3.2l-3.2,-3.2zM108.2,723.5l3.2,3.2l-3.2,3.2l-3.2,-3.2zM93.6,717.7l3.2,3.2l-3.2,3.2l-3.2,-3.2zM98.4,722.3l3.2,3.2l-3.2,3.2l-3.2,-3.2zM104.1,724.4l3.2,3.2l-3.2,3.2l-3.2,-3.2zM95.8,730.3l3.2,3.2l-3.2,3.2l-3.2,-3.2zM80.6,749.1l3.2,3.2l-3.2,3.2l-3.2,-3.2zM100.5,726.6l3.2,3.2l-3.2,3.2l-3.2,-3.2zM104.2,714.4l3.2,3.2l-3.2,3.2l-3.2,-3.2zM104.6,730.9l3.2,3.2l-3.2,3.2l-3.2,-3.2zM98.9,711.9l3.2,3.2l-3.2,3.2l-3.2,-3.2zM102.7,717.1l3.2,3.2l-3.2,3.2l-3.2,-3.2zM116.3,711.9l3.2,3.2l-3.2,3.2l-3.2,-3.2zM100.2,727.6l3.2,3.2l-3.2,3.2l-3.2,-3.2zM92.3,719.9l3.2,3.2l-3.2,3.2l-3.2,-3.2zM93.5,730.3l3.2,3.2l-3.2,3.2l-3.2,-3.2zM93.6,726.2l3.2,3.2l-3.2,3.2l-3.2,-3.2zM101.1,702.5l3.2,3.2l-3.2,3.2l-3.2,-3.2zM92.7,741.1l3.2,3.2l-3.2,3.2l-3.2,-3.2zM104.9,715.5l3.2,3.2l-3.2,3.2l-3.2,-3.2zM125.6,699.1l3.2,3.2l-3.2,3.2l-3.2,-3.2zM88.1,729.9l3.2,3.2l-3.2,3.2l-3.2,-3.2zM112.7,712.0l3.2,3.2l-3.2,3.2l-3.2,-3.2zM74.6,736.5l3.2,3.2l-3.2,3.2l-3.2,-3.2zM108.8,712.0l3.2,3.2l-3.2,3.2l-3.2,-3.2zM90.3,736.4l3.2,3.2l-3.2,3.2l-3.2,-3.2zM109.0,660.8l3.2,3.2l-3.2,3.2l-3.2,-3.2zM122.0,686.8l3.2,3.2l-3.2,3.2l-3.2,-3.2zM128.0,696.8l3.2,3.2l-3.2,3.2l-3.2,-3.2zM118.0,677.8l3.2,3.2l-3.2,3.2l-3.2,-3.2z" fill="none" fill-opacity="1" stroke="#8246c4" stroke-width="0.9"/>
<path d="M83.7,739.8h5.2v5.2h-5.2zM84.0,742.2h5.2v5.2h-5.2zM87.1,759.6h5.2v5.2h-5.2zM77.4,764.8h5.2v5.2h-5.2zM72.0,750.8h5.2v5.2h-5.2zM74.2,755.8h5.2v5.2h-5.2zM68.2,760.3h5.2v5.2h-5.2zM82.0,757.0h5.2v5.2h-5.2zM91.9,753.8h5.2v5.2h-5.2zM88.5,752.0h5.2v5.2h-5.2zM83.8,740.9h5.2v5.2h-5.2zM79.1,755.0h5.2v5.2h-5.2zM73.2,751.5h5.2v5.2h-5.2zM74.4,750.6h5.2v5.2h-5.2zM58.8,751.6h5.2v5.2h-5.2zM72.7,752.2h5.2v5.2h-5.2zM68.4,755.3h5.2v5.2h-5.2zM84.1,754.4h5.2v5.2h-5.2zM73.2,767.3h5.2v5.2h-5.2zM85.7,763.8h5.2v5.2h-5.2zM87.2,753.8h5.2v5.2h-5.2zM76.3,765.3h5.2v5.2h-5.2zM72.7,755.4h5.2v5.2h-5.2zM80.6,759.4h5.2v5.2h-5.2zM75.1,764.3h5.2v5.2h-5.2zM75.9,762.2h5.2v5.2h-5.2zM86.5,761.7h5.2v5.2h-5.2zM83.6,747.1h5.2v5.2h-5.2zM66.3,751.5h5.2v5.2h-5.2zM81.4,768.4h5.2v5.2h-5.2zM67.0,758.9h5.2v5.2h-5.2zM70.1,750.5h5.2v5.2h-5.2zM75.1,761.9h5.2v5.2h-5.2zM79.2,765.8h5.2v5.2h-5.2zM69.0,763.5h5.2v5.2h-5.2zM85.3,757.0h5.2v5.2h-5.2zM81.5,751.9h5.2v5.2h-5.2zM68.1,753.2h5.2v5.2h-5.2zM73.3,769.6h5.2v5.2h-5.2zM79.1,758.9h5.2v5.2h-5.2zM83.7,742.4h5.2M86.3,739.8v5.2M84.0,744.8h5.2M86.6,742.2v5.2M87.1,762.2h5.2M89.7,759.6v5.2M77.4,767.4h5.2M80.0,764.8v5.2M72.0,753.4h5.2M74.6,750.8v5.2M74.2,758.4h5.2M76.8,755.8v5.2M68.2,762.9h5.2M70.8,760.3v5.2M82.0,759.6h5.2M84.6,757.0v5.2M91.9,756.4h5.2M94.5,753.8v5.2M88.5,754.6h5.2M91.1,752.0v5.2M83.8,743.5h5.2M86.4,740.9v5.2M79.1,757.6h5.2M81.7,755.0v5.2M73.2,754.1h5.2M75.8,751.5v5.2M74.4,753.2h5.2M77.0,750.6v5.2M58.8,754.2h5.2M61.4,751.6v5.2M72.7,754.8h5.2M75.3,752.2v5.2M68.4,757.9h5.2M71.0,755.3v5.2M84.1,757.0h5.2M86.7,754.4v5.2M73.2,769.9h5.2M75.8,767.3v5.2M85.7,766.4h5.2M88.3,763.8v5.2M87.2,756.4h5.2M89.8,753.8v5.2M76.3,767.9h5.2M78.9,765.3v5.2M72.7,758.0h5.2M75.3,755.4v5.2M80.6,762.0h5.2M83.2,759.4v5.2M75.1,766.9h5.2M77.7,764.3v5.2M75.9,764.8h5.2M78.5,762.2v5.2M86.5,764.3h5.2M89.1,761.7v5.2M83.6,749.7h5.2M86.2,747.1v5.2M66.3,754.1h5.2M68.9,751.5v5.2M81.4,771.0h5.2M84.0,768.4v5.2M67.0,761.5h5.2M69.6,758.9v5.2M70.1,753.1h5.2M72.7,750.5v5.2M75.1,764.5h5.2M77.7,761.9v5.2M79.2,768.4h5.2M81.8,765.8v5.2M69.0,766.1h5.2M71.6,763.5v5.2M85.3,759.6h5.2M87.9,757.0v5.2M81.5,754.5h5.2M84.1,751.9v5.2M68.1,755.8h5.2M70.7,753.2v5.2M73.3,772.2h5.2M75.9,769.6v5.2M79.1,761.5h5.2M81.7,758.9v5.2" fill="none" fill-opacity="1" stroke="#a31f1f" stroke-width="0.8"/>
<path d="M85.2,752.8l3.0,3.0l-3.0,3.0l-3.0,-3.0zM86.4,762.0l3.0,3.0l-3.0,3.0l-3.0,-3.0zM69.4,763.8l3.0,3.0l-3.0,3.0l-3.0,-3.0zM83.9,762.6l3.0,3.0l-3.0,3.0l-3.0,-3.0zM91.1,755.7l3.0,3.0l-3.0,3.0l-3.0,-3.0zM83.6,765.0l3.0,3.0l-3.0,3.0l-3.0,-3.0zM73.7,768.6l3.0,3.0l-3.0,3.0l-3.0,-3.0zM69.8,748.6l3.0,3.0l-3.0,3.0l-3.0,-3.0zM83.7,750.3l3.0,3.0l-3.0,3.0l-3.0,-3.0zM79.2,745.8l3.0,3.0l-3.0,3.0l-3.0,-3.0z" fill="none" fill-opacity="1" stroke="#8246c4" stroke-width="0.8"/>
<path d="M102.8,765.1l3.0,5.4h-6.0zM116.2,767.4l3.0,5.4h-6.0zM84.0,770.5l3.0,5.4h-6.0zM90.0,776.5l3.0,5.4h-6.0z" fill="none" fill-opacity="1" stroke="#5b7fd6" stroke-width="0.9"/>
<path d="M80.6,782.1l3.0,-5.4h-6.0zM83.1,778.1l3.0,-5.4h-6.0zM84.0,790.8l3.0,-5.4h-6.0zM80.6,792.8l3.0,-5.4h-6.0zM81.2,780.2l3.0,-5.4h-6.0zM71.6,788.9l3.0,-5.4h-6.0zM83.8,773.6l3.0,-5.4h-6.0zM73.1,787.3l3.0,-5.4h-6.0zM70.5,796.7l3.0,-5.4h-6.0zM78.7,785.2l3.0,-5.4h-6.0zM71.1,801.5l3.0,-5.4h-6.0zM74.1,799.3l3.0,-5.4h-6.0zM84.0,774.5l3.0,-5.4h-6.0zM70.2,793.5l3.0,-5.4h-6.0zM83.1,801.2l3.0,-5.4h-6.0zM87.2,803.8l3.0,-5.4h-6.0z" fill="none" fill-opacity="1" stroke="#b5dc4a" stroke-width="0.8"/>
<path d="M72.0,783.2l4.6,4.6M72.0,787.8l4.6,-4.6M83.5,780.6l4.6,4.6M83.5,785.2l4.6,-4.6M86.3,766.6l4.6,4.6M86.3,771.2l4.6,-4.6M82.2,783.6l4.6,4.6M82.2,788.2l4.6,-4.6M56.0,797.5l4.6,4.6M56.0,802.1l4.6,-4.6M78.8,786.0l4.6,4.6M78.8,790.6l4.6,-4.6M64.9,780.1l4.6,4.6M64.9,784.7l4.6,-4.6M90.8,775.8l4.6,4.6M90.8,780.4l4.6,-4.6M63.7,784.1l4.6,4.6M63.7,788.7l4.6,-4.6M71.8,774.8l4.6,4.6M71.8,779.4l4.6,-4.6M67.3,798.3l4.6,4.6M67.3,802.9l4.6,-4.6M61.3,809.2l4.6,4.6M61.3,813.8l4.6,-4.6M70.3,772.6l4.6,4.6M70.3,777.2l4.6,-4.6M83.6,792.5l4.6,4.6M83.6,797.1l4.6,-4.6M51.7,805.7l4.6,4.6M51.7,810.3l4.6,-4.6M100.7,795.7l4.6,4.6M100.7,800.3l4.6,-4.6M132.6,806.3l4.6,4.6M132.6,810.9l4.6,-4.6" fill="none" fill-opacity="1" stroke="#5fcfd9" stroke-width="0.8"/>
<path d="M63.8,810.1h5.2v5.2h-5.2zM60.0,791.8h5.2v5.2h-5.2zM82.0,802.0h5.2v5.2h-5.2zM62.1,807.3h5.2v5.2h-5.2zM80.0,804.2h5.2v5.2h-5.2zM59.5,797.8h5.2v5.2h-5.2zM75.0,811.8h5.2v5.2h-5.2zM87.6,802.8h5.2v5.2h-5.2zM69.2,802.5h5.2v5.2h-5.2zM83.6,794.9h5.2v5.2h-5.2zM80.0,797.2h5.2v5.2h-5.2zM75.4,811.1h5.2v5.2h-5.2zM63.9,801.2h5.2v5.2h-5.2zM73.9,809.8h5.2v5.2h-5.2zM67.2,792.1h5.2v5.2h-5.2zM71.7,800.9h5.2v5.2h-5.2zM60.0,811.4h5.2v5.2h-5.2zM66.7,817.7h5.2v5.2h-5.2zM79.4,804.5h5.2v5.2h-5.2zM80.1,792.6h5.2v5.2h-5.2zM71.2,797.1h5.2v5.2h-5.2zM63.1,802.2h5.2v5.2h-5.2zM69.7,818.2h5.2v5.2h-5.2zM66.5,797.6h5.2v5.2h-5.2zM75.6,808.1h5.2v5.2h-5.2zM73.8,798.5h5.2v5.2h-5.2zM76.2,807.7h5.2v5.2h-5.2zM59.0,798.7h5.2v5.2h-5.2zM64.0,789.6h5.2v5.2h-5.2zM73.9,804.2h5.2v5.2h-5.2zM75.1,794.4h5.2v5.2h-5.2zM72.7,793.7h5.2v5.2h-5.2zM74.8,811.0h5.2v5.2h-5.2zM84.6,818.5h5.2v5.2h-5.2zM67.3,797.8h5.2v5.2h-5.2zM65.2,805.6h5.2v5.2h-5.2zM87.2,812.9h5.2v5.2h-5.2zM57.7,787.9h5.2v5.2h-5.2zM62.2,807.4h5.2v5.2h-5.2zM72.5,806.5h5.2v5.2h-5.2zM87.9,796.7h5.2v5.2h-5.2zM63.5,822.9h5.2v5.2h-5.2zM76.7,795.7h5.2v5.2h-5.2zM59.5,785.3h5.2v5.2h-5.2zM71.8,813.8h5.2v5.2h-5.2zM72.8,796.0h5.2v5.2h-5.2zM64.4,822.4h5.2v5.2h-5.2zM59.0,803.3h5.2v5.2h-5.2zM72.2,809.8h5.2v5.2h-5.2zM69.0,808.2h5.2v5.2h-5.2zM79.4,802.8h5.2v5.2h-5.2zM69.6,801.0h5.2v5.2h-5.2zM65.8,800.2h5.2v5.2h-5.2zM70.3,805.3h5.2v5.2h-5.2zM81.3,818.4h5.2v5.2h-5.2zM68.6,809.2h5.2v5.2h-5.2zM74.1,811.6h5.2v5.2h-5.2zM72.7,806.2h5.2v5.2h-5.2zM65.1,811.4l2.6,2.6M65.1,814.0l2.6,-2.6M61.3,793.1l2.6,2.6M61.3,795.7l2.6,-2.6M83.3,803.3l2.6,2.6M83.3,805.9l2.6,-2.6M63.4,808.6l2.6,2.6M63.4,811.2l2.6,-2.6M81.3,805.5l2.6,2.6M81.3,808.1l2.6,-2.6M60.8,799.1l2.6,2.6M60.8,801.7l2.6,-2.6M76.3,813.1l2.6,2.6M76.3,815.7l2.6,-2.6M88.9,804.1l2.6,2.6M88.9,806.7l2.6,-2.6M70.5,803.8l2.6,2.6M70.5,806.4l2.6,-2.6M84.9,796.2l2.6,2.6M84.9,798.8l2.6,-2.6M81.3,798.5l2.6,2.6M81.3,801.1l2.6,-2.6M76.7,812.4l2.6,2.6M76.7,815.0l2.6,-2.6M65.2,802.5l2.6,2.6M65.2,805.1l2.6,-2.6M75.2,811.1l2.6,2.6M75.2,813.7l2.6,-2.6M68.5,793.4l2.6,2.6M68.5,796.0l2.6,-2.6M73.0,802.2l2.6,2.6M73.0,804.8l2.6,-2.6M61.3,812.7l2.6,2.6M61.3,815.3l2.6,-2.6M68.0,819.0l2.6,2.6M68.0,821.6l2.6,-2.6M80.7,805.8l2.6,2.6M80.7,808.4l2.6,-2.6M81.4,793.9l2.6,2.6M81.4,796.5l2.6,-2.6M72.5,798.4l2.6,2.6M72.5,801.0l2.6,-2.6M64.4,803.5l2.6,2.6M64.4,806.1l2.6,-2.6M71.0,819.5l2.6,2.6M71.0,822.1l2.6,-2.6M67.8,798.9l2.6,2.6M67.8,801.5l2.6,-2.6M76.9,809.4l2.6,2.6M76.9,812.0l2.6,-2.6M75.1,799.8l2.6,2.6M75.1,802.4l2.6,-2.6M77.5,809.0l2.6,2.6M77.5,811.6l2.6,-2.6M60.3,800.0l2.6,2.6M60.3,802.6l2.6,-2.6M65.3,790.9l2.6,2.6M65.3,793.5l2.6,-2.6M75.2,805.5l2.6,2.6M75.2,808.1l2.6,-2.6M76.4,795.7l2.6,2.6M76.4,798.3l2.6,-2.6M74.0,795.0l2.6,2.6M74.0,797.6l2.6,-2.6M76.1,812.3l2.6,2.6M76.1,814.9l2.6,-2.6M85.9,819.8l2.6,2.6M85.9,822.4l2.6,-2.6M68.6,799.1l2.6,2.6M68.6,801.7l2.6,-2.6M66.5,806.9l2.6,2.6M66.5,809.5l2.6,-2.6M88.5,814.2l2.6,2.6M88.5,816.8l2.6,-2.6M59.0,789.2l2.6,2.6M59.0,791.8l2.6,-2.6M63.5,808.7l2.6,2.6M63.5,811.3l2.6,-2.6M73.8,807.8l2.6,2.6M73.8,810.4l2.6,-2.6M89.2,798.0l2.6,2.6M89.2,800.6l2.6,-2.6M64.8,824.2l2.6,2.6M64.8,826.8l2.6,-2.6M78.0,797.0l2.6,2.6M78.0,799.6l2.6,-2.6M60.8,786.6l2.6,2.6M60.8,789.2l2.6,-2.6M73.1,815.1l2.6,2.6M73.1,817.7l2.6,-2.6M74.1,797.3l2.6,2.6M74.1,799.9l2.6,-2.6M65.7,823.7l2.6,2.6M65.7,826.3l2.6,-2.6M60.3,804.6l2.6,2.6M60.3,807.2l2.6,-2.6M73.5,811.1l2.6,2.6M73.5,813.7l2.6,-2.6M70.3,809.5l2.6,2.6M70.3,812.1l2.6,-2.6M80.7,804.1l2.6,2.6M80.7,806.7l2.6,-2.6M70.9,802.3l2.6,2.6M70.9,804.9l2.6,-2.6M67.1,801.5l2.6,2.6M67.1,804.1l2.6,-2.6M71.6,806.6l2.6,2.6M71.6,809.2l2.6,-2.6M82.6,819.7l2.6,2.6M82.6,822.3l2.6,-2.6M69.9,810.5l2.6,2.6M69.9,813.1l2.6,-2.6M75.4,812.9l2.6,2.6M75.4,815.5l2.6,-2.6M74.0,807.5l2.6,2.6M74.0,810.1l2.6,-2.6" fill="none" fill-opacity="1" stroke="#8246c4" stroke-width="0.8"/>
<path d="M64.4,782.3h5.2v5.2h-5.2zM73.1,790.6h5.2v5.2h-5.2zM71.7,787.1h5.2v5.2h-5.2zM69.1,783.6h5.2v5.2h-5.2zM55.8,788.1h5.2v5.2h-5.2zM68.7,783.2h5.2v5.2h-5.2zM61.1,790.5h5.2v5.2h-5.2zM55.7,792.4h5.2v5.2h-5.2zM62.7,785.3h5.2v5.2h-5.2zM64.1,786.0h5.2v5.2h-5.2zM66.0,782.4h5.2v5.2h-5.2zM74.4,782.3h5.2v5.2h-5.2zM64.1,787.6h5.2v5.2h-5.2zM63.9,783.7h5.2v5.2h-5.2zM65.7,783.6l2.6,2.6M65.7,786.2l2.6,-2.6M74.4,791.9l2.6,2.6M74.4,794.5l2.6,-2.6M73.0,788.4l2.6,2.6M73.0,791.0l2.6,-2.6M70.4,784.9l2.6,2.6M70.4,787.5l2.6,-2.6M57.1,789.4l2.6,2.6M57.1,792.0l2.6,-2.6M70.0,784.5l2.6,2.6M70.0,787.1l2.6,-2.6M62.4,791.8l2.6,2.6M62.4,794.4l2.6,-2.6M57.0,793.7l2.6,2.6M57.0,796.3l2.6,-2.6M64.0,786.6l2.6,2.6M64.0,789.2l2.6,-2.6M65.4,787.3l2.6,2.6M65.4,789.9l2.6,-2.6M67.3,783.7l2.6,2.6M67.3,786.3l2.6,-2.6M75.7,783.6l2.6,2.6M75.7,786.2l2.6,-2.6M65.4,788.9l2.6,2.6M65.4,791.5l2.6,-2.6M65.2,785.0l2.6,2.6M65.2,787.6l2.6,-2.6" fill="none" fill-opacity="1" stroke="#8246c4" stroke-width="0.8"/>
<path d="M82.5,783.8a1.6,1.6 0 1,0 3.2,0a1.6,1.6 0 1,0 -3.2,0zM72.9,785.4a1.6,1.6 0 1,0 3.2,0a1.6,1.6 0 1,0 -3.2,0zM79.1,796.2a1.6,1.6 0 1,0 3.2,0a1.6,1.6 0 1,0 -3.2,0zM73.8,791.8a1.6,1.6 0 1,0 3.2,0a1.6,1.6 0 1,0 -3.2,0zM75.7,783.9a1.6,1.6 0 1,0 3.2,0a1.6,1.6 0 1,0 -3.2,0zM78.4,787.6a1.6,1.6 0 1,0 3.2,0a1.6,1.6 0 1,0 -3.2,0zM85.6,796.5a1.6,1.6 0 1,0 3.2,0a1.6,1.6 0 1,0 -3.2,0zM76.6,794.0a1.6,1.6 0 1,0 3.2,0a1.6,1.6 0 1,0 -3.2,0zM86.4,790.9a1.6,1.6 0 1,0 3.2,0a1.6,1.6 0 1,0 -3.2,0zM75.8,791.4a1.6,1.6 0 1,0 3.2,0a1.6,1.6 0 1,0 -3.2,0zM79.8,788.1a1.6,1.6 0 1,0 3.2,0a1.6,1.6 0 1,0 -3.2,0zM78.8,790.0a1.6,1.6 0 1,0 3.2,0a1.6,1.6 0 1,0 -3.2,0zM87.1,792.8a1.6,1.6 0 1,0 3.2,0a1.6,1.6 0 1,0 -3.2,0zM79.2,792.0a1.6,1.6 0 1,0 3.2,0a1.6,1.6 0 1,0 -3.2,0z" fill="#ec8a2f"/>
<path d="M81.7,804.1a2.4,2.4 0 1,0 4.8,0a2.4,2.4 0 1,0 -4.8,0zM82.3,801.5a2.4,2.4 0 1,0 4.8,0a2.4,2.4 0 1,0 -4.8,0zM75.9,813.3a2.4,2.4 0 1,0 4.8,0a2.4,2.4 0 1,0 -4.8,0zM80.5,812.0a2.4,2.4 0 1,0 4.8,0a2.4,2.4 0 1,0 -4.8,0zM72.8,803.4a2.4,2.4 0 1,0 4.8,0a2.4,2.4 0 1,0 -4.8,0zM67.6,813.0a2.4,2.4 0 1,0 4.8,0a2.4,2.4 0 1,0 -4.8,0zM73.8,804.1a2.4,2.4 0 1,0 4.8,0a2.4,2.4 0 1,0 -4.8,0zM77.4,804.5a2.4,2.4 0 1,0 4.8,0a2.4,2.4 0 1,0 -4.8,0zM72.6,805.7a2.4,2.4 0 1,0 4.8,0a2.4,2.4 0 1,0 -4.8,0zM79.9,819.8a2.4,2.4 0 1,0 4.8,0a2.4,2.4 0 1,0 -4.8,0zM75.2,798.7a2.4,2.4 0 1,0 4.8,0a2.4,2.4 0 1,0 -4.8,0zM75.3,809.7a2.4,2.4 0 1,0 4.8,0a2.4,2.4 0 1,0 -4.8,0zM75.0,813.0a2.4,2.4 0 1,0 4.8,0a2.4,2.4 0 1,0 -4.8,0zM71.6,814.8a2.4,2.4 0 1,0 4.8,0a2.4,2.4 0 1,0 -4.8,0zM77.6,811.0a2.4,2.4 0 1,0 4.8,0a2.4,2.4 0 1,0 -4.8,0zM72.8,805.6a2.4,2.4 0 1,0 4.8,0a2.4,2.4 0 1,0 -4.8,0zM78.5,802.4a2.4,2.4 0 1,0 4.8,0a2.4,2.4 0 1,0 -4.8,0zM74.2,804.0a2.4,2.4 0 1,0 4.8,0a2.4,2.4 0 1,0 -4.8,0zM67.1,811.8a2.4,2.4 0 1,0 4.8,0a2.4,2.4 0 1,0 -4.8,0zM73.9,809.2a2.4,2.4 0 1,0 4.8,0a2.4,2.4 0 1,0 -4.8,0zM79.8,800.0a2.4,2.4 0 1,0 4.8,0a2.4,2.4 0 1,0 -4.8,0zM73.5,810.8a2.4,2.4 0 1,0 4.8,0a2.4,2.4 0 1,0 -4.8,0zM79.1,802.6a2.4,2.4 0 1,0 4.8,0a2.4,2.4 0 1,0 -4.8,0zM77.1,811.0a2.4,2.4 0 1,0 4.8,0a2.4,2.4 0 1,0 -4.8,0zM78.9,817.5a2.4,2.4 0 1,0 4.8,0a2.4,2.4 0 1,0 -4.8,0zM74.1,823.4a2.4,2.4 0 1,0 4.8,0a2.4,2.4 0 1,0 -4.8,0zM74.6,806.2a2.4,2.4 0 1,0 4.8,0a2.4,2.4 0 1,0 -4.8,0zM73.6,802.6a2.4,2.4 0 1,0 4.8,0a2.4,2.4 0 1,0 -4.8,0zM76.1,796.8a2.4,2.4 0 1,0 4.8,0a2.4,2.4 0 1,0 -4.8,0zM73.2,811.7a2.4,2.4 0 1,0 4.8,0a2.4,2.4 0 1,0 -4.8,0zM79.0,807.5a2.4,2.4 0 1,0 4.8,0a2.4,2.4 0 1,0 -4.8,0zM81.1,805.9a2.4,2.4 0 1,0 4.8,0a2.4,2.4 0 1,0 -4.8,0zM75.6,796.7a2.4,2.4 0 1,0 4.8,0a2.4,2.4 0 1,0 -4.8,0zM71.6,803.2a2.4,2.4 0 1,0 4.8,0a2.4,2.4 0 1,0 -4.8,0zM80.1,813.5a2.4,2.4 0 1,0 4.8,0a2.4,2.4 0 1,0 -4.8,0zM68.6,811.5a2.4,2.4 0 1,0 4.8,0a2.4,2.4 0 1,0 -4.8,0zM76.5,807.9a2.4,2.4 0 1,0 4.8,0a2.4,2.4 0 1,0 -4.8,0zM74.5,807.1a2.4,2.4 0 1,0 4.8,0a2.4,2.4 0 1,0 -4.8,0zM73.7,797.3a2.4,2.4 0 1,0 4.8,0a2.4,2.4 0 1,0 -4.8,0zM72.3,817.1a2.4,2.4 0 1,0 4.8,0a2.4,2.4 0 1,0 -4.8,0zM80.7,808.3a2.4,2.4 0 1,0 4.8,0a2.4,2.4 0 1,0 -4.8,0zM71.0,807.1a2.4,2.4 0 1,0 4.8,0a2.4,2.4 0 1,0 -4.8,0zM77.7,811.9a2.4,2.4 0 1,0 4.8,0a2.4,2.4 0 1,0 -4.8,0zM71.1,810.8a2.4,2.4 0 1,0 4.8,0a2.4,2.4 0 1,0 -4.8,0zM72.6,812.1a2.4,2.4 0 1,0 4.8,0a2.4,2.4 0 1,0 -4.8,0zM73.9,799.4a2.4,2.4 0 1,0 4.8,0a2.4,2.4 0 1,0 -4.8,0zM73.5,813.9a2.4,2.4 0 1,0 4.8,0a2.4,2.4 0 1,0 -4.8,0zM69.3,807.5a2.4,2.4 0 1,0 4.8,0a2.4,2.4 0 1,0 -4.8,0zM78.4,807.3a2.4,2.4 0 1,0 4.8,0a2.4,2.4 0 1,0 -4.8,0zM69.0,821.4a2.4,2.4 0 1,0 4.8,0a2.4,2.4 0 1,0 -4.8,0zM76.6,816.2a2.4,2.4 0 1,0 4.8,0a2.4,2.4 0 1,0 -4.8,0zM68.1,818.6a2.4,2.4 0 1,0 4.8,0a2.4,2.4 0 1,0 -4.8,0zM67.4,804.4a2.4,2.4 0 1,0 4.8,0a2.4,2.4 0 1,0 -4.8,0zM75.9,818.0a2.4,2.4 0 1,0 4.8,0a2.4,2.4 0 1,0 -4.8,0zM70.7,804.1a2.4,2.4 0 1,0 4.8,0a2.4,2.4 0 1,0 -4.8,0zM77.1,797.0a2.4,2.4 0 1,0 4.8,0a2.4,2.4 0 1,0 -4.8,0zM76.3,813.0a2.4,2.4 0 1,0 4.8,0a2.4,2.4 0 1,0 -4.8,0zM71.5,812.0a2.4,2.4 0 1,0 4.8,0a2.4,2.4 0 1,0 -4.8,0zM77.2,811.6a2.4,2.4 0 1,0 4.8,0a2.4,2.4 0 1,0 -4.8,0zM74.7,819.0a2.4,2.4 0 1,0 4.8,0a2.4,2.4 0 1,0 -4.8,0zM71.8,809.7a2.4,2.4 0 1,0 4.8,0a2.4,2.4 0 1,0 -4.8,0zM70.7,815.1a2.4,2.4 0 1,0 4.8,0a2.4,2.4 0 1,0 -4.8,0zM71.8,811.7a2.4,2.4 0 1,0 4.8,0a2.4,2.4 0 1,0 -4.8,0zM74.6,809.5a2.4,2.4 0 1,0 4.8,0a2.4,2.4 0 1,0 -4.8,0zM81.7,809.8a2.4,2.4 0 1,0 4.8,0a2.4,2.4 0 1,0 -4.8,0zM79.4,815.3a2.4,2.4 0 1,0 4.8,0a2.4,2.4 0 1,0 -4.8,0zM80.1,809.0a2.4,2.4 0 1,0 4.8,0a2.4,2.4 0 1,0 -4.8,0zM77.3,814.5a2.4,2.4 0 1,0 4.8,0a2.4,2.4 0 1,0 -4.8,0zM71.1,810.2a2.4,2.4 0 1,0 4.8,0a2.4,2.4 0 1,0 -4.8,0zM73.6,808.7a2.4,2.4 0 1,0 4.8,0a2.4,2.4 0 1,0 -4.8,0zM80.6,805.5a2.4,2.4 0 1,0 4.8,0a2.4,2.4 0 1,0 -4.8,0zM68.7,796.8a2.4,2.4 0 1,0 4.8,0a2.4,2.4 0 1,0 -4.8,0zM72.8,804.6a2.4,2.4 0 1,0 4.8,0a2.4,2.4 0 1,0 -4.8,0zM73.5,812.6a2.4,2.4 0 1,0 4.8,0a2.4,2.4 0 1,0 -4.8,0zM81.5,812.3a2.4,2.4 0 1,0 4.8,0a2.4,2.4 0 1,0 -4.8,0zM76.9,804.7a2.4,2.4 0 1,0 4.8,0a2.4,2.4 0 1,0 -4.8,0zM75.1,818.0a2.4,2.4 0 1,0 4.8,0a2.4,2.4 0 1,0 -4.8,0zM82.1,797.8a2.4,2.4 0 1,0 4.8,0a2.4,2.4 0 1,0 -4.8,0zM76.2,819.6a2.4,2.4 0 1,0 4.8,0a2.4,2.4 0 1,0 -4.8,0zM79.4,800.3a2.4,2.4 0 1,0 4.8,0a2.4,2.4 0 1,0 -4.8,0zM72.1,812.4a2.4,2.4 0 1,0 4.8,0a2.4,2.4 0 1,0 -4.8,0zM76.8,804.2a2.4,2.4 0 1,0 4.8,0a2.4,2.4 0 1,0 -4.8,0zM69.1,814.4a2.4,2.4 0 1,0 4.8,0a2.4,2.4 0 1,0 -4.8,0zM66.7,817.0a2.4,2.4 0 1,0 4.8,0a2.4,2.4 0 1,0 -4.8,0zM73.9,810.9a2.4,2.4 0 1,0 4.8,0a2.4,2.4 0 1,0 -4.8,0zM68.9,804.2a2.4,2.4 0 1,0 4.8,0a2.4,2.4 0 1,0 -4.8,0zM78.7,800.3a2.4,2.4 0 1,0 4.8,0a2.4,2.4 0 1,0 -4.8,0zM84.7,801.8a2.4,2.4 0 1,0 4.8,0a2.4,2.4 0 1,0 -4.8,0zM68.7,808.3a2.4,2.4 0 1,0 4.8,0a2.4,2.4 0 1,0 -4.8,0zM75.4,814.0a2.4,2.4 0 1,0 4.8,0a2.4,2.4 0 1,0 -4.8,0zM72.7,807.4a2.4,2.4 0 1,0 4.8,0a2.4,2.4 0 1,0 -4.8,0zM73.7,805.2a2.4,2.4 0 1,0 4.8,0a2.4,2.4 0 1,0 -4.8,0zM75.0,810.2a2.4,2.4 0 1,0 4.8,0a2.4,2.4 0 1,0 -4.8,0zM71.1,810.1a2.4,2.4 0 1,0 4.8,0a2.4,2.4 0 1,0 -4.8,0zM74.1,808.5a2.4,2.4 0 1,0 4.8,0a2.4,2.4 0 1,0 -4.8,0zM80.8,799.1a2.4,2.4 0 1,0 4.8,0a2.4,2.4 0 1,0 -4.8,0zM76.4,802.5a2.4,2.4 0 1,0 4.8,0a2.4,2.4 0 1,0 -4.8,0zM71.1,818.1a2.4,2.4 0 1,0 4.8,0a2.4,2.4 0 1,0 -4.8,0zM69.5,807.5a2.4,2.4 0 1,0 4.8,0a2.4,2.4 0 1,0 -4.8,0zM70.5,814.5a2.4,2.4 0 1,0 4.8,0a2.4,2.4 0 1,0 -4.8,0zM71.7,797.7a2.4,2.4 0 1,0 4.8,0a2.4,2.4 0 1,0 -4.8,0zM76.7,807.2a2.4,2.4 0 1,0 4.8,0a2.4,2.4 0 1,0 -4.8,0zM71.5,815.5a2.4,2.4 0 1,0 4.8,0a2.4,2.4 0 1,0 -4.8,0zM70.6,806.0a2.4,2.4 0 1,0 4.8,0a2.4,2.4 0 1,0 -4.8,0zM74.3,811.7a2.4,2.4 0 1,0 4.8,0a2.4,2.4 0 1,0 -4.8,0zM70.7,815.1a2.4,2.4 0 1,0 4.8,0a2.4,2.4 0 1,0 -4.8,0zM84.3,808.2a2.4,2.4 0 1,0 4.8,0a2.4,2.4 0 1,0 -4.8,0zM84.6,797.3a2.4,2.4 0 1,0 4.8,0a2.4,2.4 0 1,0 -4.8,0zM80.6,807.9a2.4,2.4 0 1,0 4.8,0a2.4,2.4 0 1,0 -4.8,0zM75.1,807.0a2.4,2.4 0 1,0 4.8,0a2.4,2.4 0 1,0 -4.8,0zM72.7,800.5a2.4,2.4 0 1,0 4.8,0a2.4,2.4 0 1,0 -4.8,0zM71.0,816.8a2.4,2.4 0 1,0 4.8,0a2.4,2.4 0 1,0 -4.8,0zM79.4,807.7a2.4,2.4 0 1,0 4.8,0a2.4,2.4 0 1,0 -4.8,0zM72.6,804.2a2.4,2.4 0 1,0 4.8,0a2.4,2.4 0 1,0 -4.8,0zM66.9,819.3a2.4,2.4 0 1,0 4.8,0a2.4,2.4 0 1,0 -4.8,0zM76.9,810.2a2.4,2.4 0 1,0 4.8,0a2.4,2.4 0 1,0 -4.8,0zM73.1,802.2a2.4,2.4 0 1,0 4.8,0a2.4,2.4 0 1,0 -4.8,0zM79.0,814.9a2.4,2.4 0 1,0 4.8,0a2.4,2.4 0 1,0 -4.8,0zM68.9,814.4a2.4,2.4 0 1,0 4.8,0a2.4,2.4 0 1,0 -4.8,0zM68.6,812.2a2.4,2.4 0 1,0 4.8,0a2.4,2.4 0 1,0 -4.8,0zM70.4,805.7a2.4,2.4 0 1,0 4.8,0a2.4,2.4 0 1,0 -4.8,0zM75.8,812.1a2.4,2.4 0 1,0 4.8,0a2.4,2.4 0 1,0 -4.8,0zM79.4,804.6a2.4,2.4 0 1,0 4.8,0a2.4,2.4 0 1,0 -4.8,0zM79.5,818.6a2.4,2.4 0 1,0 4.8,0a2.4,2.4 0 1,0 -4.8,0zM73.5,811.9a2.4,2.4 0 1,0 4.8,0a2.4,2.4 0 1,0 -4.8,0zM70.9,807.5a2.4,2.4 0 1,0 4.8,0a2.4,2.4 0 1,0 -4.8,0zM68.3,808.5a2.4,2.4 0 1,0 4.8,0a2.4,2.4 0 1,0 -4.8,0zM73.5,817.5a2.4,2.4 0 1,0 4.8,0a2.4,2.4 0 1,0 -4.8,0zM77.3,814.8a2.4,2.4 0 1,0 4.8,0a2.4,2.4 0 1,0 -4.8,0zM72.8,807.3a2.4,2.4 0 1,0 4.8,0a2.4,2.4 0 1,0 -4.8,0z" fill="#ec8a2f"/>
<path d="M73.6,808.2h2.2v2.2h-2.2zM67.5,811.3h2.2v2.2h-2.2zM68.9,803.9h2.2v2.2h-2.2zM75.0,803.9h2.2v2.2h-2.2zM81.3,806.3h2.2v2.2h-2.2zM80.9,813.7h2.2v2.2h-2.2zM73.0,809.2h2.2v2.2h-2.2zM79.9,805.0h2.2v2.2h-2.2zM75.2,803.7h2.2v2.2h-2.2zM75.1,804.9h2.2v2.2h-2.2z" fill="none" fill-opacity="1" stroke="#8246c4" stroke-width="0.6"/>
<line x1="106.7" y1="610.1" x2="134.2" y2="639.5" stroke="#2a2a2a" stroke-width="1.15"/><polygon points="0,0 -5.6,-3.2 -5.6,3.2" fill="#2a2a2a" transform="translate(136.5,642) rotate(46.9)"/>
<line x1="94.1" y1="632.6" x2="120.1" y2="681.2" stroke="#2a2a2a" stroke-width="1.15"/><polygon points="0,0 -5.6,-3.2 -5.6,3.2" fill="#2a2a2a" transform="translate(121.7,684.2) rotate(61.9)"/>
<line x1="75.1" y1="655.1" x2="97.3" y2="706.1" stroke="#2a2a2a" stroke-width="1.15"/><polygon points="0,0 -5.6,-3.2 -5.6,3.2" fill="#2a2a2a" transform="translate(98.6,709.2) rotate(66.5)"/>
<line x1="67.6" y1="684.2" x2="95.8" y2="715.2" stroke="#2a2a2a" stroke-width="1.15"/><polygon points="0,0 -5.6,-3.2 -5.6,3.2" fill="#2a2a2a" transform="translate(98.1,717.7) rotate(47.7)"/>
<line x1="66.6" y1="706.2" x2="80.2" y2="714.5" stroke="#2a2a2a" stroke-width="1.15"/><polygon points="0,0 -5.6,-3.2 -5.6,3.2" fill="#2a2a2a" transform="translate(83.1,716.2) rotate(31.2)"/>
<line x1="56.1" y1="721.2" x2="73.0" y2="714.0" stroke="#2a2a2a" stroke-width="1.15"/><polygon points="0,0 -5.6,-3.2 -5.6,3.2" fill="#2a2a2a" transform="translate(76.1,712.7) rotate(-23.0)"/>
<line x1="56.6" y1="736.7" x2="61.3" y2="739.8" stroke="#2a2a2a" stroke-width="1.15"/><polygon points="0,0 -5.6,-3.2 -5.6,3.2" fill="#2a2a2a" transform="translate(64.1,741.7) rotate(33.7)"/>
<line x1="246.4" y1="635.1" x2="157.5" y2="656.8" stroke="#2a2a2a" stroke-width="1.15"/><polygon points="0,0 -5.6,-3.2 -5.6,3.2" fill="#2a2a2a" transform="translate(154.2,657.6) rotate(166.3)"/>
<line x1="262.9" y1="693" x2="227.2" y2="713.8" stroke="#2a2a2a" stroke-width="1.15"/><polygon points="0,0 -5.6,-3.2 -5.6,3.2" fill="#2a2a2a" transform="translate(224.3,715.5) rotate(149.8)"/>
<line x1="141.7" y1="746.3" x2="98.2" y2="764.0" stroke="#2a2a2a" stroke-width="1.15"/><polygon points="0,0 -5.6,-3.2 -5.6,3.2" fill="#2a2a2a" transform="translate(95.1,765.3) rotate(157.8)"/>
<line x1="136.2" y1="769.3" x2="122.0" y2="770.9" stroke="#2a2a2a" stroke-width="1.15"/><polygon points="0,0 -5.6,-3.2 -5.6,3.2" fill="#2a2a2a" transform="translate(118.7,771.3) rotate(173.5)"/>
<line x1="121.7" y1="795" x2="92.3" y2="786.9" stroke="#2a2a2a" stroke-width="1.15"/><polygon points="0,0 -5.6,-3.2 -5.6,3.2" fill="#2a2a2a" transform="translate(89.1,786) rotate(-164.6)"/>
<line x1="143.7" y1="817.6" x2="85.9" y2="811.4" stroke="#2a2a2a" stroke-width="1.15"/><polygon points="0,0 -5.6,-3.2 -5.6,3.2" fill="#2a2a2a" transform="translate(82.6,811) rotate(-173.8)"/>
<line x1="106.7" y1="844.1" x2="88.3" y2="823.6" stroke="#2a2a2a" stroke-width="1.15"/><polygon points="0,0 -5.6,-3.2 -5.6,3.2" fill="#2a2a2a" transform="translate(86.1,821.1) rotate(-131.8)"/>
<line x1="97.6" y1="867.6" x2="74.4" y2="831.4" stroke="#2a2a2a" stroke-width="1.15"/><polygon points="0,0 -5.6,-3.2 -5.6,3.2" fill="#2a2a2a" transform="translate(72.6,828.6) rotate(-122.7)"/>
<line x1="56.6" y1="888.7" x2="73.9" y2="844.7" stroke="#2a2a2a" stroke-width="1.15"/><polygon points="0,0 -5.6,-3.2 -5.6,3.2" fill="#2a2a2a" transform="translate(75.1,841.6) rotate(-68.6)"/>
<line x1="281.4" y1="888.6" x2="302.8" y2="823.5" stroke="#2a2a2a" stroke-width="1.15"/><polygon points="0,0 -5.6,-3.2 -5.6,3.2" fill="#2a2a2a" transform="translate(303.8,820.3) rotate(-71.8)"/>
<line x1="281.4" y1="888.6" x2="255.4" y2="752.8" stroke="#2a2a2a" stroke-width="1.15"/><polygon points="0,0 -5.6,-3.2 -5.6,3.2" fill="#2a2a2a" transform="translate(254.8,749.5) rotate(-100.8)"/>
<g font-size="12.5" fill="#1a1a1a">
<text x="63.6" y="605">Lambayeque</text>
<text x="45" y="629.1">Trujillo</text>
<text x="28.5" y="651.1">Huaraz</text>
<text x="33.5" y="679.7">Lima</text>
<text x="6.5" y="705.2">El Carmen</text>
<text x="25" y="730.7">PEL</text>
<text x="250.4" y="636.6">Tumbes</text>
<text x="266.4" y="694.2">Iquitos</text>
<text x="143.2" y="745.2">Ayacucho</text>
<text x="139.7" y="772.1">Arequipa</text>
<text x="126" y="799.8">Moquegua</text>
<text x="145.7" y="824.3">Tacna</text>
<text x="109.2" y="849">Cusco</text>
<text x="100.7" y="877.2">Juliaca</text>
</g>
<text x="177.8" y="606.6" font-size="12.4" fill="#5a58c0">COAST</text>
<text x="25" y="900.3" font-size="12.4" fill="#a47a2e">ANDEAN</text>
<text x="228.8" y="901.6" font-size="12.5" fill="#58c860">AMAZONIAN</text>
<g font-size="8.3" fill="#444">
<text x="27.3" y="634.9" text-anchor="end">20</text>
<line x1="29.4" y1="631.9" x2="32.6" y2="631.9" stroke="#333" stroke-width="0.9"/>
<text x="27.3" y="740.1" text-anchor="end">0</text>
<line x1="29.4" y1="737.1" x2="32.6" y2="737.1" stroke="#333" stroke-width="0.9"/>
<text x="27.3" y="845.2" text-anchor="end">-20</text>
<line x1="29.4" y1="842.2" x2="32.6" y2="842.2" stroke="#333" stroke-width="0.9"/>
<text x="27.3" y="950.2" text-anchor="end">-40</text>
<line x1="29.4" y1="947.2" x2="32.6" y2="947.2" stroke="#333" stroke-width="0.9"/>
<text x="35.6" y="991.2" text-anchor="middle">-25</text>
<line x1="35.6" y1="979.8" x2="35.6" y2="982.4" stroke="#333" stroke-width="0.9"/>
<text x="138.2" y="991.2" text-anchor="middle">0</text>
<line x1="138.2" y1="979.8" x2="138.2" y2="982.4" stroke="#333" stroke-width="0.9"/>
<text x="240.8" y="991.2" text-anchor="middle">25</text>
<line x1="240.8" y1="979.8" x2="240.8" y2="982.4" stroke="#333" stroke-width="0.9"/>
<text x="343.4" y="991.2" text-anchor="middle">50</text>
<line x1="343.4" y1="979.8" x2="343.4" y2="982.4" stroke="#333" stroke-width="0.9"/>
</g>
<text x="215.5" y="1003.6" font-size="10.6" fill="#1a1a1a">PC1</text>
<text transform="translate(10,797) rotate(-90)" font-size="11" fill="#1a1a1a">-PC2</text>
<text x="1.1" y="590" font-size="20.5" fill="#1a1a1a">B</text>
</g></svg>
</body></html>
